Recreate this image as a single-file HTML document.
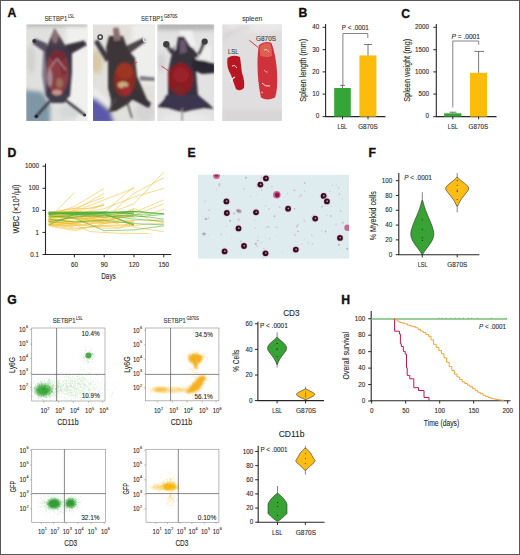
<!DOCTYPE html>
<html><head><meta charset="utf-8"><style>
html,body{margin:0;padding:0;background:#fff;overflow:hidden;}
svg{display:block;font-family:"Liberation Sans", sans-serif;}
</style></head><body>
<svg width="520" height="555" viewBox="0 0 520 555">
<rect x="0" y="0" width="520" height="555" fill="#fff"/>
<text x="7.60" y="16.99" font-size="12.2" font-weight="bold" fill="#111" stroke="#111" stroke-width="0.35">A</text>
<text x="298.60" y="17.39" font-size="12.2" font-weight="bold" fill="#111" stroke="#111" stroke-width="0.35">B</text>
<text x="401.20" y="17.79" font-size="12.2" font-weight="bold" fill="#111" stroke="#111" stroke-width="0.35">C</text>
<text x="7.60" y="156.99" font-size="12.2" font-weight="bold" fill="#111" stroke="#111" stroke-width="0.35">D</text>
<text x="187.60" y="156.99" font-size="12.2" font-weight="bold" fill="#111" stroke="#111" stroke-width="0.35">E</text>
<text x="368.40" y="156.99" font-size="12.2" font-weight="bold" fill="#111" stroke="#111" stroke-width="0.35">F</text>
<text x="7.20" y="303.99" font-size="12.2" font-weight="bold" fill="#111" stroke="#111" stroke-width="0.35">G</text>
<text x="341.20" y="303.99" font-size="12.2" font-weight="bold" fill="#111" stroke="#111" stroke-width="0.35">H</text>
<defs>
<filter id="bl1" x="-20%" y="-20%" width="140%" height="140%"><feGaussianBlur stdDeviation="0.8"/></filter>
<filter id="bl2" x="-30%" y="-30%" width="160%" height="160%"><feGaussianBlur stdDeviation="2.2"/></filter>
<filter id="bl05" x="-20%" y="-20%" width="140%" height="140%"><feGaussianBlur stdDeviation="0.5"/></filter>
<clipPath id="cp1"><rect x="26.3" y="24.4" width="61" height="96.6"/></clipPath>
<clipPath id="cp2"><rect x="93" y="24.5" width="61.8" height="96.5"/></clipPath>
<clipPath id="cp3"><rect x="157.3" y="24.5" width="56.8" height="96.5"/></clipPath>
<clipPath id="cp4"><rect x="222.3" y="24.5" width="59.7" height="96.5"/></clipPath>
</defs>
<g clip-path="url(#cp1)">
<rect x="26" y="24" width="62" height="98" fill="#e0e0de"/>
<g filter="url(#bl2)">
<rect x="66" y="24" width="24" height="98" fill="#f0f0ee"/>
<rect x="26" y="22" width="62" height="4" fill="#a8a8a8"/>
<path d="M24,90 L42,92 L50,104 L50,124 L24,124 Z" fill="#7e96a6"/>
<ellipse cx="31" cy="60" rx="4" ry="14" fill="#d0d0d0"/>
<ellipse cx="70" cy="112" rx="10" ry="8" fill="#d4d8d8"/>
</g>
<g filter="url(#bl1)">
<path d="M43,52 L49,52 L50,95 L45,96 L42,75 Z" fill="#857e8e"/>
<path d="M46,46 L68,46 L72,52 L72,72 L70,96 L63,102 L51,102 L46,96 L46.5,75 L45,52 Z" fill="#3e3846"/>
<path d="M54.6,28.3 L46.5,47.5 L66.5,47.5 Z" fill="#463c48"/>
<ellipse cx="55" cy="37" rx="3.2" ry="6.5" fill="#8a7078"/>
<path d="M47,43.5 L35,38.5 L32.5,43.5 L46,53 Z" fill="#575062"/>
<path d="M65,45 L84,40.5 L87,45 L71,54 Z" fill="#38323e"/>
<path d="M47,94 L69,94 L64,103 L51,103 Z" fill="#423c4c"/>
<path d="M50,101 L36.5,116 M64,99 L84.5,114.8" stroke="#3a3540" stroke-width="2.4" fill="none"/>
<ellipse cx="57.5" cy="72.5" rx="11.2" ry="22.5" fill="#8c3c46"/>
<ellipse cx="58" cy="56" rx="8" ry="5.5" fill="#742a34"/>
<ellipse cx="49.8" cy="78" rx="2.6" ry="9" fill="#a88a90"/>
<ellipse cx="59.5" cy="83" rx="3.5" ry="5" fill="#9a6e52"/>
<ellipse cx="57" cy="92.5" rx="5" ry="3" fill="#c49484"/>
<ellipse cx="64" cy="68" rx="3.5" ry="8" fill="#7e3038"/>
<path d="M48.5,70 L57,58.6 L66,70" fill="none" stroke="#c8a8ac" stroke-width="1.0"/>
</g>
<circle cx="34.3" cy="41" r="2" fill="#3a3434"/>
<circle cx="36.3" cy="116.3" r="1.9" fill="#2a2a2a"/>
<circle cx="84.6" cy="115" r="1.5" fill="#333"/>
</g>
<g clip-path="url(#cp2)">
<rect x="93" y="24" width="62" height="98" fill="#e2e0dc"/>
<g filter="url(#bl2)">
<rect x="132" y="24" width="26" height="60" fill="#eeeeec"/>
<ellipse cx="97" cy="62" rx="6" ry="12" fill="#d8c8a6"/>
<path d="M90,98 L106,99 L114,124 L90,124 Z" fill="#5a58a8"/>
<ellipse cx="145" cy="112" rx="10" ry="10" fill="#d4d4d6"/>
<path d="M92,86 L112,104 L110,110 L90,94 Z" fill="#eeeeee"/>
</g>
<g filter="url(#bl1)">
<path d="M94,42 L98,39.5 L110,58 L106,62 Z" fill="#3e3a40"/>
<path d="M120,49 L143,38 L146,41.5 L126,56 Z" fill="#4a4448"/>
<path d="M109,36 L123,36 L128,50 L135,58 L137,76 L149,104 L146,107 L134,98 L128,104 L116,111 L110,112 L111,100 L108,88 L108,60 L106,48 Z" fill="#3c3639"/>
<path d="M113,28 L118.5,27.5 L121,40 L114,41 Z" fill="#8a6e70"/>
<path d="M140,76 L155,77.5 L155,81 L140,80.5 Z" fill="#7a7a80"/>
<path d="M116,98 L108,113 M127,102 L132,118" stroke="#505058" stroke-width="1.6" fill="none"/>
<path d="M133,88 L151,103 L149,108 L131,99 Z" fill="#38323a"/>
<ellipse cx="124.6" cy="79.5" rx="10.5" ry="17" fill="#8e2c20"/>
<ellipse cx="125" cy="71" rx="8.5" ry="8" fill="#9c3422"/>
<ellipse cx="123" cy="85" rx="5.5" ry="3.5" fill="#c8aa7c"/>
<ellipse cx="126" cy="90.5" rx="5" ry="4" fill="#a02a36"/>
</g>
<line x1="137" y1="62" x2="132" y2="65" stroke="#e02020" stroke-width="0.8"/>
<circle cx="100.2" cy="37.1" r="2.2" fill="none" stroke="#3a3a3c" stroke-width="1.4"/>
<circle cx="145.4" cy="39.5" r="2" fill="none" stroke="#e8e8e8" stroke-width="1.2"/>
</g>
<g clip-path="url(#cp3)">
<rect x="157" y="24" width="58" height="98" fill="#e2e2e2"/>
<g filter="url(#bl2)">
<rect x="157" y="22" width="58" height="8" fill="#b4b4b4"/>
<ellipse cx="161" cy="62" rx="4" ry="10" fill="#d2d2d2"/>
<ellipse cx="186" cy="118" rx="24" ry="4" fill="#eaeaea"/>
</g>
<g filter="url(#bl1)">
<path d="M179,31 L192,31 L196,46 L186,46 Z" fill="#f0f0f0"/>
<path d="M197,46 L211,46 L211,63 L198,63 Z" fill="#eeeeec"/>
<path d="M166.3,44.3 L172.4,53.6 M204.7,41.5 L198.7,54.7" stroke="#3a3a3e" stroke-width="3.2" fill="none"/>
<path d="M169,52 L176,50 L178,37 L184,36.5 L190,46 L197,53 L199,58 L195,57 L196,72 L198,95 L209,104 L214,109 L204,108 L192,110 L184,112 L178,111 L168,108 L157,107 L162,102 L168,95 L168,72 L171,57 L175,46 Z" fill="#38303e"/>
<path d="M180,40 L185,40 L187,52 L180,54 Z" fill="#6a5a70"/>
<path d="M192,59 L206,61 L215,64 L215,73 L202,74 L193,70 Z" fill="#2c2630"/>
<path d="M166,95 L198,95 L207,104 L196,109 L178,109 L163,104 Z" fill="#3a3650"/>
<ellipse cx="180.5" cy="79" rx="12.5" ry="16" fill="#8a1a22"/>
<ellipse cx="181" cy="75" rx="8" ry="8" fill="#9a2029"/>
<ellipse cx="178" cy="90" rx="5" ry="3" fill="#7a2a22"/>
<path d="M182.2,108 L182.2,121" stroke="#8a8a90" stroke-width="1.4"/>
</g>
<line x1="161.4" y1="66.1" x2="169.7" y2="71.6" stroke="#e02030" stroke-width="0.8"/>
<circle cx="166.3" cy="44.3" r="3.2" fill="#3e3e40"/>
<circle cx="204.7" cy="41.5" r="3.1" fill="#3e3e40"/>
</g>
<g clip-path="url(#cp4)">
<rect x="222" y="24" width="61" height="98" fill="#e0dede"/>
<g filter="url(#bl2)">
<ellipse cx="258" cy="27" rx="30" ry="5" fill="#eae8e8"/>
<path d="M224,40 Q230,28 250,27" fill="none" stroke="#c8c6c6" stroke-width="2"/>
<rect x="222" y="110" width="61" height="13" fill="#d8d6d6"/>
</g>
<g filter="url(#bl05)">
<path d="M227.5,58 Q233,54 240,57 Q241,65 242,73 Q245,81 244,88 Q240,92 236,89 Q233,81 231,75 Q226,67 227.5,58 Z" fill="#b81824"/>
<path d="M259,45 Q265,40 271.5,43 Q276,55 277,72 Q278,90 275,97.5 Q267,101.5 261,97.5 Q257.5,82 257.5,64 Q257.5,52 259,45 Z" fill="#d0303a"/>
<path d="M260,46 Q265,41 270.5,44 Q272.5,50 272,56 Q267,58 260.5,56 Q259,51 260,46 Z" fill="#de6052"/>
<path d="M232,66 Q235,64 237,68" fill="none" stroke="#f4e0e0" stroke-width="0.9"/>
<path d="M231,82 Q232,78 235,77" fill="none" stroke="#f8f0f0" stroke-width="1.2"/>
<path d="M264,50 Q267,48 269,52" fill="none" stroke="#f4d8d0" stroke-width="0.8"/>
<path d="M262,83 Q265,87 270,86" fill="none" stroke="#f4e0e0" stroke-width="1"/>
<path d="M264,70 Q266,73 268,72" fill="none" stroke="#f0d0d0" stroke-width="0.7"/>
<path d="M261,92 L263,93" fill="none" stroke="#f0e0e0" stroke-width="0.8"/>
</g>
<line x1="249.3" y1="40.3" x2="258.2" y2="47.5" stroke="#d02838" stroke-width="0.9"/>
</g>
<text x="233.20" y="53.60" font-size="7.6" text-anchor="middle" textLength="10.4" lengthAdjust="spacingAndGlyphs" fill="#383838" stroke="#383838" stroke-width="0.1">LSL</text>
<text x="266.00" y="40.60" font-size="7.6" text-anchor="middle" textLength="20" lengthAdjust="spacingAndGlyphs" fill="#383838" stroke="#383838" stroke-width="0.1">G870S</text>
<text x="44.40" y="20.90" font-size="7.0" textLength="22.9" lengthAdjust="spacingAndGlyphs" fill="#333" stroke="#333" stroke-width="0.1">SETBP1</text>
<text x="67.90" y="17.60" font-size="4.6" textLength="6.2" lengthAdjust="spacingAndGlyphs" fill="#333" stroke="#333" stroke-width="0.1">LSL</text>
<text x="141.10" y="20.90" font-size="7.0" textLength="22.3" lengthAdjust="spacingAndGlyphs" fill="#333" stroke="#333" stroke-width="0.1">SETBP1</text>
<text x="164.00" y="17.60" font-size="4.6" textLength="13.5" lengthAdjust="spacingAndGlyphs" fill="#333" stroke="#333" stroke-width="0.1">G870S</text>
<text x="252.20" y="21.00" font-size="7.4" text-anchor="middle" textLength="20" lengthAdjust="spacingAndGlyphs" fill="#333" stroke="#333" stroke-width="0.1">spleen</text>
<line x1="325.60" y1="24.00" x2="325.60" y2="117.00" stroke="#262626" stroke-width="1.1"/>
<line x1="325.10" y1="116.60" x2="385.50" y2="116.60" stroke="#262626" stroke-width="1.1"/>
<line x1="322.60" y1="27.30" x2="325.60" y2="27.30" stroke="#262626" stroke-width="1"/>
<text x="319.20" y="29.10" font-size="6.8" text-anchor="end" textLength="7.0" lengthAdjust="spacingAndGlyphs" fill="#262626" stroke="#262626" stroke-width="0.1">40</text>
<line x1="322.60" y1="49.70" x2="325.60" y2="49.70" stroke="#262626" stroke-width="1"/>
<text x="319.20" y="51.50" font-size="6.8" text-anchor="end" textLength="7.0" lengthAdjust="spacingAndGlyphs" fill="#262626" stroke="#262626" stroke-width="0.1">30</text>
<line x1="322.60" y1="71.90" x2="325.60" y2="71.90" stroke="#262626" stroke-width="1"/>
<text x="319.20" y="73.70" font-size="6.8" text-anchor="end" textLength="7.0" lengthAdjust="spacingAndGlyphs" fill="#262626" stroke="#262626" stroke-width="0.1">20</text>
<line x1="322.60" y1="94.10" x2="325.60" y2="94.10" stroke="#262626" stroke-width="1"/>
<text x="319.20" y="95.90" font-size="6.8" text-anchor="end" textLength="7.0" lengthAdjust="spacingAndGlyphs" fill="#262626" stroke="#262626" stroke-width="0.1">10</text>
<line x1="322.60" y1="116.60" x2="325.60" y2="116.60" stroke="#262626" stroke-width="1"/>
<text x="319.20" y="118.40" font-size="6.8" text-anchor="end" textLength="3.5" lengthAdjust="spacingAndGlyphs" fill="#262626" stroke="#262626" stroke-width="0.1">0</text>
<rect x="334.2" y="88.0" width="16.6" height="28.6" fill="#35a537"/>
<rect x="359.4" y="55.4" width="17.0" height="61.2" fill="#fcbc0c"/>
<line x1="342.50" y1="85.40" x2="342.50" y2="88.00" stroke="#555" stroke-width="0.8"/>
<line x1="340.20" y1="85.40" x2="345.00" y2="85.40" stroke="#555" stroke-width="0.8"/>
<line x1="368.00" y1="44.50" x2="368.00" y2="55.40" stroke="#555" stroke-width="0.8"/>
<line x1="364.20" y1="44.50" x2="372.00" y2="44.50" stroke="#555" stroke-width="0.8"/>
<polyline points="342.9,86 342.9,33.5 367.8,33.5 367.8,38" fill="none" stroke="#666" stroke-width="0.8"/>
<text x="355.30" y="29.90" font-size="6.8" text-anchor="middle" textLength="27" lengthAdjust="spacingAndGlyphs" fill="#262626" stroke="#262626" stroke-width="0.1">P &lt; .0001</text>
<line x1="342.50" y1="116.60" x2="342.50" y2="119.30" stroke="#262626" stroke-width="1"/>
<line x1="368.00" y1="116.60" x2="368.00" y2="119.30" stroke="#262626" stroke-width="1"/>
<text x="342.30" y="129.00" font-size="6.6" text-anchor="middle" textLength="9.6" lengthAdjust="spacingAndGlyphs" fill="#262626" stroke="#262626" stroke-width="0.1">LSL</text>
<text x="368.00" y="129.00" font-size="6.6" text-anchor="middle" textLength="19.5" lengthAdjust="spacingAndGlyphs" fill="#262626" stroke="#262626" stroke-width="0.1">G870S</text>
<text x="0.00" y="0.00" font-size="8.8" text-anchor="middle" textLength="63" lengthAdjust="spacingAndGlyphs" fill="#262626" stroke="#262626" stroke-width="0.1" transform="translate(306.4,70.3) rotate(-90)">Spleen length (mm)</text>
<line x1="436.30" y1="24.00" x2="436.30" y2="117.00" stroke="#262626" stroke-width="1.1"/>
<line x1="435.80" y1="116.60" x2="496.50" y2="116.60" stroke="#262626" stroke-width="1.1"/>
<line x1="433.30" y1="27.30" x2="436.30" y2="27.30" stroke="#262626" stroke-width="1"/>
<text x="429.00" y="29.10" font-size="6.8" text-anchor="end" textLength="14.0" lengthAdjust="spacingAndGlyphs" fill="#262626" stroke="#262626" stroke-width="0.1">2000</text>
<line x1="433.30" y1="49.70" x2="436.30" y2="49.70" stroke="#262626" stroke-width="1"/>
<text x="429.00" y="51.50" font-size="6.8" text-anchor="end" textLength="14.0" lengthAdjust="spacingAndGlyphs" fill="#262626" stroke="#262626" stroke-width="0.1">1500</text>
<line x1="433.30" y1="71.90" x2="436.30" y2="71.90" stroke="#262626" stroke-width="1"/>
<text x="429.00" y="73.70" font-size="6.8" text-anchor="end" textLength="14.0" lengthAdjust="spacingAndGlyphs" fill="#262626" stroke="#262626" stroke-width="0.1">1000</text>
<line x1="433.30" y1="94.10" x2="436.30" y2="94.10" stroke="#262626" stroke-width="1"/>
<text x="429.00" y="95.90" font-size="6.8" text-anchor="end" textLength="10.5" lengthAdjust="spacingAndGlyphs" fill="#262626" stroke="#262626" stroke-width="0.1">500</text>
<line x1="433.30" y1="116.60" x2="436.30" y2="116.60" stroke="#262626" stroke-width="1"/>
<text x="429.00" y="118.40" font-size="6.8" text-anchor="end" textLength="3.5" lengthAdjust="spacingAndGlyphs" fill="#262626" stroke="#262626" stroke-width="0.1">0</text>
<rect x="444.2" y="113.3" width="17.2" height="3.3" fill="#35a537"/>
<rect x="470.0" y="72.8" width="17.0" height="43.8" fill="#fcbc0c"/>
<line x1="452.80" y1="112.20" x2="452.80" y2="113.30" stroke="#555" stroke-width="0.8"/>
<line x1="449.50" y1="112.20" x2="456.50" y2="112.20" stroke="#555" stroke-width="0.8"/>
<line x1="478.60" y1="51.40" x2="478.60" y2="72.80" stroke="#555" stroke-width="0.8"/>
<line x1="474.40" y1="51.40" x2="484.00" y2="51.40" stroke="#555" stroke-width="0.8"/>
<polyline points="452.8,107.4 452.8,41 478.7,41 478.7,44.8" fill="none" stroke="#666" stroke-width="0.8"/>
<text x="465.70" y="38.60" font-size="6.8" text-anchor="middle" textLength="28.6" lengthAdjust="spacingAndGlyphs" fill="#262626" stroke="#262626" stroke-width="0.1"><tspan font-style="italic">P</tspan> = .0001</text>
<line x1="452.80" y1="116.60" x2="452.80" y2="119.30" stroke="#262626" stroke-width="1"/>
<line x1="478.60" y1="116.60" x2="478.60" y2="119.30" stroke="#262626" stroke-width="1"/>
<text x="452.80" y="129.00" font-size="6.6" text-anchor="middle" textLength="10" lengthAdjust="spacingAndGlyphs" fill="#262626" stroke="#262626" stroke-width="0.1">LSL</text>
<text x="478.30" y="129.00" font-size="6.6" text-anchor="middle" textLength="19.6" lengthAdjust="spacingAndGlyphs" fill="#262626" stroke="#262626" stroke-width="0.1">G870S</text>
<text x="0.00" y="0.00" font-size="8.8" text-anchor="middle" textLength="63" lengthAdjust="spacingAndGlyphs" fill="#262626" stroke="#262626" stroke-width="0.1" transform="translate(409.8,70.3) rotate(-90)">Spleen weight (mg)</text>
<line x1="45.50" y1="163.50" x2="45.50" y2="255.00" stroke="#262626" stroke-width="1.1"/>
<line x1="45.00" y1="254.50" x2="171.30" y2="254.50" stroke="#262626" stroke-width="1.1"/>
<line x1="42.50" y1="166.22" x2="45.50" y2="166.22" stroke="#262626" stroke-width="1"/>
<text x="39.00" y="168.32" font-size="6.8" text-anchor="end" textLength="14.0" lengthAdjust="spacingAndGlyphs" fill="#262626" stroke="#262626" stroke-width="0.1">1000</text>
<line x1="42.50" y1="188.29" x2="45.50" y2="188.29" stroke="#262626" stroke-width="1"/>
<text x="39.00" y="190.39" font-size="6.8" text-anchor="end" textLength="10.5" lengthAdjust="spacingAndGlyphs" fill="#262626" stroke="#262626" stroke-width="0.1">100</text>
<line x1="42.50" y1="210.36" x2="45.50" y2="210.36" stroke="#262626" stroke-width="1"/>
<text x="39.00" y="212.46" font-size="6.8" text-anchor="end" textLength="7.0" lengthAdjust="spacingAndGlyphs" fill="#262626" stroke="#262626" stroke-width="0.1">10</text>
<line x1="42.50" y1="232.43" x2="45.50" y2="232.43" stroke="#262626" stroke-width="1"/>
<text x="39.00" y="234.53" font-size="6.8" text-anchor="end" textLength="3.5" lengthAdjust="spacingAndGlyphs" fill="#262626" stroke="#262626" stroke-width="0.1">1</text>
<line x1="42.50" y1="254.50" x2="45.50" y2="254.50" stroke="#262626" stroke-width="1"/>
<text x="39.00" y="256.60" font-size="6.8" text-anchor="end" textLength="8.7" lengthAdjust="spacingAndGlyphs" fill="#262626" stroke="#262626" stroke-width="0.1">0.1</text>
<line x1="74.40" y1="254.50" x2="74.40" y2="257.30" stroke="#262626" stroke-width="1"/>
<text x="74.40" y="266.80" font-size="6.8" text-anchor="middle" textLength="7.0" lengthAdjust="spacingAndGlyphs" fill="#262626" stroke="#262626" stroke-width="0.1">60</text>
<line x1="104.20" y1="254.50" x2="104.20" y2="257.30" stroke="#262626" stroke-width="1"/>
<text x="104.20" y="266.80" font-size="6.8" text-anchor="middle" textLength="7.0" lengthAdjust="spacingAndGlyphs" fill="#262626" stroke="#262626" stroke-width="0.1">90</text>
<line x1="134.00" y1="254.50" x2="134.00" y2="257.30" stroke="#262626" stroke-width="1"/>
<text x="134.00" y="266.80" font-size="6.8" text-anchor="middle" textLength="10.5" lengthAdjust="spacingAndGlyphs" fill="#262626" stroke="#262626" stroke-width="0.1">120</text>
<line x1="163.80" y1="254.50" x2="163.80" y2="257.30" stroke="#262626" stroke-width="1"/>
<text x="163.80" y="266.80" font-size="6.8" text-anchor="middle" textLength="10.5" lengthAdjust="spacingAndGlyphs" fill="#262626" stroke="#262626" stroke-width="0.1">150</text>
<text x="108.50" y="278.90" font-size="8.8" text-anchor="middle" textLength="14.5" lengthAdjust="spacingAndGlyphs" fill="#262626" stroke="#262626" stroke-width="0.1">Days</text>
<text x="0.00" y="0.00" font-size="8.8" text-anchor="middle" fill="#262626" stroke="#262626" stroke-width="0.1" transform="translate(19.3,209) rotate(-90) scale(0.862,1)">WBC (×10<tspan font-size="5" dy="-3">3</tspan><tspan dy="3" dx="0.8">/µl)</tspan></text>
<polyline points="48.6,219.1 74.4,221.9 104.2,215.3 134.0,203.7 163.8,172.1" fill="none" stroke="#f2bd2e" stroke-width="0.65" stroke-opacity="0.85"/>
<polyline points="48.6,217.0 74.4,215.3 104.2,208.6 134.0,197.1 163.8,188.3" fill="none" stroke="#f2bd2e" stroke-width="0.65" stroke-opacity="0.85"/>
<polyline points="48.6,221.9 74.4,217.0 104.2,212.5 134.0,186.5" fill="none" stroke="#f2bd2e" stroke-width="0.65" stroke-opacity="0.85"/>
<polyline points="48.6,215.3 74.4,206.5 104.2,188.3" fill="none" stroke="#f2bd2e" stroke-width="0.65" stroke-opacity="0.85"/>
<polyline points="48.6,219.1 74.4,192.4" fill="none" stroke="#f2bd2e" stroke-width="0.65" stroke-opacity="0.85"/>
<polyline points="48.6,212.5 74.4,208.6 104.2,197.1" fill="none" stroke="#f2bd2e" stroke-width="0.65" stroke-opacity="0.85"/>
<polyline points="48.6,223.6 74.4,225.8 104.2,221.9 134.0,212.5 163.8,199.8" fill="none" stroke="#f2bd2e" stroke-width="0.65" stroke-opacity="0.85"/>
<polyline points="48.6,217.0 74.4,219.1 104.2,217.0 134.0,215.3 163.8,203.7" fill="none" stroke="#f2bd2e" stroke-width="0.65" stroke-opacity="0.85"/>
<polyline points="48.6,221.9 74.4,223.6 104.2,219.1 134.0,193.2 163.8,177.8" fill="none" stroke="#f2bd2e" stroke-width="0.65" stroke-opacity="0.85"/>
<polyline points="48.6,213.8 74.4,211.4 104.2,199.8 134.0,188.3" fill="none" stroke="#f2bd2e" stroke-width="0.65" stroke-opacity="0.85"/>
<polyline points="48.6,219.1 64.5,213.8 74.4,210.4 104.2,193.2" fill="none" stroke="#f2bd2e" stroke-width="0.65" stroke-opacity="0.85"/>
<polyline points="48.6,225.8 74.4,230.7 104.2,223.6 134.0,208.6" fill="none" stroke="#f2bd2e" stroke-width="0.65" stroke-opacity="0.85"/>
<polyline points="49.9,216.8 74.4,218.6 104.2,222.6 134.0,222.3" fill="none" stroke="#f2bd2e" stroke-width="0.7" stroke-opacity="0.8"/>
<polyline points="48.5,214.4 74.4,213.0" fill="none" stroke="#f2bd2e" stroke-width="0.7" stroke-opacity="0.8"/>
<polyline points="49.1,222.2 74.4,224.0 89.3,231.5 119.1,233.3 148.9,233.5" fill="none" stroke="#f2bd2e" stroke-width="0.7" stroke-opacity="0.8"/>
<polyline points="47.7,225.2 74.4,225.4 89.3,224.9 119.1,227.7 148.9,223.8 163.8,223.7" fill="none" stroke="#f2bd2e" stroke-width="0.7" stroke-opacity="0.8"/>
<polyline points="47.6,220.5 74.4,221.0 104.2,220.5 134.0,220.3 163.8,220.0" fill="none" stroke="#f2bd2e" stroke-width="0.7" stroke-opacity="0.8"/>
<polyline points="49.1,224.5 74.4,227.0" fill="none" stroke="#f2bd2e" stroke-width="0.7" stroke-opacity="0.8"/>
<polyline points="47.8,220.6 74.4,218.3 104.2,219.1 134.0,216.4" fill="none" stroke="#f2bd2e" stroke-width="0.7" stroke-opacity="0.8"/>
<polyline points="49.4,211.8 74.4,213.6 104.2,213.1" fill="none" stroke="#f2bd2e" stroke-width="0.7" stroke-opacity="0.8"/>
<polyline points="48.3,219.5 74.4,214.9 89.3,220.2 104.2,223.4 134.0,220.8" fill="none" stroke="#f2bd2e" stroke-width="0.7" stroke-opacity="0.8"/>
<polyline points="50.1,216.3 74.4,217.6 89.3,219.1 104.2,220.1" fill="none" stroke="#f2bd2e" stroke-width="0.7" stroke-opacity="0.8"/>
<polyline points="49.2,223.0 74.4,223.8 104.2,228.3 119.1,228.3 134.0,220.4" fill="none" stroke="#f2bd2e" stroke-width="0.7" stroke-opacity="0.8"/>
<polyline points="49.0,213.2 74.4,210.9 104.2,216.0 134.0,211.4 148.9,219.4 163.8,223.0" fill="none" stroke="#f2bd2e" stroke-width="0.7" stroke-opacity="0.8"/>
<polyline points="48.6,213.3 74.4,211.3 89.3,212.0 119.1,212.8 134.0,210.8" fill="none" stroke="#f2bd2e" stroke-width="0.7" stroke-opacity="0.8"/>
<polyline points="50.0,225.7 74.4,229.1 104.2,225.3 134.0,224.5" fill="none" stroke="#f2bd2e" stroke-width="0.7" stroke-opacity="0.8"/>
<polyline points="49.7,214.4 74.4,211.1 104.2,218.0 119.1,215.0 134.0,208.6 148.9,214.7 163.8,209.0" fill="none" stroke="#f2bd2e" stroke-width="0.7" stroke-opacity="0.8"/>
<polyline points="50.3,218.3 74.4,214.0 104.2,216.1" fill="none" stroke="#f2bd2e" stroke-width="0.7" stroke-opacity="0.8"/>
<polyline points="50.3,213.2 74.4,208.2 89.3,208.8 104.2,205.0" fill="none" stroke="#f2bd2e" stroke-width="0.7" stroke-opacity="0.8"/>
<polyline points="49.6,222.2 74.4,222.2 104.2,223.7 119.1,221.5" fill="none" stroke="#f2bd2e" stroke-width="0.7" stroke-opacity="0.8"/>
<polyline points="50.3,225.1 74.4,223.7 89.3,218.2 119.1,223.9" fill="none" stroke="#f2bd2e" stroke-width="0.7" stroke-opacity="0.8"/>
<polyline points="49.0,221.4 74.4,221.5" fill="none" stroke="#f2bd2e" stroke-width="0.7" stroke-opacity="0.8"/>
<polyline points="47.8,216.7 74.4,218.8" fill="none" stroke="#f2bd2e" stroke-width="0.7" stroke-opacity="0.8"/>
<polyline points="49.8,214.8 74.4,216.9 104.2,215.7 134.0,215.8" fill="none" stroke="#f2bd2e" stroke-width="0.7" stroke-opacity="0.8"/>
<polyline points="47.7,212.7 74.4,212.6 89.3,207.9 104.2,205.2" fill="none" stroke="#f2bd2e" stroke-width="0.7" stroke-opacity="0.8"/>
<polyline points="49.3,217.7 74.4,213.8 89.3,214.4" fill="none" stroke="#f2bd2e" stroke-width="0.7" stroke-opacity="0.8"/>
<polyline points="50.4,221.4 74.4,217.7" fill="none" stroke="#f2bd2e" stroke-width="0.7" stroke-opacity="0.8"/>
<polyline points="49.4,216.4 74.4,214.4 89.3,210.9 104.2,203.7" fill="none" stroke="#f2bd2e" stroke-width="0.7" stroke-opacity="0.8"/>
<polyline points="47.7,213.6 74.4,217.6 104.2,217.6 119.1,214.3" fill="none" stroke="#f2bd2e" stroke-width="0.7" stroke-opacity="0.8"/>
<polyline points="50.0,213.4 74.4,213.3 89.3,216.7 104.2,222.7" fill="none" stroke="#f2bd2e" stroke-width="0.7" stroke-opacity="0.8"/>
<polyline points="49.4,216.6 74.4,216.9 104.2,215.3 119.1,219.2 134.0,223.2" fill="none" stroke="#f2bd2e" stroke-width="0.7" stroke-opacity="0.8"/>
<polyline points="47.7,213.0 74.4,211.6" fill="none" stroke="#f2bd2e" stroke-width="0.7" stroke-opacity="0.8"/>
<polyline points="50.4,222.7 74.4,223.1" fill="none" stroke="#f2bd2e" stroke-width="0.7" stroke-opacity="0.8"/>
<polyline points="49.5,222.2 74.4,221.9 89.3,223.0 119.1,218.4 134.0,227.2 163.8,231.7" fill="none" stroke="#f2bd2e" stroke-width="0.7" stroke-opacity="0.8"/>
<polyline points="47.8,221.1 74.4,224.8 89.3,220.3 104.2,219.7 134.0,216.2" fill="none" stroke="#f2bd2e" stroke-width="0.7" stroke-opacity="0.8"/>
<polyline points="47.8,223.9 74.4,228.1 104.2,226.0 134.0,225.5" fill="none" stroke="#f2bd2e" stroke-width="0.7" stroke-opacity="0.8"/>
<polyline points="48.6,213.1 74.4,213.1 104.2,212.5 134.0,211.9" fill="none" stroke="#4cb23a" stroke-width="1.1" stroke-opacity="0.85"/>
<polyline points="48.6,212.5 74.4,213.8 104.2,213.1 134.0,211.4 163.8,213.8" fill="none" stroke="#4cb23a" stroke-width="1.1" stroke-opacity="0.85"/>
<polyline points="48.6,214.5 74.4,212.5 104.2,211.9 134.0,213.8" fill="none" stroke="#4cb23a" stroke-width="1.1" stroke-opacity="0.85"/>
<polyline points="48.6,213.8 74.4,214.5 104.2,213.8 134.0,224.9" fill="none" stroke="#4cb23a" stroke-width="1.1" stroke-opacity="0.85"/>
<polyline points="48.6,217.0 74.4,215.3 104.2,213.8 134.0,217.0 163.8,214.5" fill="none" stroke="#4cb23a" stroke-width="0.7" stroke-opacity="0.85"/>
<polyline points="48.6,215.3 74.4,218.0 104.2,230.7 134.0,229.9 163.8,225.8" fill="none" stroke="#4cb23a" stroke-width="0.7" stroke-opacity="0.85"/>
<polyline points="48.6,219.1 74.4,221.9 104.2,220.4 134.0,223.6 163.8,224.9" fill="none" stroke="#4cb23a" stroke-width="0.7" stroke-opacity="0.85"/>
<polyline points="48.6,221.9 74.4,217.0 104.2,215.3 134.0,219.1 163.8,221.3" fill="none" stroke="#4cb23a" stroke-width="0.7" stroke-opacity="0.85"/>
<polyline points="48.6,211.9 74.4,212.5 104.2,212.5 134.0,214.5 163.8,213.5" fill="none" stroke="#4cb23a" stroke-width="0.7" stroke-opacity="0.85"/>
<polyline points="48.6,224.9 74.4,214.5 104.2,217.0 134.0,215.3 163.8,219.1" fill="none" stroke="#4cb23a" stroke-width="0.7" stroke-opacity="0.85"/>
<clipPath id="cpE"><rect x="198" y="174.6" width="151" height="84.2"/></clipPath>
<g clip-path="url(#cpE)">
<rect x="198" y="174.6" width="151" height="84.2" fill="#dfecef"/>
<circle cx="263.8" cy="248.4" r="0.66" fill="#c0b0bc" opacity="0.7"/>
<circle cx="304.9" cy="183.0" r="0.91" fill="#b8a8b8" opacity="0.7"/>
<circle cx="322.0" cy="231.0" r="0.66" fill="#c8bcc8" opacity="0.7"/>
<circle cx="208.6" cy="218.1" r="0.93" fill="#c8bcc8" opacity="0.7"/>
<circle cx="238.7" cy="219.5" r="0.92" fill="#b8a8b8" opacity="0.7"/>
<circle cx="332.6" cy="185.4" r="0.53" fill="#b8a8b8" opacity="0.7"/>
<circle cx="295.0" cy="234.8" r="1.10" fill="#c8bcc8" opacity="0.7"/>
<circle cx="338.9" cy="245.0" r="0.94" fill="#a89aa8" opacity="0.7"/>
<circle cx="294.5" cy="190.3" r="0.93" fill="#c0b0bc" opacity="0.7"/>
<circle cx="311.9" cy="234.9" r="0.71" fill="#b8a8b8" opacity="0.7"/>
<circle cx="261.5" cy="177.8" r="0.99" fill="#c0b0bc" opacity="0.7"/>
<circle cx="279.8" cy="207.2" r="0.78" fill="#b8a8b8" opacity="0.7"/>
<circle cx="255.8" cy="243.9" r="1.04" fill="#a89aa8" opacity="0.7"/>
<circle cx="256.7" cy="186.4" r="0.93" fill="#c8bcc8" opacity="0.7"/>
<circle cx="221.1" cy="234.2" r="0.98" fill="#c8bcc8" opacity="0.7"/>
<circle cx="336.2" cy="185.2" r="0.46" fill="#a89aa8" opacity="0.7"/>
<circle cx="216.4" cy="189.7" r="0.80" fill="#c8bcc8" opacity="0.7"/>
<circle cx="265.5" cy="237.3" r="0.53" fill="#c0b0bc" opacity="0.7"/>
<circle cx="231.4" cy="238.8" r="0.45" fill="#c8bcc8" opacity="0.7"/>
<circle cx="269.5" cy="177.7" r="0.62" fill="#c0b0bc" opacity="0.7"/>
<circle cx="306.2" cy="212.8" r="0.44" fill="#c0b0bc" opacity="0.7"/>
<circle cx="347.3" cy="248.8" r="1.04" fill="#a89aa8" opacity="0.7"/>
<circle cx="257.7" cy="193.9" r="0.49" fill="#b8a8b8" opacity="0.7"/>
<circle cx="203.9" cy="216.8" r="0.49" fill="#b8a8b8" opacity="0.7"/>
<circle cx="327.2" cy="215.2" r="0.53" fill="#b8a8b8" opacity="0.7"/>
<circle cx="298.8" cy="197.1" r="0.77" fill="#c8bcc8" opacity="0.7"/>
<circle cx="275.9" cy="227.2" r="0.78" fill="#c0b0bc" opacity="0.7"/>
<circle cx="257.9" cy="240.6" r="1.01" fill="#c0b0bc" opacity="0.7"/>
<circle cx="219.3" cy="184.4" r="1.09" fill="#b8a8b8" opacity="0.7"/>
<circle cx="339.3" cy="194.1" r="1.08" fill="#c8bcc8" opacity="0.7"/>
<circle cx="274.5" cy="216.3" r="1.04" fill="#b8a8b8" opacity="0.7"/>
<circle cx="205.0" cy="201.2" r="0.82" fill="#c8bcc8" opacity="0.7"/>
<circle cx="234.2" cy="213.6" r="1.02" fill="#b8a8b8" opacity="0.7"/>
<circle cx="312.4" cy="243.8" r="0.93" fill="#c8bcc8" opacity="0.7"/>
<circle cx="325.6" cy="231.6" r="0.91" fill="#a89aa8" opacity="0.7"/>
<circle cx="243.9" cy="188.9" r="0.93" fill="#c8bcc8" opacity="0.7"/>
<circle cx="336.0" cy="224.5" r="0.63" fill="#b8a8b8" opacity="0.7"/>
<circle cx="338.6" cy="187.9" r="0.76" fill="#c0b0bc" opacity="0.7"/>
<circle cx="342.8" cy="222.8" r="0.96" fill="#b8a8b8" opacity="0.7"/>
<circle cx="241.0" cy="241.5" r="0.89" fill="#c8bcc8" opacity="0.7"/>
<circle cx="340.6" cy="211.0" r="0.69" fill="#a89aa8" opacity="0.7"/>
<circle cx="302.1" cy="244.3" r="0.63" fill="#c0b0bc" opacity="0.7"/>
<circle cx="230.1" cy="220.8" r="0.94" fill="#a89aa8" opacity="0.7"/>
<circle cx="208.7" cy="235.4" r="0.41" fill="#a89aa8" opacity="0.7"/>
<circle cx="268.8" cy="209.0" r="0.90" fill="#c8bcc8" opacity="0.7"/>
<circle cx="277.0" cy="235.7" r="0.46" fill="#c8bcc8" opacity="0.7"/>
<circle cx="282.2" cy="252.4" r="0.43" fill="#a89aa8" opacity="0.7"/>
<circle cx="266.5" cy="227.4" r="0.79" fill="#c8bcc8" opacity="0.7"/>
<circle cx="287.4" cy="193.4" r="0.54" fill="#b8a8b8" opacity="0.7"/>
<circle cx="329.9" cy="191.4" r="0.72" fill="#c8bcc8" opacity="0.7"/>
<circle cx="304.4" cy="220.9" r="0.96" fill="#c8bcc8" opacity="0.7"/>
<circle cx="268.4" cy="226.5" r="0.97" fill="#c0b0bc" opacity="0.7"/>
<circle cx="294.6" cy="208.7" r="0.79" fill="#a89aa8" opacity="0.7"/>
<circle cx="258.0" cy="236.8" r="0.67" fill="#c0b0bc" opacity="0.7"/>
<circle cx="311.6" cy="216.8" r="0.64" fill="#c0b0bc" opacity="0.7"/>
<circle cx="322.2" cy="206.6" r="0.99" fill="#b8a8b8" opacity="0.7"/>
<circle cx="265.6" cy="234.2" r="0.42" fill="#c8bcc8" opacity="0.7"/>
<circle cx="257.1" cy="246.4" r="0.81" fill="#c0b0bc" opacity="0.7"/>
<circle cx="298.0" cy="231.2" r="0.81" fill="#a89aa8" opacity="0.7"/>
<circle cx="261.7" cy="190.2" r="0.60" fill="#a89aa8" opacity="0.7"/>
<circle cx="263.2" cy="257.9" r="0.65" fill="#c0b0bc" opacity="0.7"/>
<circle cx="265.7" cy="205.8" r="0.81" fill="#c8bcc8" opacity="0.7"/>
<circle cx="331.5" cy="206.3" r="0.59" fill="#c8bcc8" opacity="0.7"/>
<circle cx="330.8" cy="216.0" r="0.88" fill="#b8a8b8" opacity="0.7"/>
<circle cx="328.1" cy="201.0" r="0.75" fill="#b8a8b8" opacity="0.7"/>
<circle cx="228.5" cy="209.9" r="0.98" fill="#c0b0bc" opacity="0.7"/>
<circle cx="269.6" cy="238.7" r="0.72" fill="#c8bcc8" opacity="0.7"/>
<circle cx="254.6" cy="220.3" r="0.54" fill="#a89aa8" opacity="0.7"/>
<circle cx="304.3" cy="239.0" r="0.44" fill="#c0b0bc" opacity="0.7"/>
<circle cx="308.2" cy="242.8" r="0.71" fill="#b8a8b8" opacity="0.7"/>
<circle cx="300.8" cy="195.4" r="0.85" fill="#b8a8b8" opacity="0.7"/>
<circle cx="255.1" cy="227.9" r="0.58" fill="#c0b0bc" opacity="0.7"/>
<circle cx="277.2" cy="227.4" r="0.54" fill="#c0b0bc" opacity="0.7"/>
<circle cx="342.3" cy="199.0" r="0.61" fill="#b8a8b8" opacity="0.7"/>
<circle cx="209.1" cy="210.1" r="0.94" fill="#c0b0bc" opacity="0.7"/>
<circle cx="304.7" cy="191.2" r="0.50" fill="#b8a8b8" opacity="0.7"/>
<circle cx="313.5" cy="215.5" r="1.05" fill="#c0b0bc" opacity="0.7"/>
<circle cx="296.8" cy="226.5" r="0.94" fill="#c0b0bc" opacity="0.7"/>
<circle cx="250.2" cy="196.3" r="0.71" fill="#c8bcc8" opacity="0.7"/>
<circle cx="271.9" cy="186.8" r="0.71" fill="#b8a8b8" opacity="0.7"/>
<circle cx="219.2" cy="186.5" r="0.52" fill="#a89aa8" opacity="0.7"/>
<circle cx="241.2" cy="254.8" r="0.42" fill="#b8a8b8" opacity="0.7"/>
<circle cx="223.6" cy="214.4" r="0.41" fill="#b8a8b8" opacity="0.7"/>
<circle cx="267.3" cy="188.5" r="0.59" fill="#c8bcc8" opacity="0.7"/>
<circle cx="226.4" cy="226.2" r="0.68" fill="#c8bcc8" opacity="0.7"/>
<circle cx="261.2" cy="242.8" r="0.51" fill="#a89aa8" opacity="0.7"/>
<circle cx="332.1" cy="230.5" r="0.43" fill="#c8bcc8" opacity="0.7"/>
<circle cx="297.8" cy="224.8" r="0.94" fill="#c8bcc8" opacity="0.7"/>
<circle cx="341.1" cy="248.6" r="0.48" fill="#b8a8b8" opacity="0.7"/>
<circle cx="246.0" cy="177.7" r="0.98" fill="#a89aa8" opacity="0.7"/>
<ellipse cx="238.8" cy="211" rx="2.8" ry="1.8" fill="#9a6c86" opacity="0.8" filter="url(#bl05)" transform="rotate(20 238.8 211)"/>
<ellipse cx="204" cy="234" rx="2" ry="1.4" fill="#a8909c" opacity="0.7" filter="url(#bl05)"/>
<ellipse cx="206" cy="219" rx="1.4" ry="1" fill="#a8909c" opacity="0.7"/>
<circle cx="216.5" cy="175.5" r="3.5" fill="#c83a78" opacity="0.75" filter="url(#bl05)"/>
<circle cx="276.8" cy="194.8" r="3.8" fill="#c83a78" opacity="0.75" filter="url(#bl05)"/>
<circle cx="347.5" cy="227.7" r="3.2" fill="#c83a78" opacity="0.75" filter="url(#bl05)"/>
<circle cx="277.2" cy="195.0" r="2.4" fill="#8a1040" opacity="0.9" filter="url(#bl05)"/>
<circle cx="216.5" cy="175.0" r="2.0" fill="#9a1848" opacity="0.8" filter="url(#bl05)"/>
<circle cx="260.4" cy="184.6" r="4.2" fill="#e8c8d8" opacity="0.5" filter="url(#bl05)"/>
<circle cx="260.4" cy="184.6" r="2.9" fill="#360a24" filter="url(#bl05)"/>
<circle cx="260.7" cy="184.4" r="0.9" fill="#c8a0b4" opacity="0.85"/>
<circle cx="265.9" cy="178.4" r="4.2" fill="#e8c8d8" opacity="0.5" filter="url(#bl05)"/>
<circle cx="265.9" cy="178.4" r="2.9" fill="#360a24" filter="url(#bl05)"/>
<circle cx="266.2" cy="178.20000000000002" r="0.9" fill="#c8a0b4" opacity="0.85"/>
<circle cx="226.4" cy="201.4" r="4.2" fill="#e8c8d8" opacity="0.5" filter="url(#bl05)"/>
<circle cx="226.4" cy="201.4" r="2.9" fill="#360a24" filter="url(#bl05)"/>
<circle cx="226.70000000000002" cy="201.20000000000002" r="0.9" fill="#c8a0b4" opacity="0.85"/>
<circle cx="323.6" cy="195.9" r="4.2" fill="#e8c8d8" opacity="0.5" filter="url(#bl05)"/>
<circle cx="323.6" cy="195.9" r="2.9" fill="#360a24" filter="url(#bl05)"/>
<circle cx="323.90000000000003" cy="195.70000000000002" r="0.9" fill="#c8a0b4" opacity="0.85"/>
<circle cx="326.9" cy="201.4" r="4.2" fill="#e8c8d8" opacity="0.5" filter="url(#bl05)"/>
<circle cx="326.9" cy="201.4" r="2.9" fill="#360a24" filter="url(#bl05)"/>
<circle cx="327.2" cy="201.20000000000002" r="0.9" fill="#c8a0b4" opacity="0.85"/>
<circle cx="226.8" cy="213" r="4.2" fill="#e8c8d8" opacity="0.5" filter="url(#bl05)"/>
<circle cx="226.8" cy="213" r="2.9" fill="#360a24" filter="url(#bl05)"/>
<circle cx="227.10000000000002" cy="212.8" r="0.9" fill="#c8a0b4" opacity="0.85"/>
<circle cx="256" cy="212.3" r="4.2" fill="#e8c8d8" opacity="0.5" filter="url(#bl05)"/>
<circle cx="256" cy="212.3" r="2.9" fill="#360a24" filter="url(#bl05)"/>
<circle cx="256.3" cy="212.10000000000002" r="0.9" fill="#c8a0b4" opacity="0.85"/>
<circle cx="288.1" cy="208.7" r="4.2" fill="#e8c8d8" opacity="0.5" filter="url(#bl05)"/>
<circle cx="288.1" cy="208.7" r="2.9" fill="#360a24" filter="url(#bl05)"/>
<circle cx="288.40000000000003" cy="208.5" r="0.9" fill="#c8a0b4" opacity="0.85"/>
<circle cx="315.2" cy="218.6" r="4.2" fill="#e8c8d8" opacity="0.5" filter="url(#bl05)"/>
<circle cx="315.2" cy="218.6" r="2.9" fill="#360a24" filter="url(#bl05)"/>
<circle cx="315.5" cy="218.4" r="0.9" fill="#c8a0b4" opacity="0.85"/>
<circle cx="238.5" cy="228.4" r="4.2" fill="#e8c8d8" opacity="0.5" filter="url(#bl05)"/>
<circle cx="238.5" cy="228.4" r="2.9" fill="#360a24" filter="url(#bl05)"/>
<circle cx="238.8" cy="228.20000000000002" r="0.9" fill="#c8a0b4" opacity="0.85"/>
<circle cx="340" cy="237.9" r="4.2" fill="#e8c8d8" opacity="0.5" filter="url(#bl05)"/>
<circle cx="340" cy="237.9" r="2.9" fill="#360a24" filter="url(#bl05)"/>
<circle cx="340.3" cy="237.70000000000002" r="0.9" fill="#c8a0b4" opacity="0.85"/>
<circle cx="244" cy="246" r="4.2" fill="#e8c8d8" opacity="0.5" filter="url(#bl05)"/>
<circle cx="244" cy="246" r="2.9" fill="#360a24" filter="url(#bl05)"/>
<circle cx="244.3" cy="245.8" r="0.9" fill="#c8a0b4" opacity="0.85"/>
<circle cx="224.6" cy="251.4" r="4.2" fill="#e8c8d8" opacity="0.5" filter="url(#bl05)"/>
<circle cx="224.6" cy="251.4" r="2.9" fill="#360a24" filter="url(#bl05)"/>
<circle cx="224.9" cy="251.20000000000002" r="0.9" fill="#c8a0b4" opacity="0.85"/>
<circle cx="265.5" cy="253.3" r="4.2" fill="#e8c8d8" opacity="0.5" filter="url(#bl05)"/>
<circle cx="265.5" cy="253.3" r="2.9" fill="#360a24" filter="url(#bl05)"/>
<circle cx="265.8" cy="253.10000000000002" r="0.9" fill="#c8a0b4" opacity="0.85"/>
<circle cx="295.8" cy="249.6" r="4.2" fill="#e8c8d8" opacity="0.5" filter="url(#bl05)"/>
<circle cx="295.8" cy="249.6" r="2.9" fill="#360a24" filter="url(#bl05)"/>
<circle cx="296.1" cy="249.4" r="0.9" fill="#c8a0b4" opacity="0.85"/>
</g>
<line x1="398.80" y1="172.90" x2="398.80" y2="255.00" stroke="#262626" stroke-width="1.1"/>
<line x1="398.30" y1="254.70" x2="479.40" y2="254.70" stroke="#262626" stroke-width="1.1"/>
<line x1="395.80" y1="180.65" x2="398.80" y2="180.65" stroke="#262626" stroke-width="1"/>
<text x="392.30" y="182.75" font-size="6.8" text-anchor="end" textLength="10.5" lengthAdjust="spacingAndGlyphs" fill="#262626" stroke="#262626" stroke-width="0.1">100</text>
<line x1="395.80" y1="195.46" x2="398.80" y2="195.46" stroke="#262626" stroke-width="1"/>
<text x="392.30" y="197.56" font-size="6.8" text-anchor="end" textLength="7.0" lengthAdjust="spacingAndGlyphs" fill="#262626" stroke="#262626" stroke-width="0.1">80</text>
<line x1="395.80" y1="210.27" x2="398.80" y2="210.27" stroke="#262626" stroke-width="1"/>
<text x="392.30" y="212.37" font-size="6.8" text-anchor="end" textLength="7.0" lengthAdjust="spacingAndGlyphs" fill="#262626" stroke="#262626" stroke-width="0.1">60</text>
<line x1="395.80" y1="225.08" x2="398.80" y2="225.08" stroke="#262626" stroke-width="1"/>
<text x="392.30" y="227.18" font-size="6.8" text-anchor="end" textLength="7.0" lengthAdjust="spacingAndGlyphs" fill="#262626" stroke="#262626" stroke-width="0.1">40</text>
<line x1="395.80" y1="239.89" x2="398.80" y2="239.89" stroke="#262626" stroke-width="1"/>
<text x="392.30" y="241.99" font-size="6.8" text-anchor="end" textLength="7.0" lengthAdjust="spacingAndGlyphs" fill="#262626" stroke="#262626" stroke-width="0.1">20</text>
<line x1="395.80" y1="254.70" x2="398.80" y2="254.70" stroke="#262626" stroke-width="1"/>
<text x="392.30" y="256.80" font-size="6.8" text-anchor="end" textLength="3.5" lengthAdjust="spacingAndGlyphs" fill="#262626" stroke="#262626" stroke-width="0.1">0</text>
<line x1="422.30" y1="192.20" x2="422.30" y2="205.00" stroke="#333" stroke-width="0.6"/>
<path d="M421.90,200.50 L420.70,205.00 L419.10,210.00 L417.10,215.00 L414.90,220.00 L412.90,225.00 L411.30,230.00 L410.70,233.50 L411.10,237.00 L412.70,241.00 L415.30,245.00 L418.30,249.00 L420.50,252.00 L422.00,254.60 L422.60,254.60 L424.10,252.00 L426.30,249.00 L429.30,245.00 L431.90,241.00 L433.50,237.00 L433.90,233.50 L433.30,230.00 L431.70,225.00 L429.70,220.00 L427.50,215.00 L425.50,210.00 L423.90,205.00 L422.70,200.50 Z" fill="#38a235" stroke="#333" stroke-width="0.6" stroke-linejoin="round"/>
<circle cx="422.3" cy="219.7" r="0.55" fill="#111"/>
<circle cx="422.3" cy="229.2" r="0.55" fill="#111"/>
<circle cx="422.3" cy="237.7" r="0.55" fill="#111"/>
<circle cx="422.3" cy="240.2" r="0.55" fill="#111"/>
<line x1="457.20" y1="173.20" x2="457.20" y2="212.30" stroke="#333" stroke-width="0.6"/>
<path d="M456.70,177.40 L454.20,180.00 L450.20,183.00 L446.70,186.00 L445.60,188.00 L446.00,190.00 L448.20,193.00 L450.70,196.00 L453.00,199.00 L454.80,202.00 L456.70,206.00 L457.70,206.00 L459.60,202.00 L461.40,199.00 L463.70,196.00 L466.20,193.00 L468.40,190.00 L468.80,188.00 L467.70,186.00 L464.20,183.00 L460.20,180.00 L457.70,177.40 Z" fill="#fbbc14" stroke="#333" stroke-width="0.6" stroke-linejoin="round"/>
<circle cx="457.2" cy="180.6" r="0.55" fill="#222"/>
<circle cx="457.2" cy="185.2" r="0.55" fill="#222"/>
<circle cx="457.2" cy="190.1" r="0.55" fill="#222"/>
<circle cx="457.2" cy="191.6" r="0.55" fill="#222"/>
<circle cx="457.2" cy="199.6" r="0.55" fill="#222"/>
<line x1="422.30" y1="254.70" x2="422.30" y2="257.40" stroke="#262626" stroke-width="1"/>
<line x1="457.20" y1="254.70" x2="457.20" y2="257.40" stroke="#262626" stroke-width="1"/>
<text x="422.60" y="266.80" font-size="6.6" text-anchor="middle" textLength="9.9" lengthAdjust="spacingAndGlyphs" fill="#262626" stroke="#262626" stroke-width="0.1">LSL</text>
<text x="457.30" y="266.80" font-size="6.6" text-anchor="middle" textLength="19.9" lengthAdjust="spacingAndGlyphs" fill="#262626" stroke="#262626" stroke-width="0.1">G870S</text>
<text x="404.30" y="179.60" font-size="6.8" textLength="27.5" lengthAdjust="spacingAndGlyphs" fill="#262626" stroke="#262626" stroke-width="0.1"><tspan font-style="italic">P</tspan> &lt; .0001</text>
<text x="0.00" y="0.00" font-size="8.8" text-anchor="middle" textLength="49" lengthAdjust="spacingAndGlyphs" fill="#262626" stroke="#262626" stroke-width="0.1" transform="translate(376.2,215.8) rotate(-90)">% Myeloid cells</text>
<path d="M48.1 379.6h.6M61.8 396.3h.6M66.1 389.8h.6M100.0 398.4h.6M70.3 386.4h.6M51.8 383.5h.6M78.8 390.6h.6M73.8 394.5h.6M59.6 387.6h.6M83.7 391.8h.6M89.1 390.6h.6M67.0 390.4h.6M56.0 377.3h.6M81.3 387.6h.6M76.9 377.0h.6M66.2 384.1h.6M58.2 373.3h.6M66.6 393.8h.6M78.1 384.1h.6M71.8 392.9h.6M27.8 387.2h.6M80.7 392.4h.6M99.2 395.4h.6M77.0 390.0h.6M84.6 384.5h.6M71.4 393.9h.6M103.3 387.0h.6M71.2 389.3h.6M93.5 387.8h.6M95.5 381.7h.6M69.0 386.7h.6M84.6 394.8h.6M47.8 382.1h.6M77.4 383.7h.6M47.6 394.8h.6M79.9 391.2h.6M64.4 394.7h.6M68.2 395.1h.6M57.4 382.4h.6M75.3 383.4h.6M82.8 389.7h.6M57.2 388.5h.6M66.4 394.0h.6M61.9 385.1h.6M91.4 402.6h.6M104.0 388.4h.6M75.5 398.0h.6M70.0 381.7h.6M73.9 390.9h.6M58.7 377.3h.6M49.0 392.3h.6M59.9 387.1h.6M75.4 392.0h.6M66.6 391.2h.6M57.8 385.6h.6M55.6 395.4h.6M71.6 383.2h.6M66.4 386.6h.6M83.2 377.6h.6M55.4 385.5h.6M112.5 394.2h.6M70.2 392.6h.6M104.9 386.5h.6M66.1 395.9h.6M79.9 392.4h.6M63.9 400.5h.6M99.4 391.7h.6M82.9 374.8h.6M82.2 386.7h.6M78.9 392.4h.6M66.5 377.0h.6M77.9 383.2h.6M66.7 384.1h.6M66.5 373.0h.6M91.5 389.6h.6M89.8 400.9h.6M72.4 376.3h.6M57.7 380.2h.6M64.0 388.5h.6M40.0 390.2h.6M47.8 389.9h.6M70.2 386.0h.6M70.8 384.5h.6M62.2 377.1h.6M71.5 400.0h.6M103.7 396.6h.6M83.3 383.6h.6M95.1 387.6h.6M70.9 386.1h.6M73.5 385.2h.6M70.7 381.0h.6M66.0 402.8h.6M70.9 386.4h.6M80.5 392.6h.6M54.2 386.7h.6M86.7 389.8h.6M74.0 398.1h.6M61.2 388.5h.6M63.7 397.7h.6M40.8 383.6h.6M63.5 392.3h.6M81.7 397.1h.6M46.8 392.9h.6M67.3 383.7h.6M80.6 382.0h.6M38.8 385.6h.6M48.0 383.8h.6M77.9 390.0h.6M97.4 386.7h.6M47.5 383.1h.6M57.3 380.1h.6M79.0 383.8h.6M40.4 392.5h.6M70.2 390.3h.6M73.7 392.1h.6M72.6 396.0h.6M78.8 390.5h.6M78.6 378.5h.6M69.4 386.3h.6M75.3 379.2h.6M98.1 388.7h.6M52.6 376.9h.6M67.5 387.4h.6M60.5 388.6h.6M61.7 391.6h.6M60.4 387.7h.6M87.7 404.7h.6M55.9 385.0h.6M58.6 393.1h.6M53.6 384.9h.6M71.5 381.6h.6M56.7 384.9h.6M38.4 378.6h.6M65.4 389.0h.6M69.0 376.5h.6M64.6 393.2h.6M80.9 387.5h.6M57.8 392.1h.6M62.7 380.4h.6M59.2 397.4h.6M75.5 395.5h.6M64.3 394.1h.6M62.4 387.0h.6M111.8 393.0h.6M64.0 387.4h.6M77.2 395.9h.6M64.2 376.7h.6M67.5 388.1h.6M73.8 396.6h.6M77.1 393.3h.6M54.4 393.6h.6M105.5 393.0h.6M76.1 389.0h.6M100.6 382.0h.6M70.2 391.0h.6M83.9 385.2h.6M76.9 386.2h.6M73.9 387.1h.6M53.7 387.9h.6M86.0 381.7h.6M68.1 392.3h.6M54.9 389.2h.6M55.0 395.4h.6M109.0 401.1h.6M68.5 392.8h.6M73.9 388.7h.6M96.8 379.4h.6M88.9 387.7h.6M94.5 389.2h.6M61.2 389.8h.6M83.8 388.2h.6M79.8 384.6h.6M37.9 393.9h.6M83.2 389.0h.6M73.1 394.7h.6M64.7 383.4h.6M69.0 395.7h.6M49.8 395.7h.6M61.8 380.8h.6M92.2 387.4h.6M51.2 385.7h.6M86.9 395.7h.6M65.2 390.6h.6M83.4 383.8h.6M77.7 387.8h.6M63.4 384.8h.6M73.1 388.2h.6M63.0 385.2h.6M89.8 389.4h.6M86.2 395.8h.6M81.4 402.8h.6M58.8 393.3h.6M66.9 400.1h.6M99.2 375.3h.6M56.5 392.3h.6M84.6 392.8h.6M70.9 391.0h.6M82.4 387.5h.6M88.4 373.3h.6M82.1 381.3h.6M87.3 386.5h.6M57.8 390.4h.6M57.4 382.1h.6M46.9 387.8h.6M79.9 394.6h.6M69.7 394.8h.6M72.3 387.4h.6M81.2 394.9h.6M66.5 386.4h.6M69.4 388.5h.6M57.6 394.7h.6M65.6 391.0h.6M58.8 390.3h.6M78.3 385.3h.6M104.3 390.4h.6M100.4 394.2h.6M61.4 385.5h.6M79.0 388.4h.6M72.8 386.1h.6M43.1 386.5h.6M36.5 390.4h.6M60.4 383.3h.6M68.5 389.8h.6M49.1 376.6h.6M54.9 374.7h.6M56.5 398.3h.6M55.1 392.2h.6M50.1 389.9h.6M66.9 387.6h.6M81.1 399.4h.6M75.1 388.8h.6M56.4 391.8h.6M68.1 393.4h.6M71.3 399.3h.6M40.3 386.1h.6M86.1 385.7h.6M59.3 386.3h.6M49.9 388.8h.6M111.0 395.4h.6M54.3 382.3h.6M65.5 394.5h.6M58.9 383.5h.6M86.2 393.6h.6M66.0 380.7h.6M47.2 383.5h.6M36.3 392.9h.6M61.9 391.1h.6M101.9 395.6h.6M53.6 393.7h.6M90.5 383.1h.6M56.7 387.3h.6M46.4 397.6h.6M33.5 380.8h.6M67.7 386.5h.6M74.7 389.8h.6M68.6 395.4h.6M37.8 388.0h.6M60.6 388.9h.6M75.5 382.1h.6M61.7 393.2h.6M77.6 383.6h.6M104.6 403.0h.6M48.6 390.0h.6M112.1 393.1h.6M75.5 386.6h.6M63.3 386.6h.6M63.2 392.8h.6M65.6 385.1h.6M52.8 387.7h.6M57.7 386.8h.6M88.7 390.4h.6M80.1 390.3h.6M72.9 387.2h.6M67.1 392.9h.6M54.7 396.7h.6M72.5 383.1h.6M64.2 383.6h.6M74.6 383.3h.6M90.3 382.9h.6M35.6 383.2h.6M39.9 387.7h.6M88.9 392.2h.6M50.6 383.0h.6M100.5 390.1h.6M72.1 394.9h.6M111.2 396.4h.6M74.2 390.3h.6M81.9 384.0h.6M55.1 388.3h.6M56.8 387.6h.6M73.5 403.2h.6M58.4 387.2h.6M69.4 390.8h.6M88.7 384.8h.6M58.9 377.3h.6M57.2 391.5h.6M72.7 381.4h.6M66.0 388.2h.6M80.1 384.1h.6M68.0 376.2h.6M53.6 398.5h.6M37.0 385.8h.6M75.5 385.6h.6M59.1 387.6h.6M71.9 387.5h.6M42.0 387.0h.6M58.3 384.4h.6M75.6 392.2h.6M86.3 384.8h.6M86.8 395.6h.6M90.2 397.0h.6M69.7 386.9h.6M85.2 379.1h.6M75.4 384.6h.6M66.1 376.7h.6M57.8 387.9h.6M86.2 394.4h.6M70.7 386.8h.6M58.7 390.6h.6M68.0 391.9h.6M100.0 387.8h.6M48.0 382.4h.6M48.7 380.2h.6M92.9 389.5h.6M47.7 392.2h.6M92.2 385.7h.6M61.2 385.8h.6M76.6 392.2h.6M90.9 395.9h.6M91.0 396.9h.6M82.6 378.0h.6M69.9 390.0h.6M65.9 393.9h.6M66.2 382.0h.6M95.1 392.3h.6M75.5 394.0h.6M89.0 390.2h.6M32.7 383.6h.6M64.7 381.6h.6M75.2 395.7h.6M64.2 380.6h.6M104.4 385.1h.6M52.3 389.5h.6M78.8 383.4h.6M84.6 384.8h.6M57.2 389.2h.6M84.3 383.9h.6M77.3 387.4h.6M117.2 383.4h.6M94.1 387.7h.6M70.0 392.7h.6M86.3 396.2h.6M77.3 384.1h.6M63.4 391.3h.6M81.3 397.1h.6M78.7 394.9h.6M96.3 389.1h.6M48.2 380.3h.6M49.0 398.3h.6M58.4 396.0h.6M81.4 399.1h.6M88.0 387.3h.6M68.8 388.6h.6M74.8 384.6h.6M71.5 398.5h.6M44.8 389.7h.6M57.5 389.2h.6M85.4 387.6h.6M84.4 377.7h.6M89.7 384.1h.6M82.0 389.2h.6M30.6 383.1h.6M75.5 398.1h.6M76.6 389.7h.6M49.4 397.3h.6M100.9 388.2h.6M68.5 377.5h.6M86.1 405.6h.6M83.5 396.2h.6M80.7 381.6h.6M93.4 380.0h.6M68.6 389.8h.6M86.1 390.7h.6M78.2 383.1h.6M51.4 388.4h.6M60.6 379.5h.6M51.7 384.8h.6M42.4 379.2h.6M45.8 389.2h.6M78.5 401.0h.6M48.0 383.6h.6M86.6 386.6h.6M66.8 399.1h.6M66.6 380.5h.6M50.9 390.2h.6M76.9 379.1h.6M56.2 391.5h.6M81.2 383.8h.6M82.0 391.7h.6M43.5 386.0h.6M78.6 384.3h.6M37.8 386.2h.6M84.0 398.3h.6M36.9 405.0h.6M54.0 394.2h.6M91.7 394.4h.6M74.4 380.5h.6M82.0 383.4h.6M31.6 406.4h.6M83.3 399.8h.6M57.4 397.5h.6M97.4 398.1h.6M71.7 380.2h.6M69.2 373.7h.6M44.8 388.6h.6M56.1 386.9h.6M70.3 400.5h.6M92.8 387.7h.6M91.3 382.9h.6M66.6 393.9h.6M52.1 386.2h.6M50.9 388.8h.6M98.1 383.1h.6M75.6 382.2h.6M53.6 380.0h.6M95.3 403.4h.6M79.7 383.3h.6M83.3 385.8h.6M84.8 389.9h.6M76.5 391.9h.6M62.7 385.4h.6M44.5 385.1h.6M49.2 387.1h.6M56.7 388.7h.6M79.3 378.8h.6M59.0 381.9h.6M83.9 399.1h.6M85.6 385.7h.6M95.4 378.2h.6M96.0 383.7h.6M27.5 405.2h.6M97.2 381.3h.6M74.7 386.6h.6M73.6 378.4h.6M61.1 391.0h.6M75.6 395.8h.6M73.3 403.3h.6M60.5 389.7h.6M41.3 379.9h.6M93.3 381.9h.6M80.5 387.6h.6M55.3 385.7h.6M63.8 384.8h.6M84.1 392.2h.6M62.8 382.1h.6M76.5 387.3h.6M88.5 405.3h.6M85.5 387.8h.6M69.2 382.4h.6M57.5 381.5h.6M65.7 385.2h.6M83.9 385.4h.6M68.8 380.1h.6M98.3 391.3h.6M100.6 393.2h.6M95.8 386.4h.6M83.5 405.6h.6M52.4 395.6h.6M99.2 390.7h.6M84.2 396.3h.6M61.3 390.7h.6M57.8 383.5h.6M61.9 387.0h.6M74.4 391.0h.6M48.8 401.2h.6M90.9 392.8h.6M66.1 387.4h.6M81.0 390.7h.6M44.5 392.9h.6M119.8 375.7h.6M88.3 390.5h.6M70.2 397.1h.6M52.6 389.1h.6M96.0 386.7h.6M65.1 388.8h.6M64.7 398.3h.6M57.1 393.8h.6M51.4 392.5h.6M70.3 370.7h.6M71.9 380.9h.6M64.7 398.3h.6M53.6 380.9h.6M95.7 388.8h.6M97.4 390.2h.6M57.5 387.6h.6M92.2 394.3h.6M72.0 388.3h.6M70.1 384.1h.6M103.8 388.0h.6M53.4 384.8h.6M83.9 392.3h.6M69.7 383.5h.6M72.4 376.8h.6M50.6 393.3h.6M64.1 390.5h.6M92.0 392.3h.6M72.3 402.2h.6M83.0 385.6h.6M84.0 390.7h.6M57.9 388.5h.6M69.3 374.9h.6M69.2 386.1h.6M64.8 377.0h.6M66.2 387.7h.6M73.7 380.4h.6M82.4 379.9h.6M68.3 396.7h.6M60.6 384.6h.6M89.7 385.4h.6M67.1 389.5h.6M89.3 373.3h.6M58.4 381.3h.6M54.2 382.3h.6M58.2 390.0h.6M57.4 388.8h.6M78.6 383.1h.6M74.1 398.9h.6M77.3 383.8h.6M70.9 381.9h.6M76.4 393.7h.6M58.6 386.6h.6M90.2 384.7h.6M75.1 381.2h.6M58.6 384.6h.6M106.8 385.3h.6M63.5 384.3h.6M69.4 392.3h.6M75.0 401.4h.6M75.4 397.4h.6M76.4 391.9h.6M48.9 387.2h.6M70.9 386.4h.6M37.6 393.7h.6M65.8 385.2h.6M67.9 386.5h.6M78.5 379.7h.6M57.1 389.9h.6M74.3 385.6h.6M62.8 382.6h.6M71.1 395.7h.6M55.1 397.9h.6M85.5 385.1h.6M84.5 378.5h.6M44.3 379.6h.6M65.4 385.9h.6M63.8 388.6h.6M37.8 391.2h.6M49.3 383.7h.6M65.4 380.5h.6M50.1 381.5h.6M71.8 391.8h.6M81.0 381.5h.6M59.3 382.0h.6M79.2 374.8h.6M91.8 384.8h.6M59.5 390.2h.6M88.5 390.2h.6M88.8 388.9h.6M91.7 396.1h.6M70.4 397.4h.6M74.6 388.6h.6M57.3 386.1h.6M84.4 379.5h.6M82.4 390.3h.6M76.4 373.7h.6M70.3 392.2h.6M59.8 388.6h.6M34.0 392.4h.6M61.4 393.7h.6M42.5 392.5h.6M68.2 393.2h.6M57.2 384.0h.6M107.9 382.6h.6M60.7 386.2h.6M55.6 395.7h.6M99.6 383.4h.6M44.4 395.6h.6M89.7 393.3h.6M90.5 382.4h.6M69.3 379.0h.6M49.3 394.4h.6M61.2 402.8h.6M73.2 383.8h.6M84.8 399.7h.6M79.8 380.1h.6M77.9 396.9h.6M64.1 383.0h.6M88.3 388.9h.6M54.4 385.5h.6M59.9 389.9h.6M73.8 395.5h.6M83.4 377.8h.6M78.5 393.8h.6M79.3 394.7h.6M63.2 381.8h.6M86.9 381.1h.6M37.4 394.7h.6M60.4 386.0h.6M49.6 379.4h.6M53.5 385.7h.6M77.9 373.1h.6M84.0 380.3h.6M54.9 392.4h.6M70.8 378.0h.6M101.5 382.4h.6M76.0 389.3h.6M94.6 385.0h.6M88.1 383.2h.6M90.0 383.0h.6M66.2 400.3h.6M77.1 388.7h.6M107.9 390.3h.6M58.9 392.8h.6M53.1 395.3h.6M91.3 384.3h.6M62.0 389.1h.6M72.2 381.6h.6M81.1 374.7h.6M65.1 385.4h.6M67.6 390.0h.6M52.4 391.8h.6M69.1 383.8h.6M50.1 380.3h.6M77.8 381.7h.6M73.0 394.9h.6M88.5 398.1h.6M67.3 380.9h.6M88.3 390.0h.6M90.0 388.1h.6M91.1 393.5h.6M83.5 391.3h.6M78.4 389.5h.6M75.6 394.4h.6M63.8 399.3h.6M70.3 394.4h.6M70.6 386.4h.6M104.5 386.0h.6M51.6 383.4h.6M66.9 402.0h.6M75.3 394.1h.6M56.0 390.3h.6M82.7 399.7h.6M60.9 391.9h.6M76.8 381.4h.6M71.7 386.3h.6M34.8 391.9h.6M80.6 385.1h.6M50.6 397.6h.6M76.3 394.6h.6M94.6 384.6h.6M85.0 386.4h.6M71.0 387.4h.6M72.0 395.2h.6M74.0 387.0h.6M67.6 390.2h.6M57.7 384.7h.6M71.2 384.3h.6M70.1 384.0h.6M104.1 396.6h.6M79.2 387.7h.6M107.1 390.1h.6M70.6 390.0h.6M76.9 397.2h.6M71.7 401.6h.6M57.9 392.5h.6M56.0 399.8h.6M66.7 387.6h.6M86.8 396.2h.6M54.2 385.7h.6M49.7 388.9h.6M70.4 385.7h.6M61.0 385.5h.6M60.1 391.4h.6M96.3 375.5h.6M70.1 385.3h.6M79.9 381.8h.6M69.7 381.2h.6M83.1 388.6h.6M69.4 390.4h.6M68.1 377.9h.6M81.5 389.9h.6M69.5 394.4h.6M91.5 380.9h.6M59.5 398.1h.6M94.7 383.2h.6M53.1 383.9h.6M64.0 377.7h.6M72.5 379.7h.6M52.6 394.0h.6M61.1 387.5h.6M82.1 393.3h.6M66.6 388.3h.6M58.8 399.4h.6M82.4 380.8h.6M72.1 392.6h.6M79.7 399.9h.6M94.0 384.5h.6M70.6 379.7h.6M76.0 389.0h.6M115.3 388.6h.6M38.5 383.6h.6M73.8 379.8h.6M58.1 385.6h.6M77.5 386.9h.6M57.8 393.1h.6M63.4 384.8h.6M49.9 382.9h.6M82.4 377.5h.6M70.9 392.7h.6M66.0 389.6h.6M54.1 396.5h.6M89.6 389.5h.6M43.9 381.2h.6M87.6 399.1h.6M76.7 396.1h.6M62.3 386.8h.6M72.0 390.8h.6M47.5 394.1h.6M93.2 380.5h.6M50.3 390.3h.6M61.5 372.6h.6M84.9 389.0h.6M64.4 401.7h.6M74.2 383.1h.6M73.6 381.2h.6M59.8 390.5h.6M63.1 385.1h.6M98.7 393.6h.6M84.8 391.4h.6M79.7 397.5h.6M71.7 400.1h.6M56.8 386.3h.6M49.9 385.8h.6M80.3 397.4h.6M61.4 388.0h.6M66.3 383.2h.6M53.0 388.4h.6M44.3 388.7h.6M72.3 383.7h.6M55.8 379.0h.6M101.9 379.3h.6M96.9 391.9h.6M66.2 380.5h.6M88.7 399.2h.6M57.1 386.1h.6M88.8 390.2h.6M104.0 384.3h.6M80.7 379.9h.6M105.5 383.3h.6M36.7 387.2h.6M69.8 400.5h.6M66.6 387.9h.6M81.5 398.3h.6M71.0 394.8h.6M80.3 386.1h.6M73.2 388.2h.6M57.3 395.9h.6M49.8 395.6h.6M87.3 387.4h.6M59.8 386.5h.6M79.6 392.8h.6M76.6 394.4h.6M63.1 389.5h.6M46.9 393.0h.6M74.5 385.3h.6M90.6 392.5h.6M26.9 388.3h.6M48.7 394.9h.6M111.8 384.6h.6M73.2 386.4h.6M77.6 392.2h.6M92.6 381.6h.6M97.1 381.9h.6M76.4 395.5h.6M83.4 381.9h.6M60.8 385.0h.6M71.2 395.5h.6M51.3 391.0h.6M81.8 391.6h.6M79.5 397.9h.6M79.8 393.6h.6M81.0 399.7h.6M41.6 396.3h.6M67.8 386.2h.6M56.5 375.9h.6M65.9 383.5h.6M79.9 378.4h.6M94.9 389.8h.6M68.0 383.4h.6M59.4 380.7h.6" stroke="#90ce8c" stroke-width="0.6" stroke-opacity="0.5" fill="none"/>
<path d="M75.1 382.0h.6M78.4 372.1h.6M77.6 375.7h.6M81.4 395.1h.6M85.6 379.8h.6M65.4 372.1h.6M64.8 387.1h.6M73.1 382.4h.6M74.4 382.6h.6M92.6 377.2h.6M76.9 376.4h.6M87.9 374.8h.6M69.8 372.3h.6M67.3 385.3h.6M103.1 375.0h.6M88.6 383.8h.6M70.1 380.1h.6M77.9 377.2h.6M97.4 368.7h.6M83.4 384.3h.6M74.8 383.0h.6M87.9 383.1h.6M83.8 386.9h.6M61.7 392.3h.6M100.5 388.9h.6M89.1 372.1h.6M78.9 376.3h.6M74.7 388.8h.6M72.8 381.1h.6M62.8 380.9h.6M80.8 377.1h.6M73.5 395.2h.6M69.1 374.6h.6M72.7 390.4h.6M98.9 384.3h.6M73.5 379.0h.6M89.6 375.6h.6M93.1 391.9h.6M80.6 386.5h.6M86.7 392.9h.6M70.5 390.3h.6M76.6 376.6h.6M80.9 380.5h.6M71.1 370.8h.6M71.5 392.2h.6M97.7 386.6h.6M90.7 378.4h.6M79.3 384.0h.6M70.3 375.1h.6M80.9 379.8h.6M70.4 384.7h.6M77.6 389.1h.6M80.0 379.9h.6M81.1 380.8h.6M74.0 379.2h.6M86.7 386.5h.6M91.6 370.1h.6M76.5 379.1h.6M81.5 378.8h.6M75.4 387.5h.6M81.6 373.8h.6M92.0 389.0h.6M74.8 387.8h.6M73.4 389.9h.6M78.0 376.4h.6M76.6 376.6h.6M81.7 383.2h.6M80.3 378.1h.6M47.1 382.6h.6M62.9 383.7h.6M90.2 383.9h.6M76.5 380.7h.6M78.8 378.2h.6M74.7 375.5h.6M90.7 381.9h.6M88.6 380.2h.6M80.6 380.8h.6M84.2 387.8h.6M82.2 377.3h.6M73.0 393.6h.6M77.5 380.0h.6M93.2 389.6h.6M84.8 379.2h.6M101.2 384.8h.6M84.9 380.8h.6M67.3 372.7h.6M83.7 384.7h.6M77.8 373.8h.6M67.0 379.7h.6M66.9 388.3h.6M90.4 401.8h.6M87.9 377.9h.6M72.2 357.8h.6M74.6 380.8h.6M88.7 386.3h.6M85.3 383.5h.6M85.9 392.1h.6M70.4 378.8h.6M67.5 393.3h.6M91.7 387.3h.6M69.2 383.2h.6M77.9 382.6h.6M78.3 385.6h.6M76.4 388.0h.6M82.2 379.9h.6M79.0 378.9h.6M87.3 380.1h.6M82.7 379.3h.6M66.6 388.3h.6M70.5 386.8h.6M83.8 370.4h.6M71.5 378.4h.6M72.6 373.7h.6M86.7 380.3h.6M83.5 379.0h.6M82.7 376.7h.6M79.8 386.1h.6M80.4 378.8h.6M70.2 383.2h.6M83.1 380.2h.6M73.1 385.8h.6M102.3 379.9h.6M83.0 384.6h.6M56.9 382.9h.6M73.6 391.7h.6M77.7 376.6h.6M78.0 383.2h.6M75.0 381.6h.6M67.8 380.4h.6M87.0 395.8h.6M86.4 383.9h.6M90.7 389.1h.6M95.0 389.6h.6M78.9 383.8h.6M81.6 384.1h.6M81.8 376.5h.6M61.1 377.3h.6M61.8 382.5h.6M80.0 370.3h.6M86.2 388.1h.6M80.9 393.7h.6M96.8 373.6h.6M89.3 385.1h.6M83.8 388.5h.6M73.5 377.9h.6M72.6 376.7h.6M79.1 371.8h.6M70.6 386.0h.6M79.4 384.7h.6M63.0 376.5h.6M75.0 382.2h.6M74.7 388.5h.6M79.5 382.1h.6M80.1 387.0h.6M75.8 389.9h.6M84.1 383.1h.6M80.4 385.6h.6M89.1 388.6h.6M83.4 388.1h.6M81.1 390.8h.6M79.8 367.5h.6M92.0 382.8h.6M69.5 380.6h.6M72.0 396.7h.6M84.5 371.0h.6M84.9 379.2h.6M97.3 374.6h.6M59.8 382.5h.6M76.9 379.1h.6M60.7 385.0h.6M95.1 368.6h.6M90.5 378.0h.6M101.1 385.1h.6M78.3 389.7h.6M84.7 377.9h.6M86.4 378.4h.6M63.9 396.2h.6M76.9 377.7h.6M83.0 371.1h.6M67.8 378.5h.6M75.3 382.5h.6M90.1 378.7h.6M84.4 386.2h.6M70.2 383.6h.6M71.5 389.4h.6M84.1 382.1h.6M67.9 382.8h.6M73.1 386.9h.6M78.9 376.3h.6M88.3 387.1h.6M74.7 390.1h.6M77.3 379.8h.6M81.1 376.7h.6M76.0 380.9h.6M93.8 392.5h.6M77.7 393.3h.6M79.6 384.7h.6M88.0 384.0h.6M101.7 383.7h.6M69.2 391.1h.6" stroke="#a8d8a4" stroke-width="0.6" stroke-opacity="0.4" fill="none"/>
<path d="M84.4 363.6h.6M74.0 374.0h.6M89.3 372.4h.6M89.9 379.5h.6M85.8 373.5h.6M83.0 363.2h.6M90.2 369.1h.6M80.7 368.9h.6M85.3 359.5h.6M87.7 362.8h.6M79.7 357.1h.6M93.1 353.9h.6M86.9 370.9h.6M88.6 356.2h.6M84.7 367.1h.6M89.2 360.8h.6M81.3 374.0h.6M90.4 369.0h.6M83.6 369.3h.6M86.4 372.7h.6M81.0 366.9h.6M85.4 357.1h.6M86.9 366.3h.6M84.4 369.2h.6M80.3 365.6h.6M87.7 368.3h.6M90.3 356.4h.6M80.0 367.9h.6M87.8 383.0h.6M88.5 359.0h.6M89.2 359.2h.6M80.1 386.9h.6M87.3 371.7h.6M88.3 380.5h.6M87.1 375.7h.6M81.9 354.9h.6M91.7 377.8h.6M88.0 367.8h.6M86.7 360.5h.6M92.2 371.3h.6M88.0 369.0h.6M90.2 370.0h.6M89.0 356.6h.6M88.0 383.5h.6M83.9 365.0h.6M89.6 373.7h.6M88.5 353.1h.6M88.0 356.5h.6M82.7 370.4h.6M84.8 372.5h.6M98.6 372.2h.6M88.9 358.8h.6M83.4 357.5h.6M83.9 357.3h.6M83.4 364.3h.6M82.0 354.6h.6M80.6 369.6h.6M86.2 374.2h.6M90.2 363.3h.6M88.7 354.5h.6M95.1 375.6h.6M85.1 356.7h.6M87.5 351.0h.6M82.9 372.0h.6M86.3 362.1h.6M89.8 357.7h.6M87.1 362.0h.6M82.6 369.7h.6M82.0 381.2h.6M83.7 381.9h.6M81.6 370.8h.6M81.2 355.3h.6M86.6 371.4h.6M80.9 375.5h.6M82.8 367.0h.6M87.5 370.8h.6M78.8 378.9h.6M88.2 362.6h.6M81.9 352.4h.6M80.6 370.4h.6" stroke="#a8d8a4" stroke-width="0.6" stroke-opacity="0.35" fill="none"/>
<path d="M47.3 381.2h.6M45.8 397.4h.6M47.4 384.5h.6M60.8 390.8h.6M50.4 384.4h.6M37.6 381.0h.6M46.2 386.7h.6M52.8 391.3h.6M51.8 389.3h.6M41.9 375.1h.6M45.8 382.3h.6M44.8 386.4h.6M40.1 381.3h.6M49.2 388.7h.6M44.8 391.0h.6M48.2 381.9h.6M50.3 399.3h.6M44.6 395.0h.6M61.0 397.0h.6M43.4 400.1h.6M50.9 386.5h.6M48.2 391.6h.6M50.4 386.9h.6M60.3 383.7h.6M41.7 392.8h.6M55.6 394.6h.6M41.4 394.5h.6M53.9 398.6h.6M40.0 389.3h.6M47.8 378.5h.6M44.3 394.8h.6M46.2 383.7h.6M56.9 393.9h.6M57.9 383.3h.6M49.5 394.2h.6M44.8 383.5h.6M56.6 397.4h.6M40.8 372.4h.6M38.4 381.9h.6M48.9 391.7h.6M48.8 383.8h.6M51.2 382.2h.6M49.6 384.2h.6M71.4 392.9h.6M43.3 382.0h.6M46.5 378.1h.6M44.2 383.6h.6M57.1 385.4h.6M43.7 380.0h.6M40.6 387.6h.6M48.3 394.8h.6M45.0 394.4h.6M52.1 388.0h.6M33.9 380.3h.6M55.9 396.4h.6M51.7 392.6h.6M46.7 385.8h.6M44.7 393.8h.6M52.7 386.6h.6M47.4 391.3h.6M52.6 383.0h.6M63.7 389.5h.6M50.1 396.9h.6M58.2 387.5h.6M54.3 381.6h.6M44.9 374.4h.6M59.8 376.6h.6M55.5 383.0h.6M42.2 386.8h.6M52.1 391.7h.6M64.2 390.2h.6M57.0 384.4h.6M55.7 388.9h.6M46.3 387.4h.6M49.5 389.1h.6M53.2 384.9h.6M44.1 392.5h.6M36.4 384.3h.6M62.4 371.8h.6M44.5 392.1h.6M36.8 403.6h.6M29.3 396.6h.6M62.5 393.5h.6M48.2 390.1h.6M42.8 392.9h.6M41.0 386.4h.6M58.0 381.3h.6M47.1 389.0h.6M39.3 395.0h.6M52.7 378.9h.6M49.6 383.3h.6M44.7 388.5h.6M44.3 393.8h.6M44.4 393.9h.6M49.6 393.1h.6M45.7 385.0h.6M40.8 391.5h.6M57.5 400.7h.6M60.3 389.5h.6M48.3 390.3h.6M49.8 396.8h.6M57.6 383.0h.6M44.5 396.2h.6M52.5 386.6h.6M59.5 385.7h.6M47.8 385.2h.6M34.3 393.2h.6M40.3 384.6h.6M44.0 392.4h.6M49.5 388.1h.6M36.6 387.5h.6M38.2 389.8h.6M52.9 387.9h.6M66.3 391.2h.6M54.8 388.9h.6M48.5 393.8h.6M58.8 380.2h.6M58.4 391.1h.6M57.7 390.8h.6M40.0 381.0h.6M64.6 389.5h.6M38.7 390.1h.6M47.1 376.9h.6M31.7 378.4h.6M52.2 387.7h.6M48.0 389.7h.6M54.8 375.4h.6M47.6 383.0h.6M40.1 384.7h.6M49.0 386.4h.6M38.4 385.1h.6M66.1 381.7h.6M36.5 389.7h.6M54.8 390.8h.6M41.0 394.0h.6M43.7 381.2h.6M45.1 387.3h.6M55.7 391.7h.6M49.8 393.6h.6M50.7 393.4h.6M38.8 378.6h.6M56.2 379.7h.6M47.6 387.4h.6M46.1 385.3h.6M61.1 372.8h.6M57.1 401.8h.6M50.2 387.9h.6M55.8 399.0h.6M40.5 388.5h.6M48.5 391.4h.6M51.3 392.0h.6M46.6 388.3h.6M44.6 384.0h.6M48.9 387.1h.6M40.6 397.4h.6M48.9 379.7h.6M58.8 383.5h.6M54.1 387.9h.6M52.0 389.0h.6M45.4 388.2h.6M66.3 374.6h.6M50.5 390.6h.6M41.6 379.8h.6M67.3 385.8h.6M66.6 391.2h.6M50.6 390.9h.6M55.1 395.1h.6M53.5 388.9h.6M51.4 396.1h.6M56.5 382.0h.6M44.9 390.0h.6M45.0 385.7h.6M42.4 386.4h.6M53.4 394.0h.6M50.1 400.4h.6M49.4 407.2h.6M58.0 391.0h.6M46.0 371.1h.6M48.8 389.1h.6M65.4 379.7h.6M65.2 386.5h.6M55.8 372.8h.6M51.1 385.9h.6M55.5 388.5h.6M40.9 393.7h.6M55.6 391.6h.6M58.1 394.6h.6M49.8 379.9h.6M38.9 396.1h.6M55.7 388.6h.6M46.5 388.2h.6M50.2 386.0h.6M44.4 401.0h.6M51.8 384.4h.6M39.6 383.6h.6M55.8 392.6h.6M48.3 388.3h.6M47.6 381.4h.6M60.4 390.2h.6M69.8 383.5h.6" stroke="#7cc47a" stroke-width="0.6" stroke-opacity="0.45" fill="none"/>
<ellipse cx="43.5" cy="390" rx="9.0" ry="6.5" fill="#6cc068" opacity="0.7" filter="url(#bl1)"/>
<ellipse cx="43.0" cy="390.5" rx="6.0" ry="4.6" fill="#38a83a" opacity="0.85" filter="url(#bl1)"/>
<path d="M42.5 393.5h.6M41.8 384.4h.6M37.6 390.4h.6M45.4 389.6h.6M49.3 394.0h.6M45.2 390.1h.6M41.8 392.2h.6M48.8 390.2h.6M46.0 388.7h.6M34.8 386.0h.6M47.9 391.8h.6M52.8 390.2h.6M48.5 395.3h.6M49.3 387.6h.6M42.2 390.5h.6M37.4 391.9h.6M49.4 388.1h.6M55.1 388.8h.6M42.1 389.0h.6M39.1 391.7h.6M43.4 396.6h.6M46.9 392.2h.6M42.0 384.3h.6M42.8 386.6h.6M49.0 389.9h.6M53.3 392.9h.6M48.3 390.9h.6M44.6 392.6h.6M48.8 387.2h.6M46.3 400.5h.6M42.8 389.0h.6M39.1 384.2h.6M50.4 390.2h.6M45.1 397.4h.6M58.4 386.4h.6M49.6 392.5h.6M45.7 391.9h.6M43.2 396.4h.6M47.0 391.4h.6M50.8 393.6h.6M46.1 391.3h.6M53.9 392.0h.6M42.8 386.6h.6M41.3 385.8h.6M44.0 391.0h.6M31.0 390.1h.6M47.2 390.7h.6M37.6 395.1h.6M39.1 385.1h.6M36.8 390.0h.6M49.2 394.7h.6M44.6 385.2h.6M39.4 386.4h.6M42.2 382.9h.6M44.0 392.6h.6M42.4 391.8h.6M37.7 384.2h.6M39.5 394.6h.6M49.5 388.2h.6M50.5 388.7h.6M52.4 391.9h.6M40.6 393.2h.6M38.7 386.3h.6M34.6 391.0h.6M43.0 389.7h.6M40.8 395.8h.6M40.8 387.1h.6M50.8 395.7h.6M45.3 383.0h.6M39.7 392.5h.6M43.4 396.2h.6M35.1 392.7h.6M39.5 395.3h.6M42.8 394.1h.6M39.4 384.4h.6M36.6 387.6h.6M37.2 394.8h.6M51.3 391.1h.6M37.1 389.5h.6M39.2 395.8h.6M45.2 392.0h.6M40.9 382.0h.6M38.7 385.5h.6M45.5 390.4h.6M38.5 388.4h.6M52.7 386.2h.6M37.8 389.1h.6M39.1 388.3h.6M46.5 396.9h.6M32.6 389.9h.6M43.5 389.7h.6M42.2 388.6h.6M49.3 388.1h.6M42.5 390.0h.6M43.9 389.3h.6M49.3 390.0h.6M44.3 389.8h.6M37.3 386.7h.6M37.0 390.8h.6M39.0 385.8h.6M44.7 392.1h.6M32.7 396.8h.6M43.5 389.6h.6M49.7 390.3h.6M39.7 398.8h.6M36.9 389.6h.6M48.4 385.7h.6M42.7 391.5h.6M57.7 386.4h.6M43.0 392.6h.6M43.8 385.2h.6M45.7 390.4h.6M46.0 394.5h.6M49.4 391.6h.6M45.2 385.6h.6M42.5 390.9h.6M40.9 390.4h.6M38.3 396.1h.6M56.2 388.4h.6M45.7 389.1h.6M50.9 391.7h.6M43.8 389.1h.6M44.1 386.0h.6M47.4 387.1h.6M46.5 390.5h.6M49.9 389.9h.6M49.4 386.3h.6M47.0 389.1h.6M44.5 390.3h.6M48.9 381.9h.6M45.2 384.0h.6M50.5 382.1h.6M37.3 383.3h.6M53.1 384.8h.6M44.0 387.9h.6M32.5 388.7h.6M47.3 389.3h.6M48.9 388.6h.6M43.3 388.5h.6M45.4 397.6h.6M45.5 390.8h.6M39.6 387.0h.6M52.1 385.6h.6M37.8 389.6h.6M40.7 397.8h.6M29.1 391.4h.6M47.6 385.5h.6M39.4 391.7h.6M53.1 386.3h.6M33.8 393.9h.6M52.4 388.7h.6M30.0 395.8h.6M42.1 394.5h.6M43.0 388.5h.6M40.6 395.9h.6M51.9 381.4h.6M37.7 397.1h.6M41.1 384.6h.6M43.3 389.6h.6M42.7 388.1h.6M41.4 388.2h.6M45.3 386.7h.6M41.6 389.4h.6M51.1 391.5h.6M42.6 392.1h.6M45.7 394.4h.6M46.3 397.2h.6M51.4 389.8h.6M40.8 393.5h.6M46.4 389.6h.6M34.4 382.7h.6M45.4 393.1h.6M48.1 384.9h.6M49.5 387.9h.6M45.6 391.7h.6M38.5 387.6h.6M30.9 386.3h.6M32.5 391.7h.6M43.7 393.7h.6M45.4 387.5h.6M45.4 388.4h.6M47.0 391.3h.6M37.4 390.0h.6M43.6 388.8h.6M48.7 396.9h.6M41.1 388.6h.6M29.8 389.5h.6M40.7 381.4h.6M45.0 392.4h.6M38.9 388.5h.6M37.5 393.1h.6M34.2 388.7h.6M55.0 390.2h.6M46.1 389.4h.6M36.3 389.9h.6M45.7 385.9h.6M45.3 395.0h.6M49.7 383.7h.6M37.4 383.5h.6M49.7 392.4h.6M47.5 386.5h.6M36.3 390.3h.6M43.9 386.6h.6M44.2 392.6h.6M44.7 385.8h.6M30.6 389.0h.6M44.3 389.0h.6M40.7 387.2h.6M47.6 389.8h.6M44.0 386.1h.6M39.6 390.7h.6M37.3 385.0h.6M41.3 394.8h.6M44.4 395.8h.6M42.5 388.8h.6M34.9 387.7h.6M51.9 391.3h.6M47.7 392.8h.6M43.2 389.2h.6M44.0 392.7h.6M46.0 392.0h.6M44.2 386.9h.6M41.7 386.2h.6M49.3 381.6h.6M42.0 399.5h.6M41.3 385.5h.6M43.2 395.2h.6M42.3 392.5h.6M43.9 388.5h.6M62.2 390.3h.6M40.1 388.0h.6M45.6 391.6h.6M47.9 390.6h.6M34.7 392.1h.6M41.4 388.9h.6M34.4 387.7h.6M38.9 389.9h.6M34.6 390.2h.6M44.0 385.5h.6M39.6 386.6h.6M48.7 379.9h.6M41.2 383.4h.6M40.7 393.4h.6M39.5 390.6h.6M38.2 397.8h.6M48.8 394.5h.6M35.3 385.6h.6M49.8 389.2h.6M41.8 391.3h.6M35.8 393.1h.6M43.4 391.9h.6M39.3 392.1h.6M39.1 393.8h.6M50.1 393.6h.6M46.4 392.5h.6M27.1 393.3h.6M41.7 390.4h.6M41.6 384.4h.6M40.1 392.6h.6M51.8 387.5h.6M37.9 395.8h.6M38.0 398.3h.6M43.6 386.5h.6M49.2 396.8h.6M34.7 396.2h.6M41.6 395.9h.6M41.0 383.7h.6M46.3 393.7h.6M55.9 396.9h.6M47.5 389.0h.6M40.2 388.8h.6M38.3 388.9h.6M28.0 390.7h.6M43.1 400.3h.6M47.9 388.1h.6M46.7 385.1h.6M39.7 382.5h.6M51.9 392.4h.6M36.2 389.8h.6M49.0 392.0h.6M45.6 386.6h.6M39.5 390.4h.6M48.8 386.7h.6M36.6 394.6h.6M37.7 394.3h.6M44.8 393.5h.6M53.8 392.8h.6M48.0 386.3h.6M39.1 392.6h.6M52.5 395.6h.6M57.2 391.2h.6M44.5 394.0h.6M43.4 389.8h.6M37.0 394.0h.6M36.9 392.0h.6M34.8 394.4h.6M37.1 393.4h.6M33.8 388.2h.6M50.4 386.8h.6M43.7 388.1h.6" stroke="#2a9a2e" stroke-width="0.6" stroke-opacity="0.55" fill="none"/>
<ellipse cx="88.5" cy="355.6" rx="3.0" ry="3.0" fill="#3aa53a" opacity="0.9" filter="url(#bl05)"/>
<path d="M81.1 356.6h.6M89.9 352.1h.6M90.3 353.1h.6M85.3 355.6h.6M86.3 362.9h.6M83.5 358.0h.6M91.7 349.3h.6M83.0 357.4h.6M87.0 356.8h.6M92.1 354.4h.6M85.1 346.9h.6M89.2 352.6h.6M89.5 356.3h.6M84.1 361.1h.6M92.0 358.3h.6M84.7 354.3h.6M86.7 354.3h.6M84.9 357.0h.6M89.2 356.8h.6M86.9 359.7h.6M89.1 346.8h.6M86.5 355.4h.6M91.6 354.6h.6M87.7 353.5h.6M90.6 354.2h.6M86.6 353.2h.6M90.3 353.9h.6M83.1 357.6h.6M86.3 356.7h.6M89.7 359.5h.6M91.8 353.8h.6M88.0 351.5h.6M93.9 357.0h.6M93.0 354.6h.6M81.9 360.5h.6M88.8 356.0h.6M88.7 357.7h.6M90.2 350.5h.6M92.0 353.9h.6M87.0 361.1h.6M91.4 354.5h.6M82.6 356.1h.6M90.2 355.3h.6M84.5 353.1h.6M84.5 356.3h.6M91.1 358.9h.6M86.2 356.4h.6M90.3 354.0h.6M88.0 362.4h.6M89.2 358.4h.6M87.1 355.7h.6M83.0 355.5h.6M92.3 362.3h.6M92.3 357.8h.6M88.7 353.7h.6M88.0 357.6h.6M86.0 358.6h.6M85.4 349.9h.6M85.3 350.3h.6M84.1 359.2h.6M87.9 356.3h.6M92.2 359.6h.6M86.9 359.9h.6M89.7 355.6h.6M89.9 351.0h.6M86.0 355.3h.6M90.5 354.4h.6M88.1 358.7h.6M93.0 358.1h.6M92.6 354.3h.6M87.5 356.6h.6M87.5 354.0h.6M93.8 355.0h.6M85.4 357.2h.6M94.4 355.9h.6M92.4 354.2h.6M86.9 353.4h.6M88.0 361.5h.6M84.8 360.8h.6M85.3 354.9h.6" stroke="#44aa44" stroke-width="0.6" stroke-opacity="0.5" fill="none"/>
<rect x="31.7" y="328.0" width="73.3" height="73.0" fill="none" stroke="#999" stroke-width="0.7"/>
<line x1="29.90" y1="329.70" x2="31.70" y2="329.70" stroke="#888" stroke-width="0.5"/>
<line x1="29.90" y1="344.10" x2="31.70" y2="344.10" stroke="#888" stroke-width="0.5"/>
<line x1="29.90" y1="358.50" x2="31.70" y2="358.50" stroke="#888" stroke-width="0.5"/>
<line x1="29.90" y1="372.90" x2="31.70" y2="372.90" stroke="#888" stroke-width="0.5"/>
<line x1="29.90" y1="387.30" x2="31.70" y2="387.30" stroke="#888" stroke-width="0.5"/>
<line x1="43.70" y1="401.00" x2="43.70" y2="402.80" stroke="#888" stroke-width="0.5"/>
<line x1="58.60" y1="401.00" x2="58.60" y2="402.80" stroke="#888" stroke-width="0.5"/>
<line x1="73.40" y1="401.00" x2="73.40" y2="402.80" stroke="#888" stroke-width="0.5"/>
<line x1="88.40" y1="401.00" x2="88.40" y2="402.80" stroke="#888" stroke-width="0.5"/>
<line x1="102.60" y1="401.00" x2="102.60" y2="402.80" stroke="#888" stroke-width="0.5"/>
<line x1="56.60" y1="328.00" x2="56.60" y2="401.00" stroke="#555" stroke-width="0.7"/>
<line x1="31.70" y1="374.40" x2="105.00" y2="374.40" stroke="#555" stroke-width="0.7"/>
<text x="22.30" y="331.92" font-size="7.0" text-anchor="middle" textLength="6.6" lengthAdjust="spacingAndGlyphs" fill="#262626" stroke="#262626" stroke-width="0.1">10</text>
<text x="25.90" y="328.22" font-size="4.4" textLength="2.1" lengthAdjust="spacingAndGlyphs" fill="#262626" stroke="#262626" stroke-width="0.1">6</text>
<text x="22.30" y="346.32" font-size="7.0" text-anchor="middle" textLength="6.6" lengthAdjust="spacingAndGlyphs" fill="#262626" stroke="#262626" stroke-width="0.1">10</text>
<text x="25.90" y="342.62" font-size="4.4" textLength="2.1" lengthAdjust="spacingAndGlyphs" fill="#262626" stroke="#262626" stroke-width="0.1">5</text>
<text x="22.30" y="360.72" font-size="7.0" text-anchor="middle" textLength="6.6" lengthAdjust="spacingAndGlyphs" fill="#262626" stroke="#262626" stroke-width="0.1">10</text>
<text x="25.90" y="357.02" font-size="4.4" textLength="2.1" lengthAdjust="spacingAndGlyphs" fill="#262626" stroke="#262626" stroke-width="0.1">4</text>
<text x="22.30" y="375.12" font-size="7.0" text-anchor="middle" textLength="6.6" lengthAdjust="spacingAndGlyphs" fill="#262626" stroke="#262626" stroke-width="0.1">10</text>
<text x="25.90" y="371.42" font-size="4.4" textLength="2.1" lengthAdjust="spacingAndGlyphs" fill="#262626" stroke="#262626" stroke-width="0.1">3</text>
<text x="22.30" y="389.52" font-size="7.0" text-anchor="middle" textLength="6.6" lengthAdjust="spacingAndGlyphs" fill="#262626" stroke="#262626" stroke-width="0.1">10</text>
<text x="25.90" y="385.82" font-size="4.4" textLength="2.1" lengthAdjust="spacingAndGlyphs" fill="#262626" stroke="#262626" stroke-width="0.1">2</text>
<text x="43.70" y="413.22" font-size="7.0" text-anchor="middle" textLength="6.6" lengthAdjust="spacingAndGlyphs" fill="#262626" stroke="#262626" stroke-width="0.1">10</text>
<text x="47.30" y="409.52" font-size="4.4" textLength="2.1" lengthAdjust="spacingAndGlyphs" fill="#262626" stroke="#262626" stroke-width="0.1">2</text>
<text x="58.60" y="413.22" font-size="7.0" text-anchor="middle" textLength="6.6" lengthAdjust="spacingAndGlyphs" fill="#262626" stroke="#262626" stroke-width="0.1">10</text>
<text x="62.20" y="409.52" font-size="4.4" textLength="2.1" lengthAdjust="spacingAndGlyphs" fill="#262626" stroke="#262626" stroke-width="0.1">3</text>
<text x="73.40" y="413.22" font-size="7.0" text-anchor="middle" textLength="6.6" lengthAdjust="spacingAndGlyphs" fill="#262626" stroke="#262626" stroke-width="0.1">10</text>
<text x="77.00" y="409.52" font-size="4.4" textLength="2.1" lengthAdjust="spacingAndGlyphs" fill="#262626" stroke="#262626" stroke-width="0.1">4</text>
<text x="88.40" y="413.22" font-size="7.0" text-anchor="middle" textLength="6.6" lengthAdjust="spacingAndGlyphs" fill="#262626" stroke="#262626" stroke-width="0.1">10</text>
<text x="92.00" y="409.52" font-size="4.4" textLength="2.1" lengthAdjust="spacingAndGlyphs" fill="#262626" stroke="#262626" stroke-width="0.1">5</text>
<text x="102.60" y="413.22" font-size="7.0" text-anchor="middle" textLength="6.6" lengthAdjust="spacingAndGlyphs" fill="#262626" stroke="#262626" stroke-width="0.1">10</text>
<text x="106.20" y="409.52" font-size="4.4" textLength="2.1" lengthAdjust="spacingAndGlyphs" fill="#262626" stroke="#262626" stroke-width="0.1">6</text>
<text x="90.60" y="335.80" font-size="6.9" text-anchor="middle" textLength="18.2" lengthAdjust="spacingAndGlyphs" fill="#262626" stroke="#262626" stroke-width="0.1">10.4%</text>
<text x="90.80" y="397.90" font-size="6.9" text-anchor="middle" textLength="18.0" lengthAdjust="spacingAndGlyphs" fill="#262626" stroke="#262626" stroke-width="0.1">10.9%</text>
<text x="52.70" y="322.70" font-size="6.6" textLength="23.0" lengthAdjust="spacingAndGlyphs" fill="#333" stroke="#333" stroke-width="0.1">SETBP1</text>
<text x="76.00" y="319.60" font-size="4.6" textLength="6.6" lengthAdjust="spacingAndGlyphs" fill="#333" stroke="#333" stroke-width="0.1">LSL</text>
<text x="67.90" y="424.60" font-size="9.0" text-anchor="middle" textLength="21.5" lengthAdjust="spacingAndGlyphs" fill="#262626" stroke="#262626" stroke-width="0.1">CD11b</text>
<text x="0.00" y="0.00" font-size="9.0" text-anchor="middle" textLength="16" lengthAdjust="spacingAndGlyphs" fill="#262626" stroke="#262626" stroke-width="0.1" transform="translate(15.3,364.9) rotate(-90)">Ly6G</text>
<ellipse cx="170" cy="390" rx="19" ry="2.4" fill="#f9d070" opacity="0.6" filter="url(#bl1)"/>
<path d="M183.7 391.4h.6M175.9 386.4h.6M177.1 387.8h.6M208.0 389.5h.6M174.6 387.5h.6M165.3 387.2h.6M185.7 389.4h.6M179.9 388.5h.6M165.0 392.8h.6M158.4 386.0h.6M177.7 387.5h.6M165.8 392.0h.6M160.5 391.9h.6M162.5 393.3h.6M190.6 389.0h.6M169.0 388.2h.6M174.8 392.5h.6M151.7 392.0h.6M153.5 388.1h.6M147.0 394.6h.6M172.8 390.5h.6M162.5 392.3h.6M142.6 390.1h.6M202.9 389.2h.6M172.2 391.5h.6M160.6 390.1h.6M185.5 390.4h.6M177.2 389.2h.6M176.4 390.1h.6M192.4 391.6h.6M168.6 384.6h.6M182.0 391.7h.6M159.2 385.6h.6M156.0 392.0h.6M157.1 389.0h.6M175.1 392.7h.6M171.7 389.8h.6M164.3 393.6h.6M186.9 389.8h.6M152.4 388.3h.6M180.1 388.4h.6M184.5 390.8h.6M176.1 391.4h.6M179.0 388.1h.6M167.4 395.1h.6M155.1 389.0h.6M186.9 389.6h.6M160.6 387.1h.6M179.5 392.2h.6M191.6 390.1h.6M186.6 387.7h.6M174.4 388.5h.6M174.4 391.7h.6M187.0 387.8h.6M189.7 389.0h.6M157.6 389.6h.6M151.5 390.0h.6M176.1 389.6h.6M179.5 389.3h.6M172.1 386.8h.6M172.6 388.1h.6M165.7 389.8h.6M174.7 386.4h.6M150.1 389.3h.6M178.6 390.8h.6M184.5 392.9h.6M179.0 390.0h.6M157.6 387.9h.6M165.5 390.6h.6M175.1 390.0h.6M169.9 391.4h.6M174.9 390.7h.6M176.3 388.8h.6M157.6 391.1h.6M177.8 389.5h.6M166.2 395.0h.6M161.4 389.5h.6M175.7 387.5h.6M173.6 394.0h.6M185.1 391.4h.6M180.3 390.2h.6M185.4 389.7h.6M166.1 390.2h.6M184.7 390.7h.6M181.4 385.5h.6M188.7 395.1h.6M190.7 389.3h.6M160.1 390.6h.6M158.2 391.6h.6M164.6 392.1h.6M191.1 385.5h.6M176.1 388.5h.6M152.3 388.6h.6M168.9 392.3h.6M150.7 392.3h.6M200.3 391.3h.6M179.6 390.0h.6M155.5 391.2h.6M177.4 391.6h.6M208.0 391.6h.6M178.0 393.4h.6M153.2 387.5h.6M166.7 388.6h.6M181.7 389.3h.6M196.4 393.3h.6M182.8 389.2h.6M180.6 391.8h.6M157.1 390.8h.6M181.9 390.5h.6M194.0 392.7h.6M160.4 390.3h.6M160.3 391.3h.6M159.9 392.0h.6M177.4 392.1h.6M170.0 386.8h.6M196.7 389.6h.6M191.3 390.9h.6M181.4 394.0h.6M176.8 393.1h.6M151.2 391.9h.6M168.6 389.7h.6M172.1 390.8h.6M195.2 385.9h.6M172.6 388.4h.6M188.3 389.1h.6M178.4 389.1h.6M181.4 392.2h.6M166.4 390.1h.6M152.1 390.7h.6M184.0 388.8h.6M187.7 385.4h.6M146.1 386.9h.6M165.2 390.0h.6M170.9 389.9h.6M182.1 389.0h.6M154.3 387.3h.6M201.6 384.8h.6M169.5 393.2h.6M178.8 388.2h.6M172.0 391.9h.6M188.9 388.0h.6M182.6 390.6h.6M187.5 393.1h.6M167.2 386.8h.6M177.5 393.9h.6M181.6 390.5h.6M205.6 387.7h.6M184.6 388.7h.6M172.7 390.2h.6M193.2 387.9h.6M164.5 386.5h.6M178.8 389.0h.6M177.9 387.6h.6M167.0 392.3h.6M169.6 391.4h.6M179.4 389.2h.6M150.2 392.2h.6M174.4 392.2h.6M143.8 386.4h.6M142.0 388.1h.6M186.6 391.2h.6M171.5 390.3h.6M182.7 389.3h.6M177.5 390.3h.6M141.4 389.2h.6M191.0 389.1h.6M170.0 388.7h.6M165.2 392.5h.6M168.2 387.8h.6M128.4 388.7h.6M144.5 386.0h.6M183.1 391.6h.6M145.2 391.9h.6M178.4 388.3h.6M182.3 386.4h.6M155.1 386.8h.6M156.4 391.9h.6M153.3 387.5h.6M158.7 390.4h.6M167.2 391.9h.6M162.0 387.2h.6M164.9 390.1h.6M158.9 390.6h.6M197.4 388.7h.6M172.5 393.0h.6M162.8 388.1h.6M156.5 390.8h.6M179.0 389.6h.6M172.4 392.8h.6M183.9 386.9h.6M171.6 390.2h.6M181.8 389.5h.6M162.6 388.9h.6M146.7 389.9h.6M163.3 391.0h.6M157.2 389.0h.6M157.9 387.6h.6M181.3 388.9h.6M177.7 387.5h.6M172.9 386.2h.6M164.8 388.8h.6M179.6 390.3h.6M169.0 391.8h.6M174.1 391.1h.6M182.1 389.8h.6M167.3 390.6h.6M165.6 390.8h.6M186.9 391.8h.6M166.0 387.1h.6M170.6 389.6h.6M186.8 389.1h.6M168.4 391.5h.6M164.7 389.5h.6M195.3 393.2h.6M180.1 390.5h.6M157.8 391.1h.6M172.2 390.4h.6M164.1 389.9h.6M168.8 390.6h.6M191.3 390.7h.6M148.2 387.8h.6M149.2 388.2h.6M179.1 390.8h.6M163.0 390.5h.6M160.8 386.8h.6M151.7 388.0h.6M191.2 387.0h.6M188.7 392.8h.6M168.8 389.8h.6M162.7 389.8h.6M180.5 389.9h.6M185.2 392.5h.6M176.1 390.6h.6M170.4 390.6h.6M155.7 390.8h.6M174.1 388.0h.6M201.3 387.8h.6M159.1 390.5h.6M144.2 388.1h.6M150.0 387.8h.6M169.4 390.6h.6M186.7 391.7h.6M187.8 391.2h.6M164.7 392.3h.6M164.4 388.5h.6M192.6 391.6h.6M174.3 391.5h.6M183.5 386.9h.6M169.9 387.3h.6M172.9 388.4h.6M190.2 391.0h.6M159.9 389.8h.6M154.3 390.0h.6M178.9 390.5h.6M144.2 389.1h.6M178.3 390.5h.6M187.4 387.1h.6M178.5 388.4h.6M173.9 390.8h.6M180.8 388.6h.6M173.8 387.3h.6M151.5 391.1h.6M170.4 386.3h.6M159.3 389.9h.6M193.0 392.2h.6M182.4 385.9h.6M169.8 390.9h.6M176.7 390.8h.6M167.9 393.7h.6M191.8 389.7h.6M157.5 394.4h.6M163.4 392.5h.6M197.9 387.8h.6M175.2 389.1h.6M178.4 390.6h.6M198.4 391.2h.6M171.1 392.3h.6M167.4 389.1h.6M202.5 388.1h.6M164.3 390.0h.6M156.4 385.2h.6M186.0 388.1h.6M163.6 389.1h.6M157.4 387.5h.6M173.4 395.1h.6M181.5 391.5h.6M150.1 389.8h.6M154.6 391.6h.6M168.0 390.0h.6M169.9 388.6h.6M149.9 391.1h.6M151.8 387.3h.6M167.0 388.3h.6M174.8 392.1h.6M174.7 390.3h.6M171.5 391.8h.6M145.3 390.7h.6M158.1 387.2h.6M171.2 389.0h.6M179.3 392.3h.6" stroke="#f8c850" stroke-width="0.6" stroke-opacity="0.45" fill="none"/>
<ellipse cx="160.5" cy="389.5" rx="6.5" ry="2.6" fill="#f7c03a" opacity="0.85" filter="url(#bl1)"/>
<path d="M188.5,356 Q195,351 202.5,356 Q203,362 198,363.5 L196.8,369 L195,369 L193,363.5 Q188,362 188.5,356 Z" fill="#f6ac08" opacity="0.9" filter="url(#bl1)"/>
<path d="M183.6 357.6h.6M205.0 360.4h.6M202.4 358.1h.6M188.0 354.4h.6M198.8 360.7h.6M191.5 357.0h.6M196.5 352.6h.6M193.5 362.7h.6M206.1 357.5h.6M204.4 356.2h.6M191.2 351.1h.6M200.0 356.7h.6M206.9 358.8h.6M196.1 352.4h.6M202.7 356.7h.6M194.4 351.2h.6M199.8 360.8h.6M192.2 358.1h.6M197.2 360.7h.6M195.7 363.0h.6M194.0 356.0h.6M192.9 350.2h.6M191.2 360.9h.6M196.5 355.4h.6M197.0 351.8h.6M193.8 359.4h.6M198.7 355.5h.6M199.8 363.4h.6M193.1 360.1h.6M187.4 352.0h.6M198.3 358.0h.6M196.2 356.1h.6M193.8 360.3h.6M203.8 357.2h.6M187.0 361.7h.6M198.3 359.9h.6M196.2 364.8h.6M195.6 359.4h.6M186.0 356.1h.6M191.8 357.8h.6M197.0 355.6h.6M203.9 354.6h.6M193.0 358.6h.6M189.0 359.6h.6M198.4 357.0h.6M204.8 358.1h.6M196.7 355.0h.6M186.9 356.0h.6M193.6 356.5h.6M199.1 350.7h.6M189.6 352.4h.6M202.0 356.2h.6M192.7 354.5h.6M199.7 356.6h.6M196.4 351.7h.6M201.1 359.0h.6M198.0 361.6h.6M194.3 357.3h.6M198.8 359.1h.6M194.0 358.0h.6M192.7 360.0h.6M199.9 357.9h.6M204.7 353.2h.6M194.1 363.0h.6M193.1 353.0h.6M202.2 359.5h.6M189.3 360.2h.6M190.1 353.8h.6M194.5 356.4h.6M189.8 356.8h.6M190.2 358.0h.6M195.1 360.1h.6M193.0 353.9h.6M188.6 357.1h.6M203.0 360.4h.6M192.0 360.7h.6M189.4 360.9h.6M193.3 360.2h.6M198.4 357.0h.6M196.9 354.6h.6M194.9 361.1h.6M215.8 360.0h.6M195.7 354.8h.6M200.6 352.9h.6M191.2 358.9h.6M189.2 362.5h.6M200.7 356.2h.6M192.5 353.9h.6M188.2 359.2h.6M198.4 358.9h.6M196.6 356.2h.6M197.1 353.4h.6M195.3 362.3h.6M201.9 356.5h.6M193.6 362.0h.6M204.2 353.4h.6M193.1 358.6h.6M201.4 355.3h.6M198.5 357.0h.6M207.2 359.2h.6M194.6 356.9h.6M200.6 359.9h.6M189.8 358.5h.6M188.6 355.6h.6M188.8 353.9h.6M191.8 354.9h.6M197.9 360.3h.6M194.1 354.5h.6M199.3 351.8h.6M185.6 360.1h.6M198.6 360.8h.6M194.2 354.1h.6M192.7 359.6h.6M191.4 355.8h.6M188.3 354.4h.6M199.5 359.2h.6M189.4 354.6h.6M192.5 359.5h.6M189.4 357.4h.6M184.5 354.1h.6" stroke="#f2a400" stroke-width="0.6" stroke-opacity="0.5" fill="none"/>
<path d="M186,391.5 L199,377 Q204,374 206,378 L199,390 Q194,393 188,393.5 Z" fill="#f6ac08" opacity="0.9" filter="url(#bl1)"/>
<path d="M200.5 384.4h.6M186.7 388.2h.6M199.2 378.6h.6M193.9 388.6h.6M199.8 386.3h.6M198.7 378.1h.6M194.8 384.6h.6M185.0 388.7h.6M197.0 374.1h.6M202.3 379.5h.6M196.3 386.5h.6M201.7 385.1h.6M192.7 385.6h.6M199.3 391.0h.6M198.7 376.2h.6M191.7 383.9h.6M196.3 384.7h.6M204.1 366.2h.6M202.9 379.8h.6M191.1 387.5h.6M192.9 387.0h.6M197.4 374.1h.6M202.4 375.8h.6M205.6 377.1h.6M204.5 379.0h.6M202.2 378.3h.6M192.6 390.6h.6M205.6 386.4h.6M183.4 394.5h.6M198.5 374.6h.6M200.2 391.5h.6M201.6 373.8h.6M207.3 379.8h.6M201.3 381.0h.6M194.7 380.2h.6M194.7 389.1h.6M201.6 388.7h.6M187.2 378.9h.6M194.5 386.7h.6M198.2 382.2h.6M195.0 392.9h.6M193.8 389.8h.6M190.8 382.1h.6M197.2 369.0h.6M192.0 390.0h.6M195.7 388.2h.6M194.0 383.3h.6M207.9 371.6h.6M191.9 381.8h.6M193.2 390.0h.6M199.1 381.0h.6M193.6 389.9h.6M184.9 392.3h.6M192.0 383.0h.6M194.9 381.3h.6M196.1 393.7h.6M203.5 383.5h.6M198.8 386.6h.6M203.8 383.3h.6M209.1 370.5h.6M197.3 382.5h.6M171.5 399.1h.6M197.8 385.8h.6M195.7 390.5h.6M202.3 375.8h.6M209.1 381.4h.6M196.0 378.6h.6M204.1 375.5h.6M194.1 386.4h.6M195.8 390.1h.6M203.9 383.3h.6M197.2 378.5h.6M197.5 387.4h.6M201.6 394.8h.6M193.0 383.6h.6M204.8 379.9h.6M195.2 383.5h.6M200.8 384.1h.6M199.6 379.0h.6M200.8 384.1h.6M192.1 370.8h.6M188.7 386.6h.6M195.1 385.8h.6M203.1 380.8h.6M195.3 384.8h.6M204.6 372.6h.6M202.1 386.9h.6M192.5 376.1h.6M197.1 380.8h.6M198.2 387.7h.6M198.0 380.7h.6M202.4 380.4h.6M197.4 384.3h.6M196.6 381.6h.6M193.4 386.6h.6M187.0 385.5h.6M203.0 376.2h.6M195.5 383.7h.6M196.2 383.9h.6M194.2 381.3h.6M199.6 376.9h.6M196.8 372.7h.6M192.5 392.7h.6M193.3 382.8h.6M195.3 378.9h.6M190.4 377.1h.6M191.6 384.6h.6M201.5 383.6h.6M195.4 393.4h.6M186.9 381.2h.6M186.3 401.5h.6M193.7 382.6h.6M188.6 384.9h.6M203.7 376.4h.6M205.9 373.7h.6M184.5 399.3h.6M193.2 385.3h.6M204.5 374.7h.6M202.8 377.6h.6M193.0 389.6h.6M195.8 390.9h.6M201.8 378.9h.6M201.1 382.3h.6M196.8 388.1h.6M196.3 387.0h.6M190.7 389.5h.6M196.3 379.4h.6M192.1 384.7h.6M198.3 377.9h.6M202.8 386.1h.6M193.7 377.3h.6M199.6 386.3h.6M197.4 388.8h.6M200.8 381.8h.6M193.1 383.9h.6M194.7 385.6h.6M200.3 382.4h.6M194.5 385.8h.6M193.9 377.1h.6M189.4 385.8h.6M194.2 384.3h.6M192.2 382.8h.6M200.8 381.1h.6M186.5 393.0h.6M194.2 395.1h.6M192.4 385.3h.6M196.1 382.9h.6M200.0 388.8h.6M199.7 385.2h.6M200.1 375.0h.6M207.9 376.8h.6M199.4 376.2h.6M202.1 380.7h.6M199.2 393.6h.6M198.8 380.2h.6M199.8 385.6h.6M204.4 379.5h.6M207.3 381.6h.6M187.6 389.3h.6M190.9 389.4h.6M206.4 378.0h.6M189.2 388.8h.6M200.7 376.8h.6M196.4 385.4h.6M187.6 396.2h.6M199.7 383.7h.6M188.3 387.0h.6M193.4 387.9h.6M196.9 383.9h.6M210.2 378.0h.6M190.2 386.0h.6M205.4 373.7h.6M208.6 381.1h.6M192.3 386.1h.6M194.3 381.0h.6M189.4 388.1h.6M199.9 378.0h.6M193.7 383.7h.6M192.2 395.7h.6M180.7 394.8h.6M195.6 376.8h.6M203.1 384.3h.6M191.7 389.2h.6M191.1 391.5h.6M197.3 384.1h.6M205.4 377.9h.6M205.8 378.5h.6M189.9 391.3h.6M195.1 377.1h.6M204.2 376.9h.6M195.9 379.3h.6M197.4 384.4h.6M194.5 386.0h.6M187.5 399.5h.6M183.7 383.6h.6M188.3 386.7h.6M196.9 378.3h.6M195.2 379.6h.6M210.6 373.5h.6M204.8 370.3h.6M197.4 377.5h.6M201.4 382.8h.6M183.7 389.3h.6M185.2 385.9h.6M189.2 385.1h.6M187.9 392.1h.6M195.7 377.1h.6M192.9 387.0h.6M192.9 383.2h.6M203.2 382.0h.6M199.5 379.7h.6M212.5 378.2h.6M193.4 385.8h.6M200.9 375.2h.6M198.6 381.9h.6M191.3 387.1h.6M185.4 391.0h.6M190.6 401.5h.6M208.2 379.4h.6M200.6 385.3h.6M206.3 380.0h.6M199.0 376.3h.6M197.1 380.1h.6M186.0 387.1h.6M201.4 384.7h.6M192.8 396.6h.6M203.6 374.9h.6M193.1 386.3h.6M200.7 377.5h.6M190.5 391.0h.6M184.3 395.7h.6M203.6 378.6h.6M201.9 381.2h.6M200.7 380.5h.6M190.5 387.9h.6M199.0 388.1h.6M206.7 376.4h.6M189.6 386.0h.6M198.7 389.1h.6M197.8 382.0h.6M193.9 390.8h.6M197.6 382.3h.6M201.2 388.4h.6M199.7 389.8h.6M203.4 377.4h.6M200.8 378.8h.6M190.4 387.7h.6M192.1 390.4h.6M197.6 385.6h.6M192.3 370.4h.6" stroke="#f2a814" stroke-width="0.6" stroke-opacity="0.45" fill="none"/>
<path d="M195.9 359.0h.6M195.5 363.6h.6M195.3 374.8h.6M189.9 369.0h.6M194.8 358.5h.6M196.9 368.2h.6M193.5 364.4h.6M204.6 366.0h.6M189.6 363.3h.6M193.9 366.1h.6M194.8 362.8h.6M196.6 365.6h.6M190.9 363.9h.6M193.8 372.2h.6M196.5 366.3h.6M195.1 369.1h.6M201.1 364.9h.6M196.4 371.6h.6M192.1 368.9h.6M195.5 365.7h.6M196.7 373.1h.6M198.4 367.0h.6M195.6 379.8h.6M191.7 369.1h.6M197.7 368.8h.6M197.0 368.9h.6M197.3 374.4h.6M194.3 369.0h.6M194.8 366.0h.6M194.9 362.3h.6M197.2 376.5h.6M200.1 374.4h.6M192.1 375.6h.6M192.9 367.7h.6M200.5 362.6h.6M197.5 369.4h.6M194.5 363.6h.6M196.3 365.7h.6M198.1 374.1h.6M190.9 365.5h.6M194.0 362.1h.6M191.6 368.4h.6M194.4 359.7h.6M193.4 370.6h.6M191.4 363.4h.6M199.8 374.6h.6M190.1 361.2h.6M196.1 362.0h.6M194.2 365.7h.6M196.7 355.4h.6M188.4 361.9h.6M198.0 367.2h.6M189.9 370.5h.6M197.1 366.8h.6M194.0 370.2h.6M198.6 368.8h.6M196.6 367.8h.6M193.9 363.4h.6M195.8 366.5h.6M194.3 372.6h.6M196.5 372.4h.6M190.3 370.8h.6M193.2 364.0h.6M192.4 374.1h.6M197.5 364.4h.6M191.6 368.1h.6M193.6 376.3h.6M190.6 358.9h.6M194.2 368.1h.6M195.4 371.8h.6M201.2 366.3h.6M193.4 359.2h.6M195.7 372.3h.6M194.2 373.9h.6M195.1 375.6h.6M196.0 362.7h.6M193.1 360.3h.6M189.8 369.3h.6M197.6 377.8h.6M194.8 366.8h.6" stroke="#f5b840" stroke-width="0.6" stroke-opacity="0.4" fill="none"/>
<rect x="145.6" y="328.0" width="73.30000000000001" height="72.80000000000001" fill="none" stroke="#999" stroke-width="0.7"/>
<line x1="143.80" y1="330.30" x2="145.60" y2="330.30" stroke="#888" stroke-width="0.5"/>
<line x1="143.80" y1="344.80" x2="145.60" y2="344.80" stroke="#888" stroke-width="0.5"/>
<line x1="143.80" y1="359.30" x2="145.60" y2="359.30" stroke="#888" stroke-width="0.5"/>
<line x1="143.80" y1="373.80" x2="145.60" y2="373.80" stroke="#888" stroke-width="0.5"/>
<line x1="143.80" y1="388.00" x2="145.60" y2="388.00" stroke="#888" stroke-width="0.5"/>
<line x1="157.30" y1="400.80" x2="157.30" y2="402.60" stroke="#888" stroke-width="0.5"/>
<line x1="172.50" y1="400.80" x2="172.50" y2="402.60" stroke="#888" stroke-width="0.5"/>
<line x1="187.00" y1="400.80" x2="187.00" y2="402.60" stroke="#888" stroke-width="0.5"/>
<line x1="202.30" y1="400.80" x2="202.30" y2="402.60" stroke="#888" stroke-width="0.5"/>
<line x1="216.00" y1="400.80" x2="216.00" y2="402.60" stroke="#888" stroke-width="0.5"/>
<line x1="170.60" y1="328.00" x2="170.60" y2="400.80" stroke="#555" stroke-width="0.7"/>
<line x1="145.60" y1="374.40" x2="218.90" y2="374.40" stroke="#555" stroke-width="0.7"/>
<text x="136.30" y="332.52" font-size="7.0" text-anchor="middle" textLength="6.6" lengthAdjust="spacingAndGlyphs" fill="#262626" stroke="#262626" stroke-width="0.1">10</text>
<text x="139.90" y="328.82" font-size="4.4" textLength="2.1" lengthAdjust="spacingAndGlyphs" fill="#262626" stroke="#262626" stroke-width="0.1">6</text>
<text x="136.30" y="347.02" font-size="7.0" text-anchor="middle" textLength="6.6" lengthAdjust="spacingAndGlyphs" fill="#262626" stroke="#262626" stroke-width="0.1">10</text>
<text x="139.90" y="343.32" font-size="4.4" textLength="2.1" lengthAdjust="spacingAndGlyphs" fill="#262626" stroke="#262626" stroke-width="0.1">5</text>
<text x="136.30" y="361.52" font-size="7.0" text-anchor="middle" textLength="6.6" lengthAdjust="spacingAndGlyphs" fill="#262626" stroke="#262626" stroke-width="0.1">10</text>
<text x="139.90" y="357.82" font-size="4.4" textLength="2.1" lengthAdjust="spacingAndGlyphs" fill="#262626" stroke="#262626" stroke-width="0.1">4</text>
<text x="136.30" y="376.02" font-size="7.0" text-anchor="middle" textLength="6.6" lengthAdjust="spacingAndGlyphs" fill="#262626" stroke="#262626" stroke-width="0.1">10</text>
<text x="139.90" y="372.32" font-size="4.4" textLength="2.1" lengthAdjust="spacingAndGlyphs" fill="#262626" stroke="#262626" stroke-width="0.1">3</text>
<text x="136.30" y="390.22" font-size="7.0" text-anchor="middle" textLength="6.6" lengthAdjust="spacingAndGlyphs" fill="#262626" stroke="#262626" stroke-width="0.1">10</text>
<text x="139.90" y="386.52" font-size="4.4" textLength="2.1" lengthAdjust="spacingAndGlyphs" fill="#262626" stroke="#262626" stroke-width="0.1">2</text>
<text x="157.30" y="413.22" font-size="7.0" text-anchor="middle" textLength="6.6" lengthAdjust="spacingAndGlyphs" fill="#262626" stroke="#262626" stroke-width="0.1">10</text>
<text x="160.90" y="409.52" font-size="4.4" textLength="2.1" lengthAdjust="spacingAndGlyphs" fill="#262626" stroke="#262626" stroke-width="0.1">2</text>
<text x="172.50" y="413.22" font-size="7.0" text-anchor="middle" textLength="6.6" lengthAdjust="spacingAndGlyphs" fill="#262626" stroke="#262626" stroke-width="0.1">10</text>
<text x="176.10" y="409.52" font-size="4.4" textLength="2.1" lengthAdjust="spacingAndGlyphs" fill="#262626" stroke="#262626" stroke-width="0.1">3</text>
<text x="187.00" y="413.22" font-size="7.0" text-anchor="middle" textLength="6.6" lengthAdjust="spacingAndGlyphs" fill="#262626" stroke="#262626" stroke-width="0.1">10</text>
<text x="190.60" y="409.52" font-size="4.4" textLength="2.1" lengthAdjust="spacingAndGlyphs" fill="#262626" stroke="#262626" stroke-width="0.1">4</text>
<text x="202.30" y="413.22" font-size="7.0" text-anchor="middle" textLength="6.6" lengthAdjust="spacingAndGlyphs" fill="#262626" stroke="#262626" stroke-width="0.1">10</text>
<text x="205.90" y="409.52" font-size="4.4" textLength="2.1" lengthAdjust="spacingAndGlyphs" fill="#262626" stroke="#262626" stroke-width="0.1">5</text>
<text x="216.00" y="413.22" font-size="7.0" text-anchor="middle" textLength="6.6" lengthAdjust="spacingAndGlyphs" fill="#262626" stroke="#262626" stroke-width="0.1">10</text>
<text x="219.60" y="409.52" font-size="4.4" textLength="2.1" lengthAdjust="spacingAndGlyphs" fill="#262626" stroke="#262626" stroke-width="0.1">6</text>
<text x="203.90" y="336.60" font-size="6.9" text-anchor="middle" textLength="17.8" lengthAdjust="spacingAndGlyphs" fill="#262626" stroke="#262626" stroke-width="0.1">34.5%</text>
<text x="203.60" y="398.60" font-size="6.9" text-anchor="middle" textLength="18.3" lengthAdjust="spacingAndGlyphs" fill="#262626" stroke="#262626" stroke-width="0.1">56.1%</text>
<text x="163.60" y="322.70" font-size="6.6" textLength="22.2" lengthAdjust="spacingAndGlyphs" fill="#333" stroke="#333" stroke-width="0.1">SETBP1</text>
<text x="186.50" y="319.60" font-size="4.6" textLength="12.3" lengthAdjust="spacingAndGlyphs" fill="#333" stroke="#333" stroke-width="0.1">G870S</text>
<text x="181.50" y="424.60" font-size="9.0" text-anchor="middle" textLength="21.5" lengthAdjust="spacingAndGlyphs" fill="#262626" stroke="#262626" stroke-width="0.1">CD11b</text>
<text x="0.00" y="0.00" font-size="9.0" text-anchor="middle" textLength="16.5" lengthAdjust="spacingAndGlyphs" fill="#262626" stroke="#262626" stroke-width="0.1" transform="translate(129.6,364.6) rotate(-90)">Ly6G</text>
<path d="M44.2 508.4h.6M54.7 501.3h.6M56.8 506.5h.6M38.9 507.3h.6M53.0 502.2h.6M49.1 511.9h.6M62.8 512.2h.6M44.0 501.1h.6M58.3 498.6h.6M47.0 495.9h.6M65.0 508.8h.6M55.2 505.0h.6M49.1 502.2h.6M56.3 500.8h.6M60.6 501.8h.6M45.9 509.8h.6M51.0 506.5h.6M49.1 493.9h.6M55.8 497.9h.6M59.6 497.0h.6M38.9 505.4h.6M55.0 504.5h.6M43.5 508.0h.6M41.7 501.9h.6M46.5 502.3h.6M58.0 501.1h.6M56.0 507.1h.6M40.0 498.8h.6M49.3 501.3h.6M54.2 495.3h.6M57.0 507.4h.6M50.8 497.8h.6M52.0 501.6h.6M56.0 503.6h.6M57.1 502.1h.6M62.1 493.6h.6M44.9 506.2h.6M41.4 507.3h.6M43.5 504.4h.6M45.6 502.0h.6M53.2 503.5h.6M49.3 513.7h.6M52.1 499.6h.6M58.5 507.7h.6M60.6 512.0h.6M45.4 508.8h.6M60.0 504.0h.6M53.7 490.5h.6M48.0 512.0h.6M39.5 501.6h.6M54.0 506.6h.6M63.4 496.1h.6M52.3 507.9h.6M42.8 503.8h.6M65.2 509.9h.6M55.8 492.2h.6M51.1 505.7h.6M49.8 503.7h.6M73.6 503.0h.6M45.2 505.1h.6M49.8 502.6h.6M51.4 507.5h.6M53.7 498.6h.6M51.1 506.1h.6M48.7 509.2h.6M57.4 499.5h.6M54.2 512.9h.6M62.9 503.7h.6M58.3 501.0h.6M41.9 506.5h.6M53.7 506.3h.6M51.8 505.5h.6M48.4 506.1h.6M57.8 503.7h.6M57.7 496.0h.6M46.5 510.5h.6M64.3 505.1h.6M51.3 498.3h.6M54.5 507.5h.6M41.6 506.5h.6M55.4 506.0h.6M44.1 506.4h.6M41.5 510.7h.6M52.9 498.8h.6M61.4 509.2h.6M47.4 513.9h.6M45.0 505.4h.6M60.3 493.8h.6M59.0 503.7h.6M51.9 499.2h.6M54.3 499.0h.6M45.2 502.0h.6M43.4 511.1h.6M42.7 500.6h.6M49.8 504.0h.6M57.5 507.7h.6M49.9 502.3h.6M52.2 507.7h.6M56.9 501.7h.6M37.6 513.6h.6M58.7 505.2h.6M54.4 501.7h.6M45.0 502.5h.6M50.4 501.2h.6M41.8 502.6h.6M56.0 501.8h.6M52.2 494.7h.6M50.5 503.5h.6M43.4 496.2h.6M54.9 500.4h.6M55.4 502.1h.6M56.4 502.5h.6M41.5 503.6h.6M49.7 507.0h.6M48.8 502.2h.6M58.0 509.2h.6M57.3 508.7h.6M55.2 507.5h.6M58.1 505.8h.6M52.4 504.6h.6M68.8 504.1h.6M50.3 502.4h.6M51.8 505.1h.6M44.1 495.1h.6M54.1 496.8h.6M53.8 504.6h.6M60.1 511.5h.6M54.6 501.5h.6M43.8 500.4h.6M52.3 494.7h.6M52.5 503.9h.6M56.5 502.5h.6M52.7 500.7h.6M48.8 496.0h.6M52.9 511.0h.6M53.1 505.6h.6M45.1 510.4h.6M46.6 507.6h.6M52.8 499.7h.6M59.2 504.1h.6M53.3 506.0h.6M51.8 502.3h.6M55.3 502.2h.6M52.5 501.0h.6M41.6 501.0h.6M48.5 504.1h.6M60.3 496.4h.6M52.9 494.0h.6M44.7 501.7h.6M36.2 495.6h.6M53.1 504.3h.6M51.2 500.4h.6M67.1 503.3h.6M46.0 511.6h.6M56.3 502.3h.6M60.3 504.7h.6M56.5 505.1h.6M44.8 508.4h.6M53.1 499.5h.6M46.7 508.3h.6M49.4 504.2h.6M56.6 504.6h.6M41.3 506.9h.6M58.6 507.9h.6M63.3 505.6h.6M57.4 511.2h.6M50.0 511.8h.6M64.1 507.5h.6M64.9 507.8h.6M45.8 509.1h.6M54.3 505.9h.6M53.1 510.1h.6M55.9 500.9h.6M55.4 507.3h.6M46.9 502.0h.6M49.3 501.3h.6M54.4 508.6h.6M65.2 509.4h.6M59.2 509.1h.6M61.3 502.3h.6M56.9 505.5h.6M51.1 502.0h.6M48.5 502.8h.6M43.4 506.3h.6M51.8 504.5h.6M54.4 507.3h.6M47.9 503.5h.6M40.7 494.0h.6M38.4 510.9h.6M39.2 506.1h.6M62.3 501.9h.6M63.4 512.3h.6M58.6 514.7h.6M56.4 500.7h.6M55.7 502.0h.6M42.9 498.3h.6M68.2 501.6h.6M51.9 501.0h.6M53.0 503.0h.6M49.2 498.6h.6M42.2 500.7h.6M54.1 513.4h.6M59.5 512.3h.6M55.5 503.7h.6M42.8 504.1h.6M37.1 502.7h.6M63.5 505.6h.6M60.0 502.4h.6M42.5 501.9h.6M49.4 509.5h.6M66.0 500.8h.6M49.6 503.4h.6M49.7 498.5h.6M52.8 505.7h.6M54.9 498.7h.6M51.4 496.3h.6M58.6 499.5h.6M50.3 502.1h.6M48.1 499.4h.6M39.8 511.9h.6M54.0 505.3h.6M66.9 503.7h.6M56.1 504.2h.6M60.5 506.4h.6M54.4 503.0h.6M54.2 509.4h.6M37.7 503.6h.6M49.3 502.8h.6M38.4 507.4h.6M46.3 503.1h.6M48.7 496.6h.6M49.1 495.9h.6M45.6 502.7h.6M52.2 504.4h.6M51.3 513.8h.6M55.3 498.7h.6M47.9 501.2h.6M51.0 501.4h.6M46.2 511.6h.6M52.5 502.6h.6M50.5 503.2h.6M62.0 506.3h.6M60.1 490.1h.6M54.5 508.9h.6M66.1 504.3h.6M40.2 506.8h.6M48.1 496.1h.6M47.9 508.9h.6M60.7 507.4h.6M44.9 515.5h.6" stroke="#8ccc88" stroke-width="0.6" stroke-opacity="0.45" fill="none"/>
<path d="M64.8 503.3h.6M63.5 508.9h.6M72.9 507.2h.6M71.1 503.4h.6M71.6 496.1h.6M75.7 507.3h.6M68.7 503.6h.6M72.2 509.9h.6M72.9 503.8h.6M68.2 497.7h.6M67.7 504.0h.6M69.5 504.0h.6M74.4 505.4h.6M72.1 506.3h.6M71.7 503.6h.6M73.1 496.8h.6M77.0 498.5h.6M74.9 503.7h.6M76.3 503.8h.6M66.0 508.0h.6M71.7 504.2h.6M71.2 507.7h.6M74.8 504.6h.6M63.0 502.1h.6M71.3 510.9h.6M72.7 503.3h.6M76.7 503.3h.6M70.6 504.3h.6M63.3 507.5h.6M72.9 502.6h.6M65.1 504.6h.6M77.8 501.2h.6M65.5 505.4h.6M62.8 494.8h.6M68.6 501.0h.6M69.4 501.5h.6M72.4 502.8h.6M67.8 501.9h.6M73.9 507.6h.6M75.3 506.5h.6M54.3 499.7h.6M69.2 504.6h.6M62.7 509.4h.6M72.3 501.3h.6M71.6 502.4h.6M67.0 505.8h.6M68.5 498.1h.6M67.6 503.3h.6M65.4 508.8h.6M65.4 510.8h.6M75.3 500.0h.6M71.5 508.5h.6M69.9 499.0h.6M71.4 511.7h.6M63.4 506.0h.6M70.9 503.3h.6M68.9 502.5h.6M76.0 506.2h.6M65.8 510.0h.6M64.4 506.4h.6M71.8 508.6h.6M72.6 508.0h.6M70.7 507.7h.6M72.6 512.4h.6M67.4 508.6h.6M73.2 504.5h.6M68.0 505.6h.6M63.5 498.3h.6M74.4 497.6h.6M78.1 502.7h.6M72.1 504.1h.6M73.0 502.7h.6M69.0 503.3h.6M76.1 508.3h.6M77.2 505.3h.6M69.9 497.1h.6M74.1 507.2h.6M68.9 507.0h.6M77.3 504.2h.6M76.2 505.0h.6M62.2 501.9h.6M68.8 505.9h.6M66.6 502.1h.6M66.1 503.7h.6M71.2 507.7h.6M74.9 504.5h.6M72.1 504.2h.6M71.4 510.0h.6M58.5 503.1h.6M72.4 508.3h.6M65.4 505.2h.6M75.2 502.0h.6M61.3 502.4h.6M64.9 506.4h.6M66.6 510.9h.6M71.6 500.6h.6M68.4 499.4h.6M72.8 509.8h.6M69.8 507.5h.6M66.2 505.0h.6M82.4 498.2h.6M77.0 508.5h.6M61.5 498.1h.6M66.0 507.7h.6M68.7 503.1h.6M74.4 504.3h.6M72.0 502.5h.6M76.5 500.7h.6M79.3 502.5h.6M66.9 506.4h.6M73.1 495.9h.6M72.0 498.4h.6M66.7 506.9h.6M66.6 505.2h.6M69.0 511.5h.6M70.4 499.1h.6M65.3 500.2h.6M71.5 503.8h.6M75.7 504.4h.6M71.5 505.1h.6M70.2 504.9h.6M74.8 506.9h.6M68.1 496.7h.6M66.8 504.9h.6M58.4 501.9h.6M73.1 501.5h.6M65.2 510.8h.6M77.7 502.7h.6M77.4 508.9h.6M65.2 514.5h.6M66.1 502.7h.6M65.3 504.0h.6M64.2 503.7h.6M76.2 504.6h.6M69.5 509.9h.6M66.3 507.6h.6M69.3 504.6h.6M70.9 504.2h.6M70.5 500.6h.6M67.9 505.5h.6M70.2 499.0h.6M67.2 500.9h.6M70.5 504.4h.6M71.2 501.1h.6M70.8 498.2h.6M56.3 503.4h.6M62.4 499.9h.6M64.7 506.2h.6M64.6 504.7h.6M68.2 498.7h.6M62.8 505.5h.6M72.6 506.7h.6M79.8 504.7h.6M72.0 503.1h.6M71.1 502.2h.6M66.1 511.6h.6M61.3 504.6h.6M72.8 504.2h.6M65.8 502.8h.6M68.3 499.3h.6M70.3 501.9h.6M67.8 506.3h.6M65.2 505.3h.6M67.5 505.2h.6M70.9 504.5h.6M65.6 500.4h.6M66.2 504.2h.6M74.2 507.8h.6M68.0 503.8h.6M62.4 494.6h.6M66.1 500.8h.6M62.7 496.4h.6M73.1 500.3h.6M62.1 512.7h.6M71.3 502.2h.6M73.8 500.4h.6M78.3 497.3h.6M63.9 502.9h.6M66.6 509.0h.6M62.4 500.5h.6M71.6 505.6h.6M75.4 504.8h.6M81.3 501.5h.6M71.2 506.8h.6M68.8 502.2h.6M68.0 500.8h.6M64.7 501.1h.6M62.6 504.9h.6M62.4 511.6h.6M78.8 507.7h.6M69.2 501.0h.6M76.4 504.1h.6M73.1 500.5h.6M75.6 500.1h.6M70.8 496.4h.6M67.0 505.3h.6M68.0 501.5h.6M74.2 503.0h.6M76.4 493.7h.6M73.1 505.3h.6" stroke="#8ccc88" stroke-width="0.6" stroke-opacity="0.45" fill="none"/>
<ellipse cx="54.0" cy="503.8" rx="6.5" ry="5.0" fill="#2e9e32" opacity="0.92" filter="url(#bl1)"/>
<ellipse cx="70.6" cy="503.2" rx="5.0" ry="4.5" fill="#2e9e32" opacity="0.92" filter="url(#bl1)"/>
<path d="M46.9 499.3h.6M57.7 500.1h.6M50.9 505.9h.6M52.3 505.5h.6M49.9 504.9h.6M58.6 504.9h.6M43.9 506.1h.6M54.0 500.7h.6M60.0 497.7h.6M62.2 501.6h.6M60.8 503.7h.6M47.8 504.1h.6M55.2 505.7h.6M58.5 500.7h.6M56.0 506.4h.6M52.5 500.5h.6M49.5 506.4h.6M57.3 500.9h.6M47.8 508.1h.6M46.8 504.4h.6M50.1 497.7h.6M54.3 503.1h.6M60.2 511.7h.6M52.9 507.4h.6M58.4 502.0h.6M49.9 509.4h.6M52.1 503.7h.6M52.4 503.3h.6M51.0 506.4h.6M59.4 502.5h.6M47.6 504.0h.6M47.1 501.6h.6M59.3 511.9h.6M55.4 500.1h.6M57.2 496.0h.6M50.6 509.1h.6M57.1 499.0h.6M46.3 506.8h.6M53.5 501.7h.6M55.6 501.8h.6M45.1 506.6h.6M50.8 500.3h.6M47.8 504.7h.6M50.1 506.0h.6M52.6 507.6h.6M52.0 501.5h.6M44.9 500.0h.6M57.0 514.4h.6M48.1 500.2h.6M55.3 505.5h.6M50.7 504.1h.6M46.6 502.8h.6M57.8 509.5h.6M53.0 502.9h.6M55.8 507.7h.6M55.9 501.2h.6M55.3 507.2h.6M50.6 499.2h.6M56.0 505.1h.6M58.1 504.1h.6M50.9 502.3h.6M49.2 500.5h.6M51.2 502.1h.6M58.8 499.5h.6M53.6 501.8h.6M60.4 504.7h.6M52.1 506.7h.6M54.1 502.2h.6M60.6 506.3h.6M61.5 507.9h.6M57.3 504.3h.6M48.9 506.3h.6M54.1 506.2h.6M53.8 501.4h.6M49.3 506.3h.6M59.6 502.8h.6M55.8 508.7h.6M50.1 502.7h.6M48.8 507.9h.6M55.0 502.2h.6M46.4 503.2h.6M58.3 502.8h.6M51.9 506.1h.6M48.3 504.0h.6M56.5 501.1h.6M50.1 504.7h.6M53.4 503.0h.6M54.8 504.6h.6M49.7 501.5h.6M55.8 507.8h.6M59.9 500.9h.6M58.7 506.5h.6M53.7 505.6h.6M57.5 510.1h.6M49.1 506.0h.6M53.2 503.2h.6M59.0 506.7h.6M49.3 502.9h.6M54.9 499.0h.6M57.7 503.6h.6M54.6 505.1h.6M61.9 504.0h.6M52.3 509.9h.6M51.6 502.1h.6M47.7 507.6h.6M55.1 505.5h.6M54.6 503.4h.6M50.4 501.2h.6M55.8 504.3h.6M61.1 501.3h.6M51.7 500.4h.6M60.0 499.6h.6M57.3 508.9h.6M53.2 506.4h.6M44.4 502.6h.6M46.5 504.5h.6M53.9 501.2h.6M58.1 505.1h.6M51.6 502.1h.6M47.3 503.3h.6M63.3 501.4h.6M55.8 502.0h.6M57.5 505.4h.6M52.8 497.7h.6M51.6 508.1h.6M52.8 506.1h.6M51.7 497.5h.6M55.8 505.0h.6M51.3 502.6h.6M55.2 501.9h.6M55.4 503.2h.6M43.4 503.4h.6M51.2 501.0h.6M55.7 502.2h.6M56.3 507.7h.6M54.5 498.6h.6M50.6 507.1h.6M52.7 501.1h.6M53.5 505.7h.6M55.1 506.2h.6M50.2 503.0h.6M52.8 503.9h.6M44.6 503.1h.6M47.9 508.7h.6M60.8 509.7h.6M57.5 502.3h.6M58.2 503.2h.6M56.6 500.8h.6M51.3 505.5h.6M61.8 503.8h.6M63.9 513.5h.6M48.2 503.8h.6M49.7 503.5h.6M51.5 503.7h.6M58.2 507.2h.6M55.1 504.0h.6M54.5 504.4h.6M56.5 504.0h.6M56.2 499.4h.6M57.5 510.0h.6M54.7 499.1h.6M59.9 502.8h.6M40.6 503.2h.6M56.6 505.3h.6M59.5 506.1h.6M54.5 497.1h.6M49.0 504.6h.6M57.0 500.4h.6M51.2 505.6h.6M45.4 497.2h.6M52.9 504.8h.6M51.8 496.0h.6M54.0 499.4h.6M56.9 503.6h.6M55.1 506.2h.6M51.6 506.8h.6M59.5 505.3h.6M59.9 501.8h.6M58.0 504.9h.6M49.6 503.7h.6M51.6 502.0h.6M54.3 507.6h.6M52.5 504.4h.6M47.4 504.3h.6M59.1 506.8h.6M56.1 502.1h.6M49.6 503.6h.6M48.0 499.7h.6M58.1 500.8h.6M62.0 499.0h.6M55.9 499.9h.6M54.7 500.4h.6M54.1 503.4h.6M51.9 505.7h.6M60.7 501.9h.6M57.9 504.3h.6M53.8 511.6h.6M44.3 501.6h.6M45.9 502.9h.6M52.9 517.2h.6" stroke="#26962a" stroke-width="0.6" stroke-opacity="0.5" fill="none"/>
<path d="M71.8 508.5h.6M75.1 501.9h.6M72.2 508.1h.6M71.2 503.8h.6M72.3 498.7h.6M67.7 504.2h.6M72.5 500.4h.6M69.4 502.8h.6M70.0 505.2h.6M70.9 503.7h.6M65.6 500.0h.6M71.7 498.4h.6M71.5 501.2h.6M67.7 505.1h.6M68.2 500.6h.6M68.2 503.3h.6M80.1 496.8h.6M70.5 502.4h.6M73.8 502.0h.6M62.0 507.1h.6M66.7 503.0h.6M65.8 499.9h.6M68.8 505.7h.6M73.5 501.4h.6M72.3 502.0h.6M70.9 503.6h.6M72.7 501.3h.6M70.1 503.8h.6M70.8 500.7h.6M76.5 501.7h.6M73.1 503.7h.6M74.8 496.6h.6M77.6 502.5h.6M66.2 503.5h.6M78.4 504.6h.6M66.2 501.7h.6M75.1 498.9h.6M69.9 502.2h.6M78.0 502.2h.6M75.1 501.1h.6M67.7 506.1h.6M72.7 498.0h.6M72.7 505.0h.6M68.4 503.8h.6M71.4 501.7h.6M68.5 501.1h.6M69.5 499.1h.6M70.3 498.7h.6M70.7 502.9h.6M66.9 505.6h.6M77.2 507.0h.6M65.7 506.9h.6M71.2 502.9h.6M68.4 503.1h.6M75.3 504.7h.6M69.0 501.1h.6M69.0 504.8h.6M77.0 499.9h.6M70.5 502.0h.6M67.9 504.3h.6M72.4 498.9h.6M66.9 506.7h.6M71.6 504.6h.6M68.7 502.0h.6M72.1 501.6h.6M66.6 503.1h.6M73.6 500.0h.6M74.1 505.2h.6M67.5 503.1h.6M70.3 505.0h.6M72.8 499.2h.6M65.8 506.2h.6M70.9 504.3h.6M71.6 507.6h.6M66.3 506.3h.6M67.6 505.3h.6M75.1 499.0h.6M71.9 502.3h.6M69.5 503.2h.6M66.8 500.2h.6M72.8 505.6h.6M68.5 498.8h.6M78.5 506.4h.6M71.7 500.0h.6M68.5 503.8h.6M67.2 507.8h.6M71.0 504.3h.6M66.9 500.4h.6M67.8 503.9h.6M69.6 502.2h.6M71.6 503.8h.6M75.6 502.5h.6M67.0 503.1h.6M75.5 501.5h.6M70.6 502.0h.6M71.9 503.9h.6M67.7 502.4h.6M73.7 506.3h.6M73.7 505.6h.6M69.3 502.0h.6M73.7 499.6h.6M70.3 497.6h.6M69.2 501.0h.6M66.3 504.8h.6M68.0 502.0h.6M69.6 500.9h.6M75.4 501.6h.6M71.2 499.3h.6M68.9 502.1h.6M69.4 501.4h.6M71.0 507.7h.6M70.0 502.7h.6M69.1 510.6h.6M76.0 504.7h.6M72.9 501.0h.6M70.0 503.7h.6M70.9 500.6h.6M67.8 504.6h.6M71.6 496.9h.6M70.8 506.8h.6M68.3 503.8h.6M65.5 505.6h.6M66.7 499.4h.6M69.4 510.1h.6M68.4 499.4h.6M72.1 503.8h.6M76.2 499.4h.6M65.0 502.2h.6M71.8 504.2h.6M74.2 498.7h.6M67.7 502.7h.6M73.4 504.5h.6M69.0 500.1h.6M73.5 505.9h.6M79.8 502.6h.6M76.1 499.6h.6M68.6 501.1h.6M68.9 500.5h.6M68.6 503.0h.6M69.0 505.1h.6M70.2 503.1h.6M75.6 504.0h.6M71.0 503.1h.6M70.7 504.8h.6M67.7 506.5h.6M75.9 506.5h.6M68.8 498.4h.6M69.0 503.6h.6M73.3 502.6h.6M69.5 507.6h.6" stroke="#26962a" stroke-width="0.6" stroke-opacity="0.5" fill="none"/>
<rect x="31.7" y="449.3" width="73.8" height="72.99999999999994" fill="none" stroke="#999" stroke-width="0.7"/>
<line x1="29.90" y1="450.30" x2="31.70" y2="450.30" stroke="#888" stroke-width="0.5"/>
<line x1="29.90" y1="465.00" x2="31.70" y2="465.00" stroke="#888" stroke-width="0.5"/>
<line x1="29.90" y1="479.80" x2="31.70" y2="479.80" stroke="#888" stroke-width="0.5"/>
<line x1="29.90" y1="494.30" x2="31.70" y2="494.30" stroke="#888" stroke-width="0.5"/>
<line x1="29.90" y1="509.00" x2="31.70" y2="509.00" stroke="#888" stroke-width="0.5"/>
<line x1="41.20" y1="522.30" x2="41.20" y2="524.10" stroke="#888" stroke-width="0.5"/>
<line x1="53.60" y1="522.30" x2="53.60" y2="524.10" stroke="#888" stroke-width="0.5"/>
<line x1="66.10" y1="522.30" x2="66.10" y2="524.10" stroke="#888" stroke-width="0.5"/>
<line x1="77.90" y1="522.30" x2="77.90" y2="524.10" stroke="#888" stroke-width="0.5"/>
<line x1="91.10" y1="522.30" x2="91.10" y2="524.10" stroke="#888" stroke-width="0.5"/>
<line x1="104.20" y1="522.30" x2="104.20" y2="524.10" stroke="#888" stroke-width="0.5"/>
<line x1="64.40" y1="449.30" x2="64.40" y2="522.30" stroke="#555" stroke-width="0.7"/>
<line x1="31.70" y1="493.60" x2="105.50" y2="493.60" stroke="#555" stroke-width="0.7"/>
<text x="22.80" y="452.52" font-size="7.0" text-anchor="middle" textLength="6.6" lengthAdjust="spacingAndGlyphs" fill="#262626" stroke="#262626" stroke-width="0.1">10</text>
<text x="26.40" y="448.82" font-size="4.4" textLength="2.1" lengthAdjust="spacingAndGlyphs" fill="#262626" stroke="#262626" stroke-width="0.1">6</text>
<text x="22.80" y="467.22" font-size="7.0" text-anchor="middle" textLength="6.6" lengthAdjust="spacingAndGlyphs" fill="#262626" stroke="#262626" stroke-width="0.1">10</text>
<text x="26.40" y="463.52" font-size="4.4" textLength="2.1" lengthAdjust="spacingAndGlyphs" fill="#262626" stroke="#262626" stroke-width="0.1">5</text>
<text x="22.80" y="482.02" font-size="7.0" text-anchor="middle" textLength="6.6" lengthAdjust="spacingAndGlyphs" fill="#262626" stroke="#262626" stroke-width="0.1">10</text>
<text x="26.40" y="478.32" font-size="4.4" textLength="2.1" lengthAdjust="spacingAndGlyphs" fill="#262626" stroke="#262626" stroke-width="0.1">4</text>
<text x="22.80" y="496.52" font-size="7.0" text-anchor="middle" textLength="6.6" lengthAdjust="spacingAndGlyphs" fill="#262626" stroke="#262626" stroke-width="0.1">10</text>
<text x="26.40" y="492.82" font-size="4.4" textLength="2.1" lengthAdjust="spacingAndGlyphs" fill="#262626" stroke="#262626" stroke-width="0.1">3</text>
<text x="22.80" y="511.22" font-size="7.0" text-anchor="middle" textLength="6.6" lengthAdjust="spacingAndGlyphs" fill="#262626" stroke="#262626" stroke-width="0.1">10</text>
<text x="26.40" y="507.52" font-size="4.4" textLength="2.1" lengthAdjust="spacingAndGlyphs" fill="#262626" stroke="#262626" stroke-width="0.1">2</text>
<text x="41.20" y="533.82" font-size="7.0" text-anchor="middle" textLength="6.6" lengthAdjust="spacingAndGlyphs" fill="#262626" stroke="#262626" stroke-width="0.1">10</text>
<text x="44.80" y="530.12" font-size="4.4" textLength="2.1" lengthAdjust="spacingAndGlyphs" fill="#262626" stroke="#262626" stroke-width="0.1">1</text>
<text x="53.60" y="533.82" font-size="7.0" text-anchor="middle" textLength="6.6" lengthAdjust="spacingAndGlyphs" fill="#262626" stroke="#262626" stroke-width="0.1">10</text>
<text x="57.20" y="530.12" font-size="4.4" textLength="2.1" lengthAdjust="spacingAndGlyphs" fill="#262626" stroke="#262626" stroke-width="0.1">2</text>
<text x="66.10" y="533.82" font-size="7.0" text-anchor="middle" textLength="6.6" lengthAdjust="spacingAndGlyphs" fill="#262626" stroke="#262626" stroke-width="0.1">10</text>
<text x="69.70" y="530.12" font-size="4.4" textLength="2.1" lengthAdjust="spacingAndGlyphs" fill="#262626" stroke="#262626" stroke-width="0.1">3</text>
<text x="77.90" y="533.82" font-size="7.0" text-anchor="middle" textLength="6.6" lengthAdjust="spacingAndGlyphs" fill="#262626" stroke="#262626" stroke-width="0.1">10</text>
<text x="81.50" y="530.12" font-size="4.4" textLength="2.1" lengthAdjust="spacingAndGlyphs" fill="#262626" stroke="#262626" stroke-width="0.1">4</text>
<text x="91.10" y="533.82" font-size="7.0" text-anchor="middle" textLength="6.6" lengthAdjust="spacingAndGlyphs" fill="#262626" stroke="#262626" stroke-width="0.1">10</text>
<text x="94.70" y="530.12" font-size="4.4" textLength="2.1" lengthAdjust="spacingAndGlyphs" fill="#262626" stroke="#262626" stroke-width="0.1">5</text>
<text x="104.20" y="533.82" font-size="7.0" text-anchor="middle" textLength="6.6" lengthAdjust="spacingAndGlyphs" fill="#262626" stroke="#262626" stroke-width="0.1">10</text>
<text x="107.80" y="530.12" font-size="4.4" textLength="2.1" lengthAdjust="spacingAndGlyphs" fill="#262626" stroke="#262626" stroke-width="0.1">6</text>
<text x="90.40" y="519.60" font-size="6.9" text-anchor="middle" textLength="18.5" lengthAdjust="spacingAndGlyphs" fill="#262626" stroke="#262626" stroke-width="0.1">32.1%</text>
<text x="70.70" y="545.50" font-size="9.0" text-anchor="middle" textLength="13" lengthAdjust="spacingAndGlyphs" fill="#262626" stroke="#262626" stroke-width="0.1">CD3</text>
<text x="0.00" y="0.00" font-size="9.0" text-anchor="middle" textLength="11.5" lengthAdjust="spacingAndGlyphs" fill="#262626" stroke="#262626" stroke-width="0.1" transform="translate(16.0,486.6) rotate(-90)">GFP</text>
<path d="M157.5 489.5h.6M169.9 483.7h.6M164.9 485.6h.6M155.3 482.4h.6M150.5 487.9h.6M159.7 487.6h.6M154.4 486.1h.6M160.6 483.1h.6M149.7 488.0h.6M163.9 484.6h.6M162.0 488.5h.6M177.1 484.8h.6M167.6 492.1h.6M163.3 490.5h.6M142.5 490.5h.6M162.7 482.3h.6M168.9 489.5h.6M172.2 489.9h.6M162.5 485.1h.6M159.2 486.8h.6M165.9 485.7h.6M163.1 489.1h.6M165.3 492.6h.6M179.7 484.1h.6M158.3 483.7h.6M153.6 488.3h.6M155.0 484.4h.6M160.6 488.9h.6M160.0 486.1h.6M170.0 488.1h.6M166.3 489.3h.6M154.8 487.5h.6M157.8 489.4h.6M169.2 484.4h.6M173.3 484.1h.6M172.0 487.4h.6M155.9 484.2h.6M160.4 486.9h.6M157.2 488.3h.6M151.7 486.9h.6M162.8 482.3h.6M165.2 483.8h.6M143.1 485.4h.6M161.0 489.2h.6M158.9 490.6h.6M174.1 489.6h.6M173.2 487.8h.6M158.4 488.5h.6M170.4 487.5h.6M160.8 483.1h.6M168.1 487.8h.6M152.5 487.2h.6M168.5 486.7h.6M168.9 488.8h.6M151.1 486.2h.6M166.6 489.2h.6M173.9 482.2h.6M162.2 488.7h.6M172.4 491.1h.6M155.4 486.0h.6M154.4 488.9h.6M152.3 489.8h.6M170.2 488.1h.6M145.6 485.3h.6M168.7 483.4h.6M160.9 486.7h.6M169.8 487.6h.6M164.9 485.8h.6M162.8 486.6h.6M168.5 486.5h.6M170.9 482.7h.6M172.2 486.5h.6M171.7 487.1h.6M169.5 490.6h.6M158.4 487.1h.6M161.4 487.4h.6M149.9 486.5h.6M160.8 485.0h.6M161.2 483.1h.6M173.8 488.0h.6M177.6 484.8h.6M153.5 487.6h.6M149.6 487.5h.6M157.2 486.1h.6M164.7 487.0h.6M177.4 488.5h.6M152.5 489.3h.6M152.1 487.1h.6M152.9 484.9h.6M173.1 485.5h.6M157.6 485.5h.6M160.2 490.5h.6M153.4 483.9h.6M167.3 483.0h.6M159.8 489.7h.6M162.7 485.7h.6M157.1 484.6h.6M158.0 487.2h.6M172.5 489.3h.6M158.2 485.1h.6M168.2 482.4h.6M159.2 486.1h.6M153.9 484.4h.6M165.4 482.8h.6M155.4 485.3h.6M163.2 483.5h.6M171.2 486.1h.6M160.5 486.0h.6M157.2 484.4h.6M171.6 487.4h.6M161.7 489.3h.6M156.9 488.4h.6M162.7 484.6h.6M168.5 483.2h.6M167.6 484.7h.6M165.7 490.2h.6M166.9 485.3h.6M162.2 485.9h.6M153.2 484.1h.6M162.8 488.1h.6M148.5 486.6h.6M166.4 487.1h.6M154.5 489.3h.6M152.8 488.4h.6M174.9 481.8h.6M164.4 487.6h.6M164.1 484.9h.6M159.9 483.3h.6M163.3 488.1h.6M157.1 484.5h.6M158.6 486.8h.6M162.8 486.5h.6M162.8 483.6h.6M140.8 488.3h.6M173.4 483.3h.6M157.0 487.5h.6M169.7 488.4h.6M172.3 486.6h.6M165.5 487.8h.6M158.8 489.7h.6M167.1 489.2h.6M159.2 489.3h.6M154.0 487.7h.6M141.7 484.3h.6M168.0 485.7h.6M163.6 482.8h.6M174.3 488.2h.6M162.0 487.8h.6M164.8 490.2h.6M163.9 483.1h.6M160.2 489.9h.6M166.7 485.7h.6M167.0 487.0h.6M167.0 482.9h.6M155.2 488.4h.6M160.5 487.6h.6M177.5 486.0h.6M164.1 485.4h.6M157.3 486.6h.6M150.8 481.6h.6M172.9 486.5h.6M171.0 487.0h.6M163.4 488.4h.6M167.8 483.8h.6M171.6 484.4h.6M163.8 493.0h.6M162.8 490.8h.6M159.5 488.3h.6M162.6 487.8h.6M155.5 484.5h.6M164.8 482.9h.6M155.6 488.3h.6M157.4 484.6h.6M153.6 487.1h.6M159.4 487.1h.6M160.7 491.3h.6M158.8 482.0h.6M163.1 486.8h.6M163.4 482.8h.6M171.1 486.7h.6M161.9 482.9h.6M165.9 486.6h.6M172.8 485.7h.6M152.6 487.1h.6M155.1 487.8h.6M153.8 486.4h.6M160.5 486.7h.6M158.2 484.8h.6M161.8 485.3h.6M163.4 486.1h.6M144.7 486.6h.6M173.0 487.5h.6M166.9 487.9h.6M158.6 483.5h.6M168.5 489.3h.6M166.6 487.8h.6M165.3 486.7h.6M164.3 486.8h.6M164.7 484.5h.6M157.3 488.1h.6M159.6 480.9h.6M163.2 481.2h.6M177.0 488.5h.6M167.4 485.2h.6M153.5 486.2h.6M162.4 484.9h.6M163.5 488.4h.6M166.9 484.3h.6M145.6 486.8h.6M157.2 487.8h.6M174.9 490.7h.6M164.5 489.4h.6M174.9 486.9h.6M164.4 488.8h.6M162.0 485.6h.6M156.5 486.8h.6M157.5 488.7h.6M159.8 490.3h.6M171.6 483.8h.6M170.6 485.8h.6M172.8 488.0h.6M162.0 488.4h.6M158.1 487.6h.6M165.3 486.5h.6M165.3 484.4h.6M166.7 483.9h.6M167.2 487.9h.6M167.8 485.5h.6M185.6 486.3h.6M163.6 485.0h.6M173.4 485.7h.6M170.0 484.6h.6M164.9 486.0h.6M169.6 486.2h.6M156.0 487.9h.6M153.5 484.6h.6M168.4 482.4h.6M168.3 485.9h.6M155.6 487.4h.6M167.4 485.5h.6M161.3 488.8h.6M168.3 486.8h.6M156.8 484.6h.6M158.1 488.5h.6M167.0 487.6h.6M173.2 486.2h.6M159.8 486.0h.6M177.1 482.0h.6M164.9 488.0h.6M163.2 492.4h.6" stroke="#fad060" stroke-width="0.6" stroke-opacity="0.45" fill="none"/>
<ellipse cx="169.5" cy="486.6" rx="7.5" ry="3.6" fill="#f8b800" opacity="0.92" filter="url(#bl1)"/>
<ellipse cx="158" cy="487" rx="6" ry="2.2" fill="#fad060" opacity="0.7" filter="url(#bl1)"/>
<path d="M175.9 488.7h.6M164.2 487.9h.6M167.2 486.6h.6M170.5 485.2h.6M172.9 491.1h.6M175.2 487.1h.6M158.4 489.6h.6M175.5 486.0h.6M166.7 488.4h.6M164.8 488.8h.6M163.3 484.0h.6M169.5 482.4h.6M169.4 488.1h.6M162.0 489.2h.6M166.3 488.1h.6M170.6 485.3h.6M166.5 481.8h.6M165.5 484.4h.6M178.7 489.4h.6M161.7 488.8h.6M170.7 485.5h.6M172.1 488.8h.6M166.3 485.8h.6M170.4 483.8h.6M170.5 486.4h.6M165.6 484.2h.6M171.2 489.0h.6M171.3 484.2h.6M173.7 487.1h.6M172.8 489.9h.6M164.4 486.2h.6M166.1 484.1h.6M180.7 489.2h.6M159.6 487.8h.6M166.4 489.8h.6M170.0 486.1h.6M170.3 487.7h.6M169.7 486.0h.6M168.7 488.0h.6M163.2 486.6h.6M168.8 485.2h.6M173.6 483.0h.6M167.4 484.2h.6M172.5 485.3h.6M169.8 487.7h.6M160.5 487.9h.6M165.3 485.9h.6M168.9 488.9h.6M173.6 491.5h.6M170.5 485.3h.6M166.7 488.4h.6M178.5 487.6h.6M166.3 487.4h.6M170.9 486.7h.6M165.3 479.5h.6M166.5 489.5h.6M170.7 480.4h.6M169.5 481.4h.6M180.6 487.1h.6M162.8 488.8h.6M165.1 488.2h.6M169.6 483.3h.6M173.2 482.8h.6M177.0 486.8h.6M163.7 481.5h.6M178.6 490.7h.6M162.5 491.2h.6M170.4 486.0h.6M169.0 485.8h.6M177.5 487.0h.6M159.2 492.5h.6M174.4 483.5h.6M167.5 484.1h.6M169.8 487.7h.6M170.8 484.9h.6M165.0 489.0h.6M168.9 492.9h.6M165.0 488.8h.6M169.8 484.5h.6M177.1 486.9h.6M164.5 485.7h.6M175.2 483.2h.6M177.2 488.5h.6M167.9 490.4h.6M179.3 488.3h.6M170.5 491.8h.6M177.9 484.0h.6M168.3 486.0h.6M167.2 482.4h.6M174.6 486.8h.6M170.1 490.6h.6M166.3 486.4h.6M171.0 485.4h.6M168.9 488.8h.6M169.5 490.3h.6M165.3 487.2h.6M161.5 486.3h.6M165.5 490.4h.6M173.7 488.0h.6M179.9 490.7h.6M173.6 484.7h.6M161.3 486.5h.6M167.5 484.8h.6M167.9 481.9h.6M177.9 483.4h.6M165.7 488.2h.6M160.3 489.2h.6M174.8 485.7h.6M163.4 485.3h.6M159.0 490.5h.6M169.8 484.5h.6M164.4 488.2h.6M178.0 483.0h.6M166.2 481.6h.6M173.3 487.0h.6M182.3 486.3h.6M167.0 484.6h.6M174.3 482.0h.6M173.8 487.3h.6M166.6 484.0h.6M175.5 491.9h.6M167.0 488.1h.6M179.4 484.8h.6M168.1 483.1h.6M168.7 486.4h.6M167.1 484.5h.6M160.5 482.8h.6M163.9 488.4h.6M166.6 484.2h.6M173.2 488.2h.6M165.2 484.8h.6M173.3 487.6h.6M164.7 487.3h.6M169.3 489.8h.6M164.5 489.1h.6M172.0 483.7h.6M175.5 489.2h.6M162.0 492.3h.6M162.9 484.0h.6M167.7 488.8h.6M172.8 486.3h.6M177.3 487.8h.6M177.5 494.7h.6M170.6 479.2h.6M166.9 483.5h.6M170.0 486.9h.6M162.4 483.3h.6M168.0 486.0h.6M154.5 489.4h.6M169.7 486.6h.6M171.2 483.6h.6M169.2 489.6h.6M175.7 487.9h.6M167.9 484.2h.6M177.2 488.1h.6M167.0 480.3h.6M164.4 481.0h.6M176.8 487.1h.6M165.2 485.8h.6M184.7 490.1h.6M161.6 486.2h.6M162.3 481.6h.6M170.5 493.7h.6M178.7 486.7h.6M167.3 487.2h.6M175.6 482.3h.6M158.5 492.1h.6M171.1 491.3h.6M170.9 491.0h.6M165.9 488.1h.6M178.7 489.6h.6M166.8 489.2h.6M165.6 482.4h.6M172.6 490.7h.6M174.5 482.9h.6M174.7 488.6h.6M166.8 479.2h.6M175.5 489.2h.6M172.5 481.5h.6M160.6 489.6h.6M174.3 488.1h.6M168.0 487.8h.6M166.3 485.7h.6M164.3 487.4h.6M167.0 489.4h.6M173.8 484.2h.6M180.5 483.3h.6M172.2 489.8h.6M177.2 480.0h.6M175.5 490.2h.6M178.1 479.9h.6M165.5 486.3h.6M166.8 490.6h.6M165.4 490.3h.6M172.9 482.2h.6M163.6 485.2h.6M170.1 489.6h.6M168.4 489.3h.6M160.1 477.5h.6M167.5 488.0h.6" stroke="#f5b000" stroke-width="0.6" stroke-opacity="0.5" fill="none"/>
<path d="M169.6 494.0h.6M171.6 505.7h.6M170.2 495.1h.6M168.4 505.9h.6M170.4 500.4h.6M173.6 502.3h.6M168.2 501.8h.6M172.6 500.0h.6M173.0 495.8h.6M170.3 495.9h.6M172.4 495.4h.6M171.5 493.6h.6M170.2 496.6h.6M170.2 498.5h.6M170.0 497.1h.6M165.3 502.4h.6M168.9 497.0h.6M168.4 502.0h.6M168.2 500.0h.6M173.4 504.6h.6M173.5 500.5h.6M167.5 503.2h.6M173.5 501.4h.6M172.5 498.3h.6M169.2 502.3h.6M173.7 493.9h.6M172.8 499.0h.6M172.7 499.1h.6M173.3 502.1h.6M172.7 492.5h.6M172.6 498.2h.6M167.7 500.9h.6M167.1 501.6h.6M174.8 496.1h.6M172.8 499.9h.6M172.2 492.7h.6M172.1 498.6h.6M172.4 498.1h.6M173.3 499.2h.6M172.2 503.5h.6M171.0 502.0h.6M171.1 500.2h.6M169.3 501.2h.6M173.6 497.8h.6M172.5 499.8h.6M167.8 499.5h.6M173.8 496.2h.6M166.2 498.9h.6M169.0 505.6h.6M170.5 498.1h.6M169.0 499.1h.6M169.2 494.6h.6M170.4 494.9h.6M173.8 493.5h.6M170.4 495.4h.6M167.2 504.7h.6M165.4 503.9h.6M167.1 498.5h.6M176.1 489.8h.6M167.2 503.3h.6M171.0 496.0h.6M170.5 494.4h.6M170.9 504.0h.6M169.7 498.7h.6M173.5 505.9h.6M169.1 499.3h.6M169.2 495.6h.6M169.6 495.7h.6M166.3 490.3h.6M168.8 498.7h.6M173.6 496.1h.6M170.2 500.7h.6M172.4 497.7h.6M170.5 505.5h.6M169.8 496.2h.6M166.6 499.8h.6M169.9 505.6h.6M169.8 501.3h.6M172.9 504.6h.6M167.4 504.3h.6M170.6 497.7h.6M169.8 496.6h.6M169.7 489.0h.6M171.8 498.4h.6M168.3 497.9h.6M176.2 499.6h.6M169.6 504.8h.6M168.6 497.5h.6M169.2 497.2h.6M172.4 500.4h.6M168.8 497.6h.6M170.8 496.5h.6M170.5 495.3h.6M168.8 498.3h.6M168.1 499.8h.6M170.1 494.5h.6M169.1 496.3h.6M170.2 498.6h.6M170.1 494.7h.6M174.1 501.6h.6M170.8 501.8h.6M171.4 497.1h.6M170.8 508.5h.6M173.0 502.2h.6M169.6 500.5h.6M176.1 499.8h.6M173.2 503.0h.6M172.1 504.2h.6M171.1 500.0h.6M169.1 508.4h.6M171.3 498.5h.6M173.9 496.2h.6M170.6 495.1h.6M170.6 496.6h.6M171.9 497.6h.6M169.1 497.0h.6M170.3 496.1h.6M172.8 500.7h.6M170.9 493.5h.6M171.8 493.2h.6" stroke="#f8c850" stroke-width="0.6" stroke-opacity="0.5" fill="none"/>
<path d="M171.0 481.2h.6M169.1 478.7h.6M168.9 487.0h.6M169.9 480.5h.6M172.9 482.3h.6M173.1 477.5h.6M167.9 490.7h.6M170.5 480.2h.6M171.0 484.0h.6M167.7 481.9h.6M170.5 483.0h.6M171.0 479.5h.6M168.5 474.0h.6M172.9 476.8h.6M169.6 485.9h.6M169.6 482.8h.6M170.1 483.1h.6M170.6 479.6h.6M173.8 480.3h.6M167.3 480.1h.6M171.9 477.9h.6M172.5 483.3h.6M175.7 479.2h.6M172.2 476.3h.6M169.6 481.4h.6M171.5 480.9h.6M170.3 479.3h.6M169.5 482.0h.6M171.9 482.9h.6M173.0 484.5h.6M166.2 479.6h.6M170.2 479.2h.6M173.1 483.2h.6M170.3 481.4h.6M173.6 480.1h.6M169.8 483.7h.6M171.7 485.2h.6M171.5 483.2h.6M169.3 478.4h.6M170.5 473.4h.6M171.5 483.9h.6M170.7 480.4h.6M173.2 481.0h.6M172.9 487.4h.6M172.3 483.8h.6M171.7 481.8h.6M171.2 481.3h.6M173.2 476.4h.6M169.9 483.0h.6M168.5 480.8h.6M168.9 482.3h.6M172.6 485.3h.6M171.8 479.0h.6M171.2 482.7h.6M173.9 474.9h.6M171.5 475.8h.6M172.3 482.4h.6M171.8 483.6h.6M171.5 479.2h.6M171.4 484.5h.6M170.3 481.2h.6M167.7 484.4h.6M169.4 479.0h.6M169.5 478.6h.6M170.0 484.7h.6M172.5 485.2h.6M174.1 478.5h.6M171.7 485.4h.6M176.0 477.0h.6M167.2 482.4h.6M169.8 478.2h.6M171.5 478.8h.6M165.1 481.0h.6M170.9 482.9h.6M172.8 481.6h.6M170.0 479.2h.6M166.6 479.8h.6M172.9 482.9h.6M175.5 480.6h.6M166.3 483.4h.6" stroke="#f8c850" stroke-width="0.6" stroke-opacity="0.45" fill="none"/>
<rect x="146.0" y="449.3" width="72.9" height="72.99999999999994" fill="none" stroke="#999" stroke-width="0.7"/>
<line x1="144.20" y1="450.30" x2="146.00" y2="450.30" stroke="#888" stroke-width="0.5"/>
<line x1="144.20" y1="465.00" x2="146.00" y2="465.00" stroke="#888" stroke-width="0.5"/>
<line x1="144.20" y1="479.80" x2="146.00" y2="479.80" stroke="#888" stroke-width="0.5"/>
<line x1="144.20" y1="494.30" x2="146.00" y2="494.30" stroke="#888" stroke-width="0.5"/>
<line x1="144.20" y1="509.00" x2="146.00" y2="509.00" stroke="#888" stroke-width="0.5"/>
<line x1="155.90" y1="522.30" x2="155.90" y2="524.10" stroke="#888" stroke-width="0.5"/>
<line x1="167.60" y1="522.30" x2="167.60" y2="524.10" stroke="#888" stroke-width="0.5"/>
<line x1="180.10" y1="522.30" x2="180.10" y2="524.10" stroke="#888" stroke-width="0.5"/>
<line x1="191.90" y1="522.30" x2="191.90" y2="524.10" stroke="#888" stroke-width="0.5"/>
<line x1="204.30" y1="522.30" x2="204.30" y2="524.10" stroke="#888" stroke-width="0.5"/>
<line x1="216.10" y1="522.30" x2="216.10" y2="524.10" stroke="#888" stroke-width="0.5"/>
<line x1="178.30" y1="449.30" x2="178.30" y2="522.30" stroke="#555" stroke-width="0.7"/>
<line x1="146.00" y1="493.60" x2="218.90" y2="493.60" stroke="#555" stroke-width="0.7"/>
<text x="136.30" y="452.52" font-size="7.0" text-anchor="middle" textLength="6.6" lengthAdjust="spacingAndGlyphs" fill="#262626" stroke="#262626" stroke-width="0.1">10</text>
<text x="139.90" y="448.82" font-size="4.4" textLength="2.1" lengthAdjust="spacingAndGlyphs" fill="#262626" stroke="#262626" stroke-width="0.1">6</text>
<text x="136.30" y="467.22" font-size="7.0" text-anchor="middle" textLength="6.6" lengthAdjust="spacingAndGlyphs" fill="#262626" stroke="#262626" stroke-width="0.1">10</text>
<text x="139.90" y="463.52" font-size="4.4" textLength="2.1" lengthAdjust="spacingAndGlyphs" fill="#262626" stroke="#262626" stroke-width="0.1">5</text>
<text x="136.30" y="482.02" font-size="7.0" text-anchor="middle" textLength="6.6" lengthAdjust="spacingAndGlyphs" fill="#262626" stroke="#262626" stroke-width="0.1">10</text>
<text x="139.90" y="478.32" font-size="4.4" textLength="2.1" lengthAdjust="spacingAndGlyphs" fill="#262626" stroke="#262626" stroke-width="0.1">4</text>
<text x="136.30" y="496.52" font-size="7.0" text-anchor="middle" textLength="6.6" lengthAdjust="spacingAndGlyphs" fill="#262626" stroke="#262626" stroke-width="0.1">10</text>
<text x="139.90" y="492.82" font-size="4.4" textLength="2.1" lengthAdjust="spacingAndGlyphs" fill="#262626" stroke="#262626" stroke-width="0.1">3</text>
<text x="136.30" y="511.22" font-size="7.0" text-anchor="middle" textLength="6.6" lengthAdjust="spacingAndGlyphs" fill="#262626" stroke="#262626" stroke-width="0.1">10</text>
<text x="139.90" y="507.52" font-size="4.4" textLength="2.1" lengthAdjust="spacingAndGlyphs" fill="#262626" stroke="#262626" stroke-width="0.1">2</text>
<text x="155.90" y="533.82" font-size="7.0" text-anchor="middle" textLength="6.6" lengthAdjust="spacingAndGlyphs" fill="#262626" stroke="#262626" stroke-width="0.1">10</text>
<text x="159.50" y="530.12" font-size="4.4" textLength="2.1" lengthAdjust="spacingAndGlyphs" fill="#262626" stroke="#262626" stroke-width="0.1">1</text>
<text x="167.60" y="533.82" font-size="7.0" text-anchor="middle" textLength="6.6" lengthAdjust="spacingAndGlyphs" fill="#262626" stroke="#262626" stroke-width="0.1">10</text>
<text x="171.20" y="530.12" font-size="4.4" textLength="2.1" lengthAdjust="spacingAndGlyphs" fill="#262626" stroke="#262626" stroke-width="0.1">2</text>
<text x="180.10" y="533.82" font-size="7.0" text-anchor="middle" textLength="6.6" lengthAdjust="spacingAndGlyphs" fill="#262626" stroke="#262626" stroke-width="0.1">10</text>
<text x="183.70" y="530.12" font-size="4.4" textLength="2.1" lengthAdjust="spacingAndGlyphs" fill="#262626" stroke="#262626" stroke-width="0.1">3</text>
<text x="191.90" y="533.82" font-size="7.0" text-anchor="middle" textLength="6.6" lengthAdjust="spacingAndGlyphs" fill="#262626" stroke="#262626" stroke-width="0.1">10</text>
<text x="195.50" y="530.12" font-size="4.4" textLength="2.1" lengthAdjust="spacingAndGlyphs" fill="#262626" stroke="#262626" stroke-width="0.1">4</text>
<text x="204.30" y="533.82" font-size="7.0" text-anchor="middle" textLength="6.6" lengthAdjust="spacingAndGlyphs" fill="#262626" stroke="#262626" stroke-width="0.1">10</text>
<text x="207.90" y="530.12" font-size="4.4" textLength="2.1" lengthAdjust="spacingAndGlyphs" fill="#262626" stroke="#262626" stroke-width="0.1">5</text>
<text x="216.10" y="533.82" font-size="7.0" text-anchor="middle" textLength="6.6" lengthAdjust="spacingAndGlyphs" fill="#262626" stroke="#262626" stroke-width="0.1">10</text>
<text x="219.70" y="530.12" font-size="4.4" textLength="2.1" lengthAdjust="spacingAndGlyphs" fill="#262626" stroke="#262626" stroke-width="0.1">6</text>
<text x="207.00" y="519.60" font-size="6.9" text-anchor="middle" textLength="18.5" lengthAdjust="spacingAndGlyphs" fill="#262626" stroke="#262626" stroke-width="0.1">0.10%</text>
<text x="181.90" y="545.50" font-size="9.0" text-anchor="middle" textLength="13" lengthAdjust="spacingAndGlyphs" fill="#262626" stroke="#262626" stroke-width="0.1">CD3</text>
<text x="0.00" y="0.00" font-size="9.0" text-anchor="middle" textLength="11.5" lengthAdjust="spacingAndGlyphs" fill="#262626" stroke="#262626" stroke-width="0.1" transform="translate(128.6,488.8) rotate(-90)">GFP</text>
<text x="291.40" y="316.10" font-size="9.0" text-anchor="middle" textLength="16.5" lengthAdjust="spacingAndGlyphs" fill="#262626" stroke="#262626" stroke-width="0.1">CD3</text>
<line x1="257.90" y1="321.80" x2="257.90" y2="401.00" stroke="#262626" stroke-width="1.1"/>
<line x1="257.40" y1="400.60" x2="324.00" y2="400.60" stroke="#262626" stroke-width="1.1"/>
<line x1="254.90" y1="323.80" x2="257.90" y2="323.80" stroke="#262626" stroke-width="1"/>
<text x="252.40" y="325.90" font-size="6.8" text-anchor="end" textLength="7.0" lengthAdjust="spacingAndGlyphs" fill="#262626" stroke="#262626" stroke-width="0.1">60</text>
<line x1="254.90" y1="349.40" x2="257.90" y2="349.40" stroke="#262626" stroke-width="1"/>
<text x="252.40" y="351.50" font-size="6.8" text-anchor="end" textLength="7.0" lengthAdjust="spacingAndGlyphs" fill="#262626" stroke="#262626" stroke-width="0.1">40</text>
<line x1="254.90" y1="375.00" x2="257.90" y2="375.00" stroke="#262626" stroke-width="1"/>
<text x="252.40" y="377.10" font-size="6.8" text-anchor="end" textLength="7.0" lengthAdjust="spacingAndGlyphs" fill="#262626" stroke="#262626" stroke-width="0.1">20</text>
<line x1="254.90" y1="400.60" x2="257.90" y2="400.60" stroke="#262626" stroke-width="1"/>
<text x="252.40" y="402.70" font-size="6.8" text-anchor="end" textLength="3.5" lengthAdjust="spacingAndGlyphs" fill="#262626" stroke="#262626" stroke-width="0.1">0</text>
<line x1="277.10" y1="332.30" x2="277.10" y2="367.50" stroke="#333" stroke-width="0.6"/>
<path d="M276.70,337.40 L274.50,339.50 L271.50,342.00 L269.10,344.50 L267.90,346.50 L267.50,348.30 L268.10,350.50 L269.90,353.00 L272.30,356.00 L274.30,359.00 L275.90,362.00 L276.80,364.40 L277.40,364.40 L278.30,362.00 L279.90,359.00 L281.90,356.00 L284.30,353.00 L286.10,350.50 L286.70,348.30 L286.30,346.50 L285.10,344.50 L282.70,342.00 L279.70,339.50 L277.50,337.40 Z" fill="#38a235" stroke="#333" stroke-width="0.6" stroke-linejoin="round"/>
<circle cx="277.1" cy="343.5" r="0.6" fill="#111"/>
<circle cx="277.1" cy="349.2" r="0.6" fill="#111"/>
<circle cx="277.1" cy="356.5" r="0.6" fill="#111"/>
<line x1="305.60" y1="386.60" x2="305.60" y2="400.60" stroke="#333" stroke-width="0.6"/>
<path d="M305.20,388.90 L302.00,390.60 L298.20,392.50 L296.10,394.30 L298.00,396.20 L301.60,398.00 L305.20,399.60 L306.00,399.60 L309.60,398.00 L313.20,396.20 L315.10,394.30 L313.00,392.50 L309.20,390.60 L306.00,388.90 Z" fill="#fbbc14" stroke="#333" stroke-width="0.6" stroke-linejoin="round"/>
<line x1="305.60" y1="391.50" x2="305.60" y2="397.50" stroke="#5a4a10" stroke-width="0.6"/>
<line x1="277.10" y1="400.60" x2="277.10" y2="403.30" stroke="#262626" stroke-width="1"/>
<line x1="305.60" y1="400.60" x2="305.60" y2="403.30" stroke="#262626" stroke-width="1"/>
<text x="277.10" y="412.70" font-size="6.6" text-anchor="middle" textLength="9.8" lengthAdjust="spacingAndGlyphs" fill="#262626" stroke="#262626" stroke-width="0.1">LSL</text>
<text x="306.10" y="412.70" font-size="6.6" text-anchor="middle" textLength="20.2" lengthAdjust="spacingAndGlyphs" fill="#262626" stroke="#262626" stroke-width="0.1">G870S</text>
<text x="260.00" y="328.10" font-size="6.8" textLength="27.8" lengthAdjust="spacingAndGlyphs" fill="#262626" stroke="#262626" stroke-width="0.1">P &lt; .0001</text>
<text x="0.00" y="0.00" font-size="8.8" text-anchor="middle" textLength="22" lengthAdjust="spacingAndGlyphs" fill="#262626" stroke="#262626" stroke-width="0.1" transform="translate(239.2,360.7) rotate(-90)">% Cells</text>
<text x="291.60" y="437.40" font-size="9.0" text-anchor="middle" textLength="25.8" lengthAdjust="spacingAndGlyphs" fill="#262626" stroke="#262626" stroke-width="0.1">CD11b</text>
<line x1="258.20" y1="445.70" x2="258.20" y2="522.60" stroke="#262626" stroke-width="1.1"/>
<line x1="257.70" y1="522.20" x2="324.60" y2="522.20" stroke="#262626" stroke-width="1.1"/>
<line x1="255.20" y1="451.45" x2="258.20" y2="451.45" stroke="#262626" stroke-width="1"/>
<text x="253.20" y="453.55" font-size="6.8" text-anchor="end" textLength="10.5" lengthAdjust="spacingAndGlyphs" fill="#262626" stroke="#262626" stroke-width="0.1">100</text>
<line x1="255.20" y1="465.60" x2="258.20" y2="465.60" stroke="#262626" stroke-width="1"/>
<text x="253.20" y="467.70" font-size="6.8" text-anchor="end" textLength="7.0" lengthAdjust="spacingAndGlyphs" fill="#262626" stroke="#262626" stroke-width="0.1">80</text>
<line x1="255.20" y1="479.75" x2="258.20" y2="479.75" stroke="#262626" stroke-width="1"/>
<text x="253.20" y="481.85" font-size="6.8" text-anchor="end" textLength="7.0" lengthAdjust="spacingAndGlyphs" fill="#262626" stroke="#262626" stroke-width="0.1">60</text>
<line x1="255.20" y1="493.90" x2="258.20" y2="493.90" stroke="#262626" stroke-width="1"/>
<text x="253.20" y="496.00" font-size="6.8" text-anchor="end" textLength="7.0" lengthAdjust="spacingAndGlyphs" fill="#262626" stroke="#262626" stroke-width="0.1">40</text>
<line x1="255.20" y1="508.05" x2="258.20" y2="508.05" stroke="#262626" stroke-width="1"/>
<text x="253.20" y="510.15" font-size="6.8" text-anchor="end" textLength="7.0" lengthAdjust="spacingAndGlyphs" fill="#262626" stroke="#262626" stroke-width="0.1">20</text>
<line x1="255.20" y1="522.20" x2="258.20" y2="522.20" stroke="#262626" stroke-width="1"/>
<text x="253.20" y="524.30" font-size="6.8" text-anchor="end" textLength="3.5" lengthAdjust="spacingAndGlyphs" fill="#262626" stroke="#262626" stroke-width="0.1">0</text>
<line x1="277.50" y1="486.00" x2="277.50" y2="500.00" stroke="#333" stroke-width="0.6"/>
<path d="M276.70,493.60 L274.00,496.00 L271.00,499.00 L268.90,502.00 L268.00,504.30 L268.00,513.50 L270.50,516.00 L273.30,518.50 L276.90,521.20 L278.10,521.20 L281.70,518.50 L284.50,516.00 L287.00,513.50 L287.00,504.30 L286.10,502.00 L284.00,499.00 L281.00,496.00 L278.30,493.60 Z" fill="#38a235" stroke="#333" stroke-width="0.6" stroke-linejoin="round"/>
<circle cx="277.5" cy="502.5" r="0.6" fill="#111"/>
<circle cx="277.5" cy="506.5" r="0.6" fill="#111"/>
<circle cx="277.5" cy="515.5" r="0.6" fill="#111"/>
<line x1="305.40" y1="446.10" x2="305.40" y2="474.50" stroke="#333" stroke-width="0.6"/>
<path d="M304.60,448.40 L302.60,450.50 L300.20,453.00 L298.80,455.50 L297.40,458.00 L295.70,460.70 L296.60,462.50 L299.40,465.00 L302.20,467.50 L304.60,469.90 L306.20,469.90 L308.60,467.50 L311.40,465.00 L314.20,462.50 L315.10,460.70 L313.40,458.00 L312.00,455.50 L310.60,453.00 L308.20,450.50 L306.20,448.40 Z" fill="#fbbc14" stroke="#333" stroke-width="0.6" stroke-linejoin="round"/>
<circle cx="305.4" cy="453.5" r="0.55" fill="#333"/>
<circle cx="305.4" cy="458.5" r="0.55" fill="#333"/>
<circle cx="305.4" cy="463.5" r="0.55" fill="#333"/>
<line x1="277.50" y1="522.20" x2="277.50" y2="524.90" stroke="#262626" stroke-width="1"/>
<line x1="305.40" y1="522.20" x2="305.40" y2="524.90" stroke="#262626" stroke-width="1"/>
<text x="277.20" y="534.60" font-size="6.6" text-anchor="middle" textLength="10.6" lengthAdjust="spacingAndGlyphs" fill="#262626" stroke="#262626" stroke-width="0.1">LSL</text>
<text x="305.90" y="534.60" font-size="6.6" text-anchor="middle" textLength="20.2" lengthAdjust="spacingAndGlyphs" fill="#262626" stroke="#262626" stroke-width="0.1">G870S</text>
<text x="260.40" y="452.30" font-size="6.8" textLength="27.0" lengthAdjust="spacingAndGlyphs" fill="#262626" stroke="#262626" stroke-width="0.1">P &lt; .0001</text>
<line x1="371.20" y1="311.00" x2="371.20" y2="401.30" stroke="#262626" stroke-width="1.1"/>
<line x1="370.70" y1="400.80" x2="510.50" y2="400.80" stroke="#262626" stroke-width="1.1"/>
<line x1="368.20" y1="318.75" x2="371.20" y2="318.75" stroke="#262626" stroke-width="1"/>
<text x="365.20" y="320.85" font-size="6.8" text-anchor="end" textLength="10.5" lengthAdjust="spacingAndGlyphs" fill="#262626" stroke="#262626" stroke-width="0.1">100</text>
<line x1="368.20" y1="335.20" x2="371.20" y2="335.20" stroke="#262626" stroke-width="1"/>
<text x="365.20" y="337.30" font-size="6.8" text-anchor="end" textLength="7.0" lengthAdjust="spacingAndGlyphs" fill="#262626" stroke="#262626" stroke-width="0.1">80</text>
<line x1="368.20" y1="351.65" x2="371.20" y2="351.65" stroke="#262626" stroke-width="1"/>
<text x="365.20" y="353.75" font-size="6.8" text-anchor="end" textLength="7.0" lengthAdjust="spacingAndGlyphs" fill="#262626" stroke="#262626" stroke-width="0.1">60</text>
<line x1="368.20" y1="368.10" x2="371.20" y2="368.10" stroke="#262626" stroke-width="1"/>
<text x="365.20" y="370.20" font-size="6.8" text-anchor="end" textLength="7.0" lengthAdjust="spacingAndGlyphs" fill="#262626" stroke="#262626" stroke-width="0.1">40</text>
<line x1="368.20" y1="384.55" x2="371.20" y2="384.55" stroke="#262626" stroke-width="1"/>
<text x="365.20" y="386.65" font-size="6.8" text-anchor="end" textLength="7.0" lengthAdjust="spacingAndGlyphs" fill="#262626" stroke="#262626" stroke-width="0.1">20</text>
<line x1="368.20" y1="401.00" x2="371.20" y2="401.00" stroke="#262626" stroke-width="1"/>
<text x="365.20" y="403.10" font-size="6.8" text-anchor="end" textLength="3.5" lengthAdjust="spacingAndGlyphs" fill="#262626" stroke="#262626" stroke-width="0.1">0</text>
<line x1="371.70" y1="400.80" x2="371.70" y2="403.50" stroke="#262626" stroke-width="1"/>
<text x="371.70" y="412.60" font-size="6.8" text-anchor="middle" textLength="3.5" lengthAdjust="spacingAndGlyphs" fill="#262626" stroke="#262626" stroke-width="0.1">0</text>
<line x1="405.70" y1="400.80" x2="405.70" y2="403.50" stroke="#262626" stroke-width="1"/>
<text x="405.70" y="412.60" font-size="6.8" text-anchor="middle" textLength="7.0" lengthAdjust="spacingAndGlyphs" fill="#262626" stroke="#262626" stroke-width="0.1">50</text>
<line x1="439.70" y1="400.80" x2="439.70" y2="403.50" stroke="#262626" stroke-width="1"/>
<text x="439.70" y="412.60" font-size="6.8" text-anchor="middle" textLength="10.5" lengthAdjust="spacingAndGlyphs" fill="#262626" stroke="#262626" stroke-width="0.1">100</text>
<line x1="473.70" y1="400.80" x2="473.70" y2="403.50" stroke="#262626" stroke-width="1"/>
<text x="473.70" y="412.60" font-size="6.8" text-anchor="middle" textLength="10.5" lengthAdjust="spacingAndGlyphs" fill="#262626" stroke="#262626" stroke-width="0.1">150</text>
<line x1="507.70" y1="400.80" x2="507.70" y2="403.50" stroke="#262626" stroke-width="1"/>
<text x="507.70" y="412.60" font-size="6.8" text-anchor="middle" textLength="10.5" lengthAdjust="spacingAndGlyphs" fill="#262626" stroke="#262626" stroke-width="0.1">200</text>
<text x="441.50" y="425.50" font-size="8.8" text-anchor="middle" textLength="35.5" lengthAdjust="spacingAndGlyphs" fill="#262626" stroke="#262626" stroke-width="0.1">Time (days)</text>
<text x="0.00" y="0.00" font-size="8.8" text-anchor="middle" textLength="47.4" lengthAdjust="spacingAndGlyphs" fill="#262626" stroke="#262626" stroke-width="0.1" transform="translate(349.1,355.7) rotate(-90)">Overall survival</text>
<line x1="371.20" y1="319.00" x2="507.00" y2="319.00" stroke="#76c072" stroke-width="1.3"/>
<line x1="439.00" y1="317.60" x2="439.00" y2="319.00" stroke="#4a8a4a" stroke-width="0.5"/>
<line x1="442.00" y1="317.60" x2="442.00" y2="319.00" stroke="#4a8a4a" stroke-width="0.5"/>
<line x1="446.00" y1="317.60" x2="446.00" y2="319.00" stroke="#4a8a4a" stroke-width="0.5"/>
<line x1="451.00" y1="317.60" x2="451.00" y2="319.00" stroke="#4a8a4a" stroke-width="0.5"/>
<line x1="455.00" y1="317.60" x2="455.00" y2="319.00" stroke="#4a8a4a" stroke-width="0.5"/>
<line x1="459.00" y1="317.60" x2="459.00" y2="319.00" stroke="#4a8a4a" stroke-width="0.5"/>
<line x1="463.50" y1="317.60" x2="463.50" y2="319.00" stroke="#4a8a4a" stroke-width="0.5"/>
<line x1="468.40" y1="317.60" x2="468.40" y2="319.00" stroke="#4a8a4a" stroke-width="0.5"/>
<line x1="471.70" y1="317.60" x2="471.70" y2="319.00" stroke="#4a8a4a" stroke-width="0.5"/>
<line x1="477.40" y1="317.60" x2="477.40" y2="319.00" stroke="#4a8a4a" stroke-width="0.5"/>
<line x1="491.30" y1="317.60" x2="491.30" y2="319.00" stroke="#4a8a4a" stroke-width="0.5"/>
<line x1="506.00" y1="317.60" x2="506.00" y2="319.00" stroke="#4a8a4a" stroke-width="0.5"/>
<path d="M393.7,319.0 L394.6,319.0 L394.6,331.2 L399.4,331.2 L399.4,334.0 L400.4,334.0 L400.4,343.7 L401.3,343.7 L401.3,346.5 L403.3,346.5 L403.3,351.3 L405.2,351.3 L405.2,354.2 L406.5,354.2 L406.5,367.7 L407.2,367.7 L407.2,375.4 L409.8,375.4 L409.8,378.8 L413.8,378.8 L413.8,387.7 L418.5,387.7 L418.5,390.5 L424.0,390.5 L424.0,397.5 L429.0,397.5 L429.0,400.5 L430.0,400.5" fill="none" stroke="#c0164a" stroke-width="1.0"/>
<path d="M394.6,319.6 L397.2,319.6 L397.2,321.2 L399.8,321.2 L399.8,322.6 L402.4,322.6 L402.4,323.1 L405.0,323.1 L405.0,323.9 L407.6,323.9 L407.6,325.2 L410.2,325.2 L410.2,326.0 L412.8,326.0 L412.8,326.6 L415.4,326.6 L415.4,327.8 L418.0,327.8 L418.0,329.4 L420.6,329.4 L420.6,331.0 L423.2,331.0 L423.2,332.5 L425.8,332.5 L425.8,334.4 L428.4,334.4 L428.4,336.3 L431.0,336.3 L431.0,339.9 L433.6,339.9 L433.6,344.3 L436.2,344.3 L436.2,347.5 L438.8,347.5 L438.8,350.6 L441.4,350.6 L441.4,353.7 L444.0,353.7 L444.0,357.9 L446.6,357.9 L446.6,362.2 L449.2,362.2 L449.2,366.5 L451.8,366.5 L451.8,370.5 L454.4,370.5 L454.4,374.1 L457.0,374.1 L457.0,377.0 L459.6,377.0 L459.6,379.6 L462.2,379.6 L462.2,381.9 L464.8,381.9 L464.8,383.5 L467.4,383.5 L467.4,385.1 L470.0,385.1 L470.0,386.8 L472.6,386.8 L472.6,388.7 L475.2,388.7 L475.2,390.7 L477.8,390.7 L477.8,392.3 L480.4,392.3 L480.4,393.8 L483.0,393.8 L483.0,395.4 L485.6,395.4 L485.6,396.4 L488.2,396.4 L488.2,397.5 L490.8,397.5 L490.8,398.5 L493.4,398.5 L493.4,399.0 L496.0,399.0 L496.0,399.5 L498.6,399.5 L498.6,399.9 L501.2,399.9 L501.2,400.3 L503.8,400.3 L503.8,400.5" fill="none" stroke="#f2a23a" stroke-width="1.0"/>
<text x="479.00" y="329.00" font-size="6.8" textLength="27.0" lengthAdjust="spacingAndGlyphs" fill="#262626" stroke="#262626" stroke-width="0.1"><tspan font-style="italic">P</tspan> &lt; .0001</text>
<rect x="0.5" y="0.5" width="519" height="554" fill="none" stroke="#585858" stroke-width="1"/>
</svg>
</body></html>
